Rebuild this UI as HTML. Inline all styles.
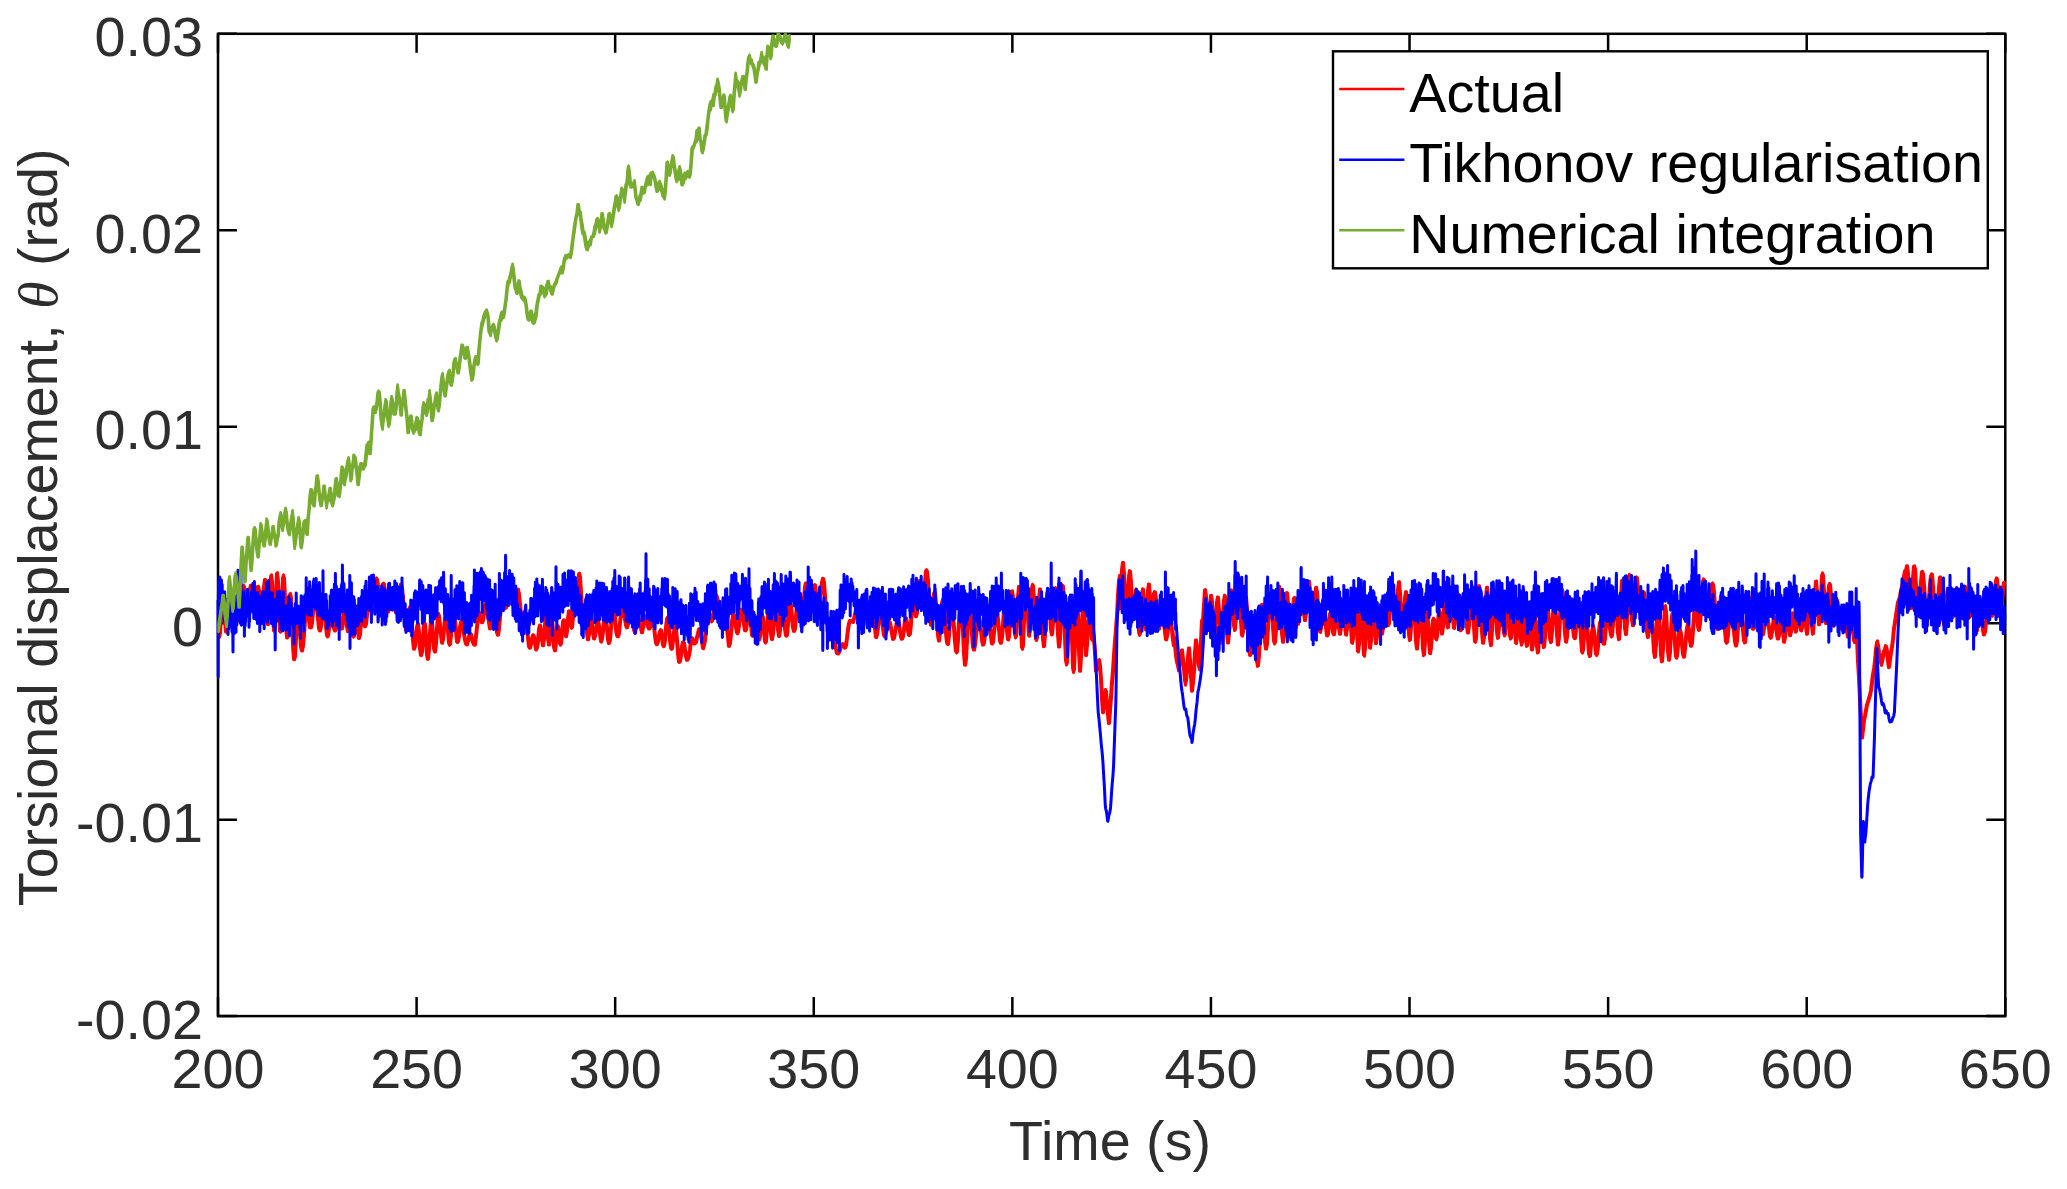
<!DOCTYPE html>
<html><head><meta charset="utf-8"><style>html,body{margin:0;padding:0;background:#fff;overflow:hidden}svg{display:block}text{font-family:"Liberation Sans",sans-serif;font-size:55.7px}</style></head>
<body><svg width="2067" height="1189" viewBox="0 0 2067 1189">
<rect width="2067" height="1189" fill="#fff"/>
<rect x="218.0" y="33.8" width="1787.30" height="982.30" fill="none" stroke="#000" stroke-width="2.5"/>
<path d="M218.00 1016.1V997.1M218.00 33.8V52.8M416.59 1016.1V997.1M416.59 33.8V52.8M615.18 1016.1V997.1M615.18 33.8V52.8M813.77 1016.1V997.1M813.77 33.8V52.8M1012.36 1016.1V997.1M1012.36 33.8V52.8M1210.94 1016.1V997.1M1210.94 33.8V52.8M1409.53 1016.1V997.1M1409.53 33.8V52.8M1608.12 1016.1V997.1M1608.12 33.8V52.8M1806.71 1016.1V997.1M1806.71 33.8V52.8M2005.30 1016.1V997.1M2005.30 33.8V52.8M218.0 1016.10H237.0M2005.3 1016.10H1986.3M218.0 819.64H237.0M2005.3 819.64H1986.3M218.0 623.18H237.0M2005.3 623.18H1986.3M218.0 426.72H237.0M2005.3 426.72H1986.3M218.0 230.26H237.0M2005.3 230.26H1986.3M218.0 33.80H237.0M2005.3 33.80H1986.3" stroke="#000" stroke-width="2.5" fill="none"/>
<g stroke-width="3.0" stroke-linejoin="round">
<path fill="#f00" stroke="#f00" d="M218.5 618.6 219.5 633.4 220.5 616.4 221.5 598.8 222.5 595.1 223.5 596.1 224.5 605.9 225.5 620.9 226.5 626.9 227.5 614.8 228.5 600.9 229.5 597.9 230.5 598.9 231.5 609.8 232.5 622.4 233.5 624.6 234.5 614.5 235.5 603.7 236.5 600.1 237.5 600.3 238.5 607.3 239.5 617.2 240.5 613.7 241.5 600.4 242.5 588.3 243.5 585.1 244.5 586.7 245.5 594.9 246.5 605.7 247.5 611.8 248.5 600.5 249.5 588.9 250.5 585.2 251.5 585.2 252.5 591.0 253.5 602.2 254.5 612.4 255.5 601.6 256.5 592.0 257.5 586.4 258.5 586.3 259.5 590.5 260.5 602.5 261.5 612.8 262.5 602.4 263.5 586.8 264.5 579.4 265.5 579.4 266.5 590.6 267.5 611.4 268.5 617.1 269.5 595.3 270.5 576.3 271.5 574.8 272.5 581.9 273.5 608.5 274.5 623.4 275.5 594.4 276.5 573.5 277.5 572.6 278.5 581.2 279.5 608.6 280.5 625.7 281.5 601.8 282.5 578.0 283.5 574.9 284.5 578.4 285.5 597.8 286.5 624.1 287.5 631.2 288.5 610.2 289.5 594.7 290.5 593.4 291.5 597.9 292.5 617.7 293.5 645.5 294.5 656.3 295.5 638.2 296.5 619.7 297.5 610.2 298.5 609.6 299.5 613.7 300.5 630.8 301.5 646.6 302.5 645.8 303.5 634.5 304.5 620.6 305.5 612.3 306.5 608.9 307.5 608.8 308.5 612.6 309.5 620.0 310.5 627.5 311.5 623.1 312.5 612.4 313.5 604.3 314.5 598.2 315.5 597.9 316.5 599.9 317.5 607.6 318.5 618.5 319.5 628.7 320.5 626.5 321.5 615.1 322.5 607.7 323.5 606.1 324.5 606.3 325.5 612.3 326.5 626.5 327.5 635.5 328.5 628.9 329.5 620.0 330.5 615.9 331.5 614.9 332.5 615.6 333.5 621.4 334.5 628.3 335.5 628.6 336.5 622.5 337.5 615.2 338.5 612.8 339.5 612.8 340.5 619.0 341.5 626.9 342.5 622.6 343.5 614.0 344.5 611.4 345.5 611.4 346.5 616.4 347.5 626.6 348.5 623.3 349.5 612.9 350.5 612.0 351.5 614.3 352.5 624.8 353.5 635.7 354.5 624.7 355.5 616.5 356.5 616.0 357.5 620.4 358.5 631.5 359.5 634.3 360.5 622.9 361.5 616.7 362.5 615.9 363.5 617.0 364.5 624.1 365.5 623.9 366.5 615.4 367.5 608.8 368.5 604.1 369.5 603.9 370.5 605.9 371.5 610.4 372.5 606.2 373.5 594.4 374.5 584.3 375.5 578.9 376.5 577.8 377.5 579.5 378.5 585.0 379.5 589.2 380.5 590.4 381.5 586.9 382.5 584.0 383.5 583.0 384.5 584.2 385.5 593.3 386.5 600.6 387.5 607.6 388.5 609.9 389.5 604.1 390.5 597.8 391.5 597.0 392.5 597.6 393.5 598.1 394.5 602.6 395.5 607.0 396.5 612.2 397.5 607.4 398.5 598.2 399.5 590.2 400.5 584.3 401.5 584.3 402.5 587.4 403.5 598.7 404.5 610.9 405.5 623.1 406.5 629.3 407.5 620.1 408.5 610.6 409.5 607.1 410.5 607.1 411.5 611.7 412.5 625.4 413.5 640.9 414.5 646.1 415.5 636.9 416.5 627.0 417.5 623.4 418.5 623.7 419.5 632.3 420.5 648.2 421.5 652.2 422.5 638.7 423.5 625.0 424.5 622.3 425.5 624.2 426.5 638.3 427.5 654.9 428.5 649.3 429.5 633.1 430.5 620.6 431.5 619.3 432.5 621.5 433.5 635.6 434.5 648.6 435.5 643.6 436.5 629.1 437.5 615.4 438.5 613.4 439.5 615.6 440.5 625.7 441.5 634.7 442.5 639.7 443.5 629.5 444.5 618.7 445.5 611.1 446.5 611.1 447.5 617.3 448.5 630.9 449.5 643.0 450.5 635.0 451.5 621.7 452.5 611.3 453.5 608.7 454.5 609.5 455.5 618.9 456.5 630.9 457.5 641.7 458.5 636.4 459.5 627.0 460.5 622.2 461.5 619.9 462.5 620.4 463.5 626.6 464.5 634.1 465.5 640.0 466.5 644.0 467.5 641.1 468.5 636.7 469.5 633.3 470.5 633.3 471.5 634.3 472.5 639.4 473.5 642.6 474.5 644.5 475.5 636.1 476.5 626.9 477.5 617.6 478.5 612.6 479.5 612.2 480.5 615.3 481.5 619.5 482.5 620.6 483.5 614.3 484.5 606.1 485.5 603.6 486.5 603.4 487.5 606.1 488.5 614.5 489.5 622.6 490.5 627.8 491.5 620.2 492.5 612.3 493.5 609.2 494.5 609.3 495.5 613.4 496.5 623.7 497.5 632.4 498.5 628.9 499.5 617.3 500.5 601.1 501.5 593.1 502.5 592.0 503.5 593.9 504.5 601.1 505.5 607.3 506.5 603.2 507.5 595.0 508.5 585.4 509.5 581.3 510.5 579.8 511.5 579.6 512.5 582.9 513.5 589.6 514.5 596.3 515.5 593.5 516.5 590.1 517.5 589.3 518.5 589.2 519.5 594.3 520.5 604.3 521.5 614.6 522.5 620.8 523.5 615.1 524.5 611.3 525.5 611.3 526.5 616.3 527.5 626.6 528.5 637.8 529.5 646.5 530.5 644.2 531.5 638.7 532.5 635.0 533.5 634.7 534.5 636.4 535.5 642.7 536.5 647.7 537.5 641.4 538.5 629.0 539.5 625.0 540.5 625.0 541.5 631.4 542.5 640.0 543.5 639.1 544.5 624.1 545.5 616.2 546.5 616.0 547.5 623.1 548.5 638.5 549.5 638.7 550.5 623.4 551.5 617.3 552.5 617.5 553.5 630.5 554.5 647.2 555.5 642.4 556.5 629.2 557.5 625.4 558.5 626.5 559.5 635.1 560.5 643.5 561.5 633.1 562.5 621.4 563.5 619.7 564.5 620.1 565.5 627.6 566.5 631.2 567.5 618.6 568.5 611.0 569.5 610.7 570.5 614.9 571.5 624.9 572.5 617.0 573.5 600.5 574.5 596.0 575.5 596.9 576.5 604.3 577.5 592.1 578.5 573.9 579.5 573.2 580.5 576.8 581.5 592.4 582.5 609.2 583.5 608.3 584.5 606.3 585.5 607.4 586.5 616.4 587.5 632.6 588.5 634.5 589.5 625.4 590.5 619.7 591.5 619.5 592.5 624.4 593.5 632.1 594.5 636.2 595.5 630.3 596.5 622.3 597.5 619.3 598.5 619.7 599.5 625.7 600.5 633.9 601.5 638.8 602.5 631.6 603.5 620.1 604.5 614.5 605.5 614.2 606.5 617.2 607.5 628.2 608.5 639.7 609.5 639.8 610.5 628.1 611.5 616.1 612.5 609.7 613.5 608.7 614.5 610.1 615.5 617.6 616.5 630.0 617.5 635.3 618.5 633.3 619.5 622.6 620.5 614.2 621.5 609.6 622.5 608.6 623.5 608.6 624.5 613.6 625.5 618.9 626.5 625.2 627.5 624.4 628.5 618.9 629.5 613.5 630.5 610.3 631.5 610.3 632.5 612.7 633.5 622.3 634.5 629.8 635.5 627.9 636.5 620.5 637.5 616.6 638.5 616.8 639.5 620.2 640.5 624.9 641.5 628.0 642.5 627.7 643.5 622.8 644.5 617.8 645.5 615.9 646.5 616.4 647.5 620.3 648.5 626.7 649.5 627.7 650.5 623.0 651.5 618.3 652.5 618.3 653.5 619.1 654.5 625.7 655.5 635.8 656.5 642.9 657.5 641.6 658.5 635.5 659.5 631.5 660.5 629.6 661.5 630.3 662.5 637.0 663.5 644.8 664.5 640.4 665.5 627.4 666.5 618.7 667.5 617.0 668.5 618.3 669.5 627.3 670.5 640.2 671.5 648.1 672.5 640.5 673.5 632.3 674.5 625.2 675.5 625.2 676.5 627.9 677.5 640.3 678.5 653.3 679.5 661.3 680.5 655.5 681.5 646.4 682.5 641.9 683.5 641.8 684.5 642.6 685.5 650.1 686.5 656.3 687.5 658.9 688.5 654.9 689.5 649.4 690.5 640.2 691.5 637.9 692.5 637.8 693.5 640.3 694.5 643.4 695.5 642.4 696.5 637.3 697.5 633.4 698.5 629.1 699.5 628.5 700.5 630.7 701.5 635.3 702.5 641.5 703.5 645.1 704.5 640.4 705.5 630.2 706.5 619.8 707.5 613.7 708.5 613.1 709.5 613.2 710.5 615.7 711.5 620.9 712.5 617.2 713.5 609.8 714.5 599.4 715.5 595.1 716.5 595.0 717.5 597.0 718.5 602.6 719.5 610.7 720.5 616.2 721.5 618.9 722.5 614.5 723.5 612.6 724.5 612.6 725.5 614.5 726.5 620.9 727.5 628.6 728.5 637.0 729.5 643.1 730.5 634.4 731.5 622.0 732.5 615.4 733.5 614.5 734.5 614.7 735.5 619.1 736.5 627.5 737.5 632.2 738.5 625.2 739.5 617.3 740.5 610.0 741.5 609.2 742.5 610.0 743.5 614.8 744.5 624.2 745.5 629.8 746.5 623.6 747.5 614.0 748.5 609.7 749.5 609.7 750.5 613.7 751.5 623.6 752.5 635.0 753.5 627.1 754.5 618.7 755.5 617.0 756.5 617.1 757.5 623.1 758.5 633.8 759.5 636.4 760.5 625.9 761.5 615.5 762.5 614.9 763.5 617.6 764.5 629.6 765.5 641.2 766.5 628.5 767.5 614.6 768.5 610.5 769.5 610.9 770.5 618.4 771.5 633.7 772.5 633.8 773.5 620.5 774.5 607.7 775.5 606.0 776.5 606.7 777.5 615.9 778.5 629.5 779.5 630.8 780.5 618.8 781.5 607.1 782.5 603.6 783.5 603.7 784.5 613.0 785.5 629.0 786.5 635.0 787.5 624.4 788.5 611.5 789.5 605.5 790.5 604.2 791.5 605.7 792.5 616.9 793.5 627.4 794.5 628.9 795.5 616.1 796.5 604.6 797.5 598.8 798.5 598.0 799.5 599.8 800.5 607.5 801.5 616.1 802.5 610.5 803.5 598.0 804.5 586.6 805.5 583.0 806.5 583.0 807.5 587.1 808.5 595.4 809.5 605.6 810.5 607.1 811.5 598.7 812.5 590.5 813.5 585.8 814.5 584.6 815.5 585.0 816.5 593.0 817.5 602.9 818.5 609.3 819.5 602.4 820.5 591.2 821.5 582.3 822.5 578.3 823.5 578.4 824.5 582.8 825.5 596.1 826.5 610.7 827.5 619.5 828.5 620.1 829.5 619.8 830.5 620.6 831.5 621.6 832.5 626.0 833.5 629.6 834.5 634.3 835.5 643.5 836.5 649.0 837.5 653.4 838.5 652.2 839.5 650.3 840.5 645.6 841.5 645.1 842.5 643.6 843.5 644.1 844.5 646.7 845.5 645.6 846.5 638.2 847.5 629.6 848.5 623.5 849.5 620.5 850.5 620.5 851.5 620.3 852.5 620.9 853.5 618.7 854.5 614.1 855.5 610.4 856.5 608.7 857.5 609.0 858.5 613.3 859.5 619.8 860.5 620.6 861.5 616.6 862.5 609.9 863.5 607.5 864.5 607.4 865.5 608.6 866.5 615.8 867.5 622.6 868.5 625.0 869.5 619.6 870.5 610.1 871.5 605.6 872.5 605.5 873.5 608.9 874.5 617.6 875.5 628.4 876.5 634.7 877.5 627.7 878.5 616.9 879.5 611.5 880.5 611.3 881.5 613.8 882.5 620.7 883.5 628.4 884.5 635.4 885.5 632.9 886.5 629.2 887.5 623.2 888.5 621.6 889.5 621.5 890.5 622.7 891.5 628.0 892.5 633.6 893.5 638.1 894.5 632.9 895.5 626.9 896.5 621.2 897.5 619.5 898.5 619.6 899.5 623.6 900.5 631.4 901.5 637.1 902.5 636.5 903.5 629.4 904.5 619.8 905.5 617.9 906.5 617.9 907.5 622.4 908.5 630.9 909.5 633.7 910.5 624.0 911.5 607.3 912.5 598.4 913.5 598.0 914.5 600.8 915.5 611.6 916.5 612.8 917.5 600.8 918.5 584.9 919.5 580.4 920.5 580.3 921.5 584.2 922.5 592.4 923.5 596.5 924.5 582.4 925.5 571.0 926.5 569.7 927.5 571.3 928.5 580.5 929.5 598.4 930.5 618.0 931.5 620.0 932.5 607.0 933.5 593.6 934.5 591.7 935.5 592.8 936.5 602.8 937.5 621.1 938.5 635.1 939.5 632.8 940.5 616.6 941.5 603.2 942.5 599.0 943.5 599.0 944.5 605.8 945.5 619.2 946.5 633.7 947.5 642.7 948.5 635.1 949.5 622.3 950.5 611.2 951.5 607.4 952.5 608.1 953.5 613.6 954.5 627.8 955.5 641.7 956.5 651.0 957.5 640.3 958.5 621.3 959.5 605.6 960.5 600.8 961.5 601.1 962.5 610.8 963.5 631.8 964.5 653.6 965.5 658.9 966.5 640.8 967.5 618.9 968.5 605.0 969.5 603.4 970.5 605.0 971.5 618.2 972.5 634.5 973.5 647.1 974.5 645.3 975.5 636.1 976.5 626.4 977.5 618.6 978.5 616.5 979.5 616.9 980.5 622.1 981.5 629.9 982.5 640.3 983.5 642.9 984.5 634.0 985.5 623.6 986.5 615.0 987.5 612.8 988.5 613.1 989.5 617.1 990.5 626.8 991.5 636.9 992.5 642.3 993.5 633.2 994.5 622.6 995.5 612.6 996.5 610.3 997.5 611.2 998.5 619.1 999.5 629.2 1000.5 641.2 1001.5 637.6 1002.5 625.2 1003.5 609.4 1004.5 604.2 1005.5 604.5 1006.5 614.8 1007.5 631.0 1008.5 636.6 1009.5 621.8 1010.5 601.9 1011.5 591.2 1012.5 590.8 1013.5 597.0 1014.5 617.5 1015.5 634.0 1016.5 621.6 1017.5 597.4 1018.5 586.4 1019.5 586.4 1020.5 598.0 1021.5 626.7 1022.5 645.6 1023.5 620.2 1024.5 590.0 1025.5 578.6 1026.5 578.7 1027.5 592.3 1028.5 617.5 1029.5 628.1 1030.5 606.4 1031.5 588.0 1032.5 584.3 1033.5 585.8 1034.5 599.6 1035.5 623.5 1036.5 637.8 1037.5 621.5 1038.5 599.8 1039.5 589.1 1040.5 589.1 1041.5 596.2 1042.5 615.2 1043.5 638.3 1044.5 634.3 1045.5 615.5 1046.5 596.3 1047.5 589.2 1048.5 589.2 1049.5 596.5 1050.5 613.9 1051.5 630.0 1052.5 623.0 1053.5 604.0 1054.5 589.1 1055.5 587.5 1056.5 591.2 1057.5 609.5 1058.5 634.3 1059.5 639.6 1060.5 613.7 1061.5 592.0 1062.5 585.2 1063.5 586.1 1064.5 605.5 1065.5 637.6 1066.5 660.5 1067.5 640.0 1068.5 612.9 1069.5 597.3 1070.5 597.3 1071.5 609.2 1072.5 638.4 1073.5 667.7 1074.5 643.3 1075.5 610.6 1076.5 597.2 1077.5 597.2 1078.5 615.1 1079.5 650.6 1080.5 657.1 1081.5 624.0 1082.5 602.2 1083.5 601.4 1084.5 611.5 1085.5 639.1 1086.5 644.6 1087.5 626.2 1088.5 613.8 1089.5 612.2 1090.5 614.4 1091.5 627.4 1092.5 637.9 1093.5 629.3 1094.5 639.7 1095.5 651.9 1096.5 668.9 1097.5 664.2 1098.5 660.6 1099.5 659.5 1100.5 665.7 1101.5 678.8 1102.5 698.5 1103.5 700.0 1104.5 694.1 1105.5 689.4 1106.5 691.7 1107.5 703.9 1108.5 715.0 1109.5 710.6 1110.5 697.3 1111.5 682.8 1112.5 670.3 1113.5 655.0 1114.5 641.0 1115.5 629.6 1116.5 615.5 1117.5 595.3 1118.5 580.9 1119.5 575.4 1120.5 587.2 1121.5 570.0 1122.5 562.4 1123.5 562.5 1124.5 574.0 1125.5 593.4 1126.5 610.5 1127.5 595.2 1128.5 576.1 1129.5 570.6 1130.5 571.4 1131.5 582.2 1132.5 603.0 1133.5 616.5 1134.5 603.7 1135.5 590.1 1136.5 589.6 1137.5 593.7 1138.5 610.2 1139.5 632.2 1140.5 615.8 1141.5 594.7 1142.5 588.7 1143.5 589.3 1144.5 604.7 1145.5 625.6 1146.5 610.6 1147.5 590.4 1148.5 584.0 1149.5 584.3 1150.5 597.4 1151.5 612.6 1152.5 605.6 1153.5 593.5 1154.5 591.6 1155.5 592.1 1156.5 599.2 1157.5 613.5 1158.5 625.5 1159.5 621.2 1160.5 610.5 1161.5 606.2 1162.5 606.2 1163.5 609.9 1164.5 620.6 1165.5 632.1 1166.5 636.4 1167.5 629.6 1168.5 621.7 1169.5 618.0 1170.5 618.2 1171.5 621.6 1172.5 629.5 1173.5 635.6 1174.5 637.4 1175.5 645.2 1176.5 655.4 1177.5 661.8 1178.5 665.6 1179.5 662.8 1180.5 658.7 1181.5 649.9 1182.5 649.9 1183.5 659.3 1184.5 669.0 1185.5 680.1 1186.5 669.5 1187.5 656.8 1188.5 648.1 1189.5 648.1 1190.5 660.5 1191.5 676.1 1192.5 682.6 1193.5 671.3 1194.5 652.5 1195.5 640.1 1196.5 640.1 1197.5 647.5 1198.5 659.5 1199.5 662.0 1200.5 641.3 1201.5 620.4 1202.5 620.4 1203.5 605.1 1204.5 590.1 1205.5 589.5 1206.5 596.1 1207.5 615.8 1208.5 622.8 1209.5 606.8 1210.5 595.4 1211.5 595.3 1212.5 601.0 1213.5 619.3 1214.5 631.9 1215.5 617.4 1216.5 602.0 1217.5 596.9 1218.5 597.1 1219.5 611.1 1220.5 632.0 1221.5 635.0 1222.5 615.3 1223.5 600.2 1224.5 595.1 1225.5 596.1 1226.5 613.9 1227.5 632.7 1228.5 633.3 1229.5 610.1 1230.5 593.0 1231.5 589.9 1232.5 592.2 1233.5 606.7 1234.5 625.4 1235.5 616.7 1236.5 595.3 1237.5 575.9 1238.5 574.5 1239.5 580.6 1240.5 600.7 1241.5 622.0 1242.5 631.9 1243.5 615.7 1244.5 601.3 1245.5 597.2 1246.5 597.3 1247.5 608.1 1248.5 625.9 1249.5 645.8 1250.5 653.1 1251.5 641.1 1252.5 629.0 1253.5 625.7 1254.5 624.9 1255.5 627.8 1256.5 644.6 1257.5 661.1 1258.5 655.3 1259.5 636.2 1260.5 616.5 1261.5 604.4 1262.5 604.2 1263.5 608.5 1264.5 624.0 1265.5 641.2 1266.5 644.2 1267.5 627.4 1268.5 607.0 1269.5 594.9 1270.5 594.7 1271.5 596.5 1272.5 608.3 1273.5 626.6 1274.5 641.1 1275.5 630.4 1276.5 612.0 1277.5 595.0 1278.5 586.3 1279.5 586.3 1280.5 594.7 1281.5 616.4 1282.5 633.4 1283.5 635.7 1284.5 619.3 1285.5 599.3 1286.5 592.6 1287.5 592.8 1288.5 602.9 1289.5 619.7 1290.5 633.9 1291.5 621.9 1292.5 607.0 1293.5 598.4 1294.5 597.3 1295.5 599.0 1296.5 611.2 1297.5 622.4 1298.5 617.5 1299.5 603.5 1300.5 590.7 1301.5 588.7 1302.5 590.8 1303.5 599.8 1304.5 613.8 1305.5 613.4 1306.5 598.5 1307.5 585.5 1308.5 581.2 1309.5 581.2 1310.5 590.7 1311.5 609.1 1312.5 622.5 1313.5 614.0 1314.5 597.3 1315.5 587.6 1316.5 587.3 1317.5 592.4 1318.5 606.4 1319.5 621.1 1320.5 628.2 1321.5 617.7 1322.5 607.4 1323.5 605.2 1324.5 605.2 1325.5 612.2 1326.5 627.2 1327.5 634.3 1328.5 625.1 1329.5 614.0 1330.5 612.0 1331.5 613.6 1332.5 621.0 1333.5 632.5 1334.5 627.4 1335.5 614.6 1336.5 608.4 1337.5 608.4 1338.5 615.7 1339.5 628.3 1340.5 627.4 1341.5 613.0 1342.5 604.2 1343.5 604.2 1344.5 608.1 1345.5 623.3 1346.5 629.0 1347.5 613.1 1348.5 601.5 1349.5 600.6 1350.5 605.6 1351.5 626.7 1352.5 638.5 1353.5 616.8 1354.5 599.1 1355.5 598.0 1356.5 605.7 1357.5 630.0 1358.5 644.1 1359.5 621.9 1360.5 602.3 1361.5 601.7 1362.5 610.2 1363.5 635.8 1364.5 648.2 1365.5 621.2 1366.5 603.9 1367.5 602.9 1368.5 610.1 1369.5 633.6 1370.5 640.2 1371.5 621.7 1372.5 610.0 1373.5 609.7 1374.5 615.5 1375.5 632.0 1376.5 635.9 1377.5 617.4 1378.5 605.1 1379.5 604.8 1380.5 610.9 1381.5 624.4 1382.5 627.7 1383.5 612.8 1384.5 599.8 1385.5 597.9 1386.5 598.9 1387.5 610.3 1388.5 623.5 1389.5 611.7 1390.5 594.5 1391.5 585.3 1392.5 585.1 1393.5 589.8 1394.5 605.7 1395.5 617.5 1396.5 605.0 1397.5 589.5 1398.5 581.8 1399.5 581.8 1400.5 592.6 1401.5 612.0 1402.5 625.9 1403.5 614.8 1404.5 597.8 1405.5 591.8 1406.5 591.8 1407.5 597.3 1408.5 616.2 1409.5 634.4 1410.5 626.6 1411.5 607.1 1412.5 594.1 1413.5 593.3 1414.5 599.0 1415.5 620.7 1416.5 641.0 1417.5 636.2 1418.5 614.2 1419.5 601.2 1420.5 600.8 1421.5 607.3 1422.5 628.1 1423.5 648.4 1424.5 641.8 1425.5 622.2 1426.5 613.0 1427.5 613.0 1428.5 622.0 1429.5 641.0 1430.5 648.0 1431.5 631.8 1432.5 620.2 1433.5 618.1 1434.5 619.4 1435.5 632.2 1436.5 636.6 1437.5 621.9 1438.5 611.0 1439.5 610.1 1440.5 613.7 1441.5 626.1 1442.5 626.6 1443.5 608.2 1444.5 601.3 1445.5 601.2 1446.5 608.6 1447.5 622.8 1448.5 616.2 1449.5 600.2 1450.5 594.0 1451.5 594.0 1452.5 602.4 1453.5 618.0 1454.5 622.2 1455.5 606.2 1456.5 593.6 1457.5 592.2 1458.5 595.3 1459.5 610.5 1460.5 627.6 1461.5 620.4 1462.5 603.9 1463.5 593.6 1464.5 593.2 1465.5 597.3 1466.5 611.4 1467.5 626.9 1468.5 625.2 1469.5 607.8 1470.5 594.4 1471.5 591.3 1472.5 591.9 1473.5 605.1 1474.5 626.8 1475.5 638.6 1476.5 620.0 1477.5 597.8 1478.5 585.8 1479.5 585.8 1480.5 594.5 1481.5 612.4 1482.5 631.9 1483.5 637.4 1484.5 618.2 1485.5 597.3 1486.5 587.2 1487.5 587.2 1488.5 597.0 1489.5 619.4 1490.5 638.7 1491.5 630.1 1492.5 608.6 1493.5 595.5 1494.5 595.1 1495.5 599.1 1496.5 613.7 1497.5 631.9 1498.5 626.9 1499.5 610.4 1500.5 600.6 1501.5 600.3 1502.5 603.9 1503.5 619.6 1504.5 633.0 1505.5 619.1 1506.5 604.6 1507.5 601.3 1508.5 602.3 1509.5 617.7 1510.5 635.4 1511.5 619.6 1512.5 603.3 1513.5 601.9 1514.5 606.8 1515.5 627.9 1516.5 636.0 1517.5 615.0 1518.5 606.6 1519.5 606.6 1520.5 620.9 1521.5 640.5 1522.5 626.1 1523.5 613.0 1524.5 612.5 1525.5 620.7 1526.5 640.5 1527.5 633.1 1528.5 620.1 1529.5 617.8 1530.5 621.9 1531.5 639.3 1532.5 643.5 1533.5 624.9 1534.5 616.1 1535.5 616.5 1536.5 627.8 1537.5 646.4 1538.5 636.7 1539.5 616.9 1540.5 611.0 1541.5 611.3 1542.5 622.6 1543.5 640.5 1544.5 637.4 1545.5 620.8 1546.5 608.4 1547.5 607.2 1548.5 609.6 1549.5 623.8 1550.5 638.5 1551.5 631.7 1552.5 613.4 1553.5 602.8 1554.5 600.6 1555.5 602.7 1556.5 616.5 1557.5 634.4 1558.5 637.1 1559.5 617.9 1560.5 598.2 1561.5 589.9 1562.5 589.4 1563.5 594.9 1564.5 613.8 1565.5 633.1 1566.5 636.7 1567.5 623.6 1568.5 608.3 1569.5 602.9 1570.5 602.5 1571.5 605.1 1572.5 615.6 1573.5 627.9 1574.5 637.1 1575.5 630.1 1576.5 617.2 1577.5 607.5 1578.5 605.4 1579.5 607.5 1580.5 620.7 1581.5 638.2 1582.5 650.0 1583.5 636.2 1584.5 617.8 1585.5 610.7 1586.5 610.9 1587.5 621.6 1588.5 639.4 1589.5 653.8 1590.5 645.5 1591.5 632.2 1592.5 625.6 1593.5 625.6 1594.5 630.8 1595.5 642.3 1596.5 653.8 1597.5 646.6 1598.5 631.3 1599.5 622.5 1600.5 621.1 1601.5 623.5 1602.5 633.3 1603.5 642.4 1604.5 638.5 1605.5 625.0 1606.5 616.6 1607.5 613.6 1608.5 613.9 1609.5 619.2 1610.5 628.3 1611.5 635.1 1612.5 623.9 1613.5 608.7 1614.5 598.8 1615.5 597.3 1616.5 599.5 1617.5 616.1 1618.5 632.8 1619.5 626.4 1620.5 599.3 1621.5 580.6 1622.5 579.8 1623.5 583.9 1624.5 603.2 1625.5 627.7 1626.5 622.1 1627.5 596.8 1628.5 578.3 1629.5 574.4 1630.5 577.9 1631.5 597.7 1632.5 619.7 1633.5 616.3 1634.5 596.1 1635.5 579.2 1636.5 576.8 1637.5 578.0 1638.5 590.0 1639.5 605.7 1640.5 611.9 1641.5 602.7 1642.5 593.3 1643.5 591.8 1644.5 592.7 1645.5 602.7 1646.5 619.9 1647.5 632.3 1648.5 628.7 1649.5 614.6 1650.5 609.9 1651.5 609.9 1652.5 618.1 1653.5 634.7 1654.5 652.1 1655.5 643.9 1656.5 619.5 1657.5 606.5 1658.5 605.9 1659.5 611.6 1660.5 632.5 1661.5 654.6 1662.5 648.4 1663.5 623.7 1664.5 606.5 1665.5 605.5 1666.5 611.0 1667.5 630.7 1668.5 651.1 1669.5 651.9 1670.5 631.8 1671.5 616.0 1672.5 612.5 1673.5 613.7 1674.5 625.5 1675.5 643.9 1676.5 656.1 1677.5 645.1 1678.5 633.5 1679.5 629.4 1680.5 629.5 1681.5 634.0 1682.5 644.6 1683.5 654.1 1684.5 648.9 1685.5 637.5 1686.5 628.2 1687.5 623.5 1688.5 623.5 1689.5 629.8 1690.5 640.7 1691.5 643.0 1692.5 630.1 1693.5 614.5 1694.5 603.2 1695.5 602.4 1696.5 604.4 1697.5 614.6 1698.5 626.7 1699.5 624.0 1700.5 609.3 1701.5 592.8 1702.5 581.4 1703.5 578.8 1704.5 580.4 1705.5 584.1 1706.5 594.4 1707.5 604.6 1708.5 606.3 1709.5 599.8 1710.5 590.8 1711.5 584.1 1712.5 582.9 1713.5 584.5 1714.5 592.0 1715.5 606.0 1716.5 619.1 1717.5 628.0 1718.5 620.6 1719.5 607.8 1720.5 596.4 1721.5 594.4 1722.5 595.4 1723.5 601.9 1724.5 615.9 1725.5 630.5 1726.5 641.7 1727.5 634.6 1728.5 621.1 1729.5 609.1 1730.5 605.4 1731.5 605.4 1732.5 609.9 1733.5 620.2 1734.5 631.9 1735.5 641.4 1736.5 641.2 1737.5 626.9 1738.5 613.0 1739.5 603.7 1740.5 602.9 1741.5 605.4 1742.5 616.8 1743.5 630.7 1744.5 640.4 1745.5 632.5 1746.5 617.7 1747.5 603.9 1748.5 597.6 1749.5 596.9 1750.5 600.9 1751.5 611.6 1752.5 622.8 1753.5 628.2 1754.5 622.6 1755.5 615.0 1756.5 611.1 1757.5 607.9 1758.5 607.9 1759.5 613.1 1760.5 619.7 1761.5 627.4 1762.5 633.2 1763.5 628.8 1764.5 618.5 1765.5 613.0 1766.5 612.9 1767.5 614.6 1768.5 620.7 1769.5 628.2 1770.5 636.5 1771.5 632.1 1772.5 624.4 1773.5 617.0 1774.5 616.6 1775.5 618.3 1776.5 625.9 1777.5 635.2 1778.5 635.5 1779.5 625.0 1780.5 614.7 1781.5 614.2 1782.5 617.0 1783.5 631.5 1784.5 637.1 1785.5 622.9 1786.5 614.7 1787.5 614.3 1788.5 617.6 1789.5 627.2 1790.5 631.7 1791.5 619.3 1792.5 612.8 1793.5 612.8 1794.5 618.2 1795.5 628.7 1796.5 624.3 1797.5 612.7 1798.5 610.0 1799.5 611.2 1800.5 621.5 1801.5 627.6 1802.5 613.7 1803.5 602.8 1804.5 602.8 1805.5 609.0 1806.5 626.0 1807.5 621.9 1808.5 602.2 1809.5 591.7 1810.5 591.7 1811.5 603.5 1812.5 626.4 1813.5 618.1 1814.5 594.6 1815.5 581.2 1816.5 581.1 1817.5 591.6 1818.5 613.6 1819.5 617.5 1820.5 596.0 1821.5 575.8 1822.5 572.9 1823.5 575.4 1824.5 591.1 1825.5 611.7 1826.5 613.5 1827.5 599.1 1828.5 585.5 1829.5 583.3 1830.5 584.4 1831.5 596.0 1832.5 614.4 1833.5 623.4 1834.5 613.8 1835.5 602.7 1836.5 599.7 1837.5 600.3 1838.5 607.1 1839.5 616.7 1840.5 626.0 1841.5 624.3 1842.5 615.9 1843.5 611.2 1844.5 611.0 1845.5 614.1 1846.5 621.0 1847.5 631.1 1848.5 634.1 1849.5 623.7 1850.5 619.2 1851.5 619.2 1852.5 621.6 1853.5 631.0 1854.5 640.2 1855.5 638.4 1856.5 629.2 1857.5 621.6 1858.5 661.2 1859.5 677.7 1860.5 699.0 1861.5 718.7 1862.5 729.4 1863.5 720.3 1864.5 716.0 1865.5 710.4 1866.5 704.8 1867.5 702.1 1868.5 698.3 1869.5 695.3 1870.5 690.5 1871.5 682.5 1872.5 674.2 1873.5 669.4 1874.5 660.8 1875.5 649.5 1876.5 642.5 1877.5 640.8 1878.5 645.2 1879.5 652.3 1880.5 656.8 1881.5 662.0 1882.5 656.9 1883.5 651.4 1884.5 649.2 1885.5 645.5 1886.5 646.4 1887.5 650.9 1888.5 661.1 1889.5 659.6 1890.5 652.5 1891.5 646.9 1892.5 639.6 1893.5 628.4 1894.5 622.1 1895.5 615.4 1896.5 608.6 1897.5 602.3 1898.5 599.8 1899.5 596.4 1900.5 590.3 1901.5 586.3 1902.5 582.2 1903.5 576.5 1904.5 570.9 1905.5 570.9 1906.5 565.7 1907.5 565.7 1908.5 573.7 1909.5 589.0 1910.5 605.3 1911.5 597.0 1912.5 577.8 1913.5 566.4 1914.5 565.8 1915.5 569.0 1916.5 585.2 1917.5 603.9 1918.5 612.4 1919.5 597.5 1920.5 582.2 1921.5 571.8 1922.5 571.3 1923.5 573.9 1924.5 584.9 1925.5 602.1 1926.5 614.1 1927.5 614.0 1928.5 599.2 1929.5 584.4 1930.5 576.0 1931.5 573.8 1932.5 574.5 1933.5 586.7 1934.5 602.3 1935.5 615.0 1936.5 618.3 1937.5 602.5 1938.5 587.5 1939.5 577.4 1940.5 576.9 1941.5 580.7 1942.5 595.4 1943.5 613.6 1944.5 624.0 1945.5 611.0 1946.5 594.9 1947.5 588.3 1948.5 588.3 1949.5 593.2 1950.5 602.9 1951.5 612.6 1952.5 616.7 1953.5 610.0 1954.5 603.9 1955.5 599.1 1956.5 598.7 1957.5 600.8 1958.5 605.1 1959.5 611.9 1960.5 614.7 1961.5 610.1 1962.5 600.1 1963.5 590.1 1964.5 586.6 1965.5 586.6 1966.5 592.5 1967.5 602.5 1968.5 614.7 1969.5 611.6 1970.5 601.2 1971.5 592.8 1972.5 592.7 1973.5 595.6 1974.5 604.3 1975.5 618.8 1976.5 629.0 1977.5 622.4 1978.5 612.7 1979.5 606.6 1980.5 606.3 1981.5 609.2 1982.5 619.6 1983.5 630.3 1984.5 631.9 1985.5 622.9 1986.5 612.8 1987.5 604.4 1988.5 601.9 1989.5 602.0 1990.5 603.9 1991.5 612.0 1992.5 613.7 1993.5 602.0 1994.5 589.9 1995.5 580.8 1996.5 577.8 1997.5 578.8 1998.5 591.0 1999.5 606.5 2000.5 616.6 2001.5 602.2 2002.5 589.0 2003.5 582.6 2004.5 582.2 2004.5 584.3 2003.5 589.0 2002.5 602.2 2001.5 616.6 2000.5 618.6 1999.5 616.6 1998.5 606.5 1997.5 591.0 1996.5 580.8 1995.5 589.9 1994.5 602.0 1993.5 613.7 1992.5 616.2 1991.5 616.1 1990.5 612.0 1989.5 603.9 1988.5 604.4 1987.5 612.8 1986.5 622.9 1985.5 631.9 1984.5 634.9 1983.5 634.9 1982.5 630.3 1981.5 619.6 1980.5 609.2 1979.5 612.7 1978.5 622.4 1977.5 630.7 1976.5 631.1 1975.5 629.0 1974.5 618.8 1973.5 604.3 1972.5 595.6 1971.5 601.2 1970.5 611.6 1969.5 617.6 1968.5 618.0 1967.5 614.7 1966.5 602.5 1965.5 592.5 1964.5 590.1 1963.5 600.1 1962.5 610.1 1961.5 614.7 1960.5 616.7 1959.5 616.3 1958.5 611.9 1957.5 605.1 1956.5 600.8 1955.5 603.9 1954.5 610.0 1953.5 616.7 1952.5 617.9 1951.5 617.5 1950.5 612.6 1949.5 602.9 1948.5 593.2 1947.5 594.9 1946.5 611.0 1945.5 624.0 1944.5 626.2 1943.5 625.2 1942.5 613.6 1941.5 595.4 1940.5 580.7 1939.5 587.5 1938.5 602.5 1937.5 618.3 1936.5 623.1 1935.5 622.9 1934.5 615.0 1933.5 602.3 1932.5 586.7 1931.5 576.0 1930.5 584.4 1929.5 599.2 1928.5 614.0 1927.5 621.0 1926.5 621.0 1925.5 614.1 1924.5 602.1 1923.5 584.9 1922.5 573.9 1921.5 582.2 1920.5 597.5 1919.5 612.4 1918.5 616.2 1917.5 615.9 1916.5 603.9 1915.5 585.2 1914.5 569.0 1913.5 577.8 1912.5 597.0 1911.5 608.4 1910.5 608.4 1909.5 605.3 1908.5 589.0 1907.5 573.7 1906.5 572.6 1905.5 582.9 1904.5 576.5 1903.5 582.2 1902.5 586.3 1901.5 590.3 1900.5 596.4 1899.5 599.8 1898.5 602.3 1897.5 608.6 1896.5 615.4 1895.5 622.1 1894.5 628.4 1893.5 639.6 1892.5 646.9 1891.5 652.5 1890.5 659.6 1889.5 667.2 1888.5 667.7 1887.5 661.1 1886.5 650.9 1885.5 649.2 1884.5 651.4 1883.5 656.9 1882.5 662.0 1881.5 665.5 1880.5 662.5 1879.5 656.8 1878.5 652.3 1877.5 645.2 1876.5 649.5 1875.5 660.8 1874.5 669.4 1873.5 674.2 1872.5 682.5 1871.5 690.5 1870.5 695.3 1869.5 698.3 1868.5 702.1 1867.5 704.8 1866.5 710.4 1865.5 716.0 1864.5 720.3 1863.5 729.4 1862.5 738.1 1861.5 738.1 1860.5 718.7 1859.5 699.0 1858.5 677.7 1857.5 661.2 1856.5 638.4 1855.5 642.6 1854.5 642.6 1853.5 640.2 1852.5 631.0 1851.5 621.6 1850.5 623.7 1849.5 634.1 1848.5 636.9 1847.5 636.9 1846.5 631.1 1845.5 621.0 1844.5 614.1 1843.5 615.9 1842.5 624.3 1841.5 628.6 1840.5 628.6 1839.5 626.0 1838.5 616.7 1837.5 607.1 1836.5 602.7 1835.5 613.8 1834.5 623.4 1833.5 626.2 1832.5 625.6 1831.5 614.4 1830.5 596.0 1829.5 585.5 1828.5 599.1 1827.5 613.5 1826.5 623.5 1825.5 623.5 1824.5 611.7 1823.5 591.1 1822.5 575.8 1821.5 596.0 1820.5 617.5 1819.5 624.8 1818.5 624.8 1817.5 613.6 1816.5 591.6 1815.5 594.6 1814.5 618.1 1813.5 633.7 1812.5 634.3 1811.5 626.4 1810.5 603.5 1809.5 602.2 1808.5 621.9 1807.5 634.2 1806.5 634.2 1805.5 626.0 1804.5 609.0 1803.5 613.7 1802.5 627.6 1801.5 631.0 1800.5 630.4 1799.5 621.5 1798.5 612.7 1797.5 624.3 1796.5 631.6 1795.5 632.2 1794.5 628.7 1793.5 618.2 1792.5 619.3 1791.5 631.7 1790.5 635.8 1789.5 635.6 1788.5 627.2 1787.5 617.6 1786.5 622.9 1785.5 637.1 1784.5 642.3 1783.5 642.1 1782.5 631.5 1781.5 617.0 1780.5 625.0 1779.5 635.5 1778.5 639.0 1777.5 639.0 1776.5 635.2 1775.5 625.9 1774.5 618.3 1773.5 624.4 1772.5 632.1 1771.5 637.6 1770.5 638.4 1769.5 636.5 1768.5 628.2 1767.5 620.7 1766.5 614.6 1765.5 618.5 1764.5 628.8 1763.5 634.6 1762.5 635.0 1761.5 633.2 1760.5 627.4 1759.5 619.7 1758.5 613.1 1757.5 611.1 1756.5 615.0 1755.5 622.6 1754.5 628.2 1753.5 629.4 1752.5 629.2 1751.5 622.8 1750.5 611.6 1749.5 600.9 1748.5 603.9 1747.5 617.7 1746.5 632.5 1745.5 642.5 1744.5 643.0 1743.5 640.4 1742.5 630.7 1741.5 616.8 1740.5 605.4 1739.5 613.0 1738.5 626.9 1737.5 641.2 1736.5 646.0 1735.5 646.0 1734.5 641.4 1733.5 631.9 1732.5 620.2 1731.5 609.9 1730.5 609.1 1729.5 621.1 1728.5 634.6 1727.5 642.2 1726.5 643.3 1725.5 641.7 1724.5 630.5 1723.5 615.9 1722.5 601.9 1721.5 596.4 1720.5 607.8 1719.5 620.6 1718.5 629.3 1717.5 629.6 1716.5 628.0 1715.5 619.1 1714.5 606.0 1713.5 592.0 1712.5 584.5 1711.5 590.8 1710.5 599.8 1709.5 606.3 1708.5 608.3 1707.5 608.3 1706.5 604.6 1705.5 594.4 1704.5 584.1 1703.5 581.4 1702.5 592.8 1701.5 609.3 1700.5 624.0 1699.5 630.1 1698.5 630.5 1697.5 626.7 1696.5 614.6 1695.5 604.4 1694.5 614.5 1693.5 630.1 1692.5 643.0 1691.5 646.3 1690.5 646.2 1689.5 640.7 1688.5 629.8 1687.5 628.2 1686.5 637.5 1685.5 648.9 1684.5 657.0 1683.5 657.3 1682.5 654.1 1681.5 644.6 1680.5 634.0 1679.5 633.5 1678.5 645.1 1677.5 656.1 1676.5 658.3 1675.5 656.7 1674.5 643.9 1673.5 625.5 1672.5 616.0 1671.5 631.8 1670.5 651.9 1669.5 660.2 1668.5 660.2 1667.5 651.1 1666.5 630.7 1665.5 611.0 1664.5 623.7 1663.5 648.4 1662.5 661.6 1661.5 661.9 1660.5 654.6 1659.5 632.5 1658.5 611.6 1657.5 619.5 1656.5 643.9 1655.5 656.9 1654.5 657.5 1653.5 652.1 1652.5 634.7 1651.5 618.1 1650.5 614.6 1649.5 628.7 1648.5 637.2 1647.5 637.5 1646.5 632.3 1645.5 619.9 1644.5 602.7 1643.5 593.3 1642.5 602.7 1641.5 611.9 1640.5 614.1 1639.5 613.5 1638.5 605.7 1637.5 590.0 1636.5 579.2 1635.5 596.1 1634.5 616.3 1633.5 625.8 1632.5 625.8 1631.5 619.7 1630.5 597.7 1629.5 578.3 1628.5 596.8 1627.5 622.1 1626.5 634.3 1625.5 634.5 1624.5 627.7 1623.5 603.2 1622.5 583.9 1621.5 599.3 1620.5 626.4 1619.5 639.4 1618.5 639.7 1617.5 632.8 1616.5 616.1 1615.5 599.5 1614.5 608.7 1613.5 623.9 1612.5 635.7 1611.5 637.0 1610.5 635.1 1609.5 628.3 1608.5 619.2 1607.5 616.6 1606.5 625.0 1605.5 638.5 1604.5 644.2 1603.5 644.2 1602.5 642.4 1601.5 633.3 1600.5 623.5 1599.5 631.3 1598.5 646.6 1597.5 654.2 1596.5 655.6 1595.5 653.8 1594.5 642.3 1593.5 630.8 1592.5 632.2 1591.5 645.5 1590.5 656.2 1589.5 656.6 1588.5 653.8 1587.5 639.4 1586.5 621.6 1585.5 617.8 1584.5 636.2 1583.5 650.0 1582.5 653.1 1581.5 651.6 1580.5 638.2 1579.5 620.7 1578.5 607.5 1577.5 617.2 1576.5 630.1 1575.5 638.3 1574.5 638.8 1573.5 637.1 1572.5 627.9 1571.5 615.6 1570.5 605.1 1569.5 608.3 1568.5 623.6 1567.5 636.7 1566.5 642.3 1565.5 641.8 1564.5 633.1 1563.5 613.8 1562.5 594.9 1561.5 598.2 1560.5 617.9 1559.5 637.1 1558.5 645.1 1557.5 645.1 1556.5 634.4 1555.5 616.5 1554.5 602.8 1553.5 613.4 1552.5 631.7 1551.5 642.2 1550.5 642.5 1549.5 638.5 1548.5 623.8 1547.5 609.6 1546.5 620.8 1545.5 637.4 1544.5 647.2 1543.5 647.6 1542.5 640.5 1541.5 622.6 1540.5 616.9 1539.5 636.7 1538.5 652.5 1537.5 653.0 1536.5 646.4 1535.5 627.8 1534.5 624.9 1533.5 643.5 1532.5 649.9 1531.5 649.9 1530.5 639.3 1529.5 621.9 1528.5 633.1 1527.5 645.6 1526.5 646.5 1525.5 640.5 1524.5 620.7 1523.5 626.1 1522.5 642.6 1521.5 645.3 1520.5 640.5 1519.5 620.9 1518.5 615.0 1517.5 636.0 1516.5 643.6 1515.5 642.8 1514.5 627.9 1513.5 606.8 1512.5 619.6 1511.5 638.0 1510.5 639.1 1509.5 635.4 1508.5 617.7 1507.5 604.6 1506.5 619.1 1505.5 634.3 1504.5 635.9 1503.5 633.0 1502.5 619.6 1501.5 603.9 1500.5 610.4 1499.5 626.9 1498.5 637.8 1497.5 638.4 1496.5 631.9 1495.5 613.7 1494.5 599.1 1493.5 608.6 1492.5 630.1 1491.5 645.3 1490.5 645.6 1489.5 638.7 1488.5 619.4 1487.5 597.0 1486.5 597.3 1485.5 618.2 1484.5 637.4 1483.5 643.2 1482.5 643.2 1481.5 631.9 1480.5 612.4 1479.5 594.5 1478.5 597.8 1477.5 620.0 1476.5 638.6 1475.5 642.4 1474.5 641.6 1473.5 626.8 1472.5 605.1 1471.5 594.4 1470.5 607.8 1469.5 625.2 1468.5 633.0 1467.5 633.0 1466.5 626.9 1465.5 611.4 1464.5 597.3 1463.5 603.9 1462.5 620.4 1461.5 630.1 1460.5 630.9 1459.5 627.6 1458.5 610.5 1457.5 595.3 1456.5 606.2 1455.5 622.2 1454.5 628.4 1453.5 628.0 1452.5 618.0 1451.5 602.4 1450.5 600.2 1449.5 616.2 1448.5 627.3 1447.5 627.9 1446.5 622.8 1445.5 608.6 1444.5 608.2 1443.5 626.6 1442.5 634.0 1441.5 634.0 1440.5 626.1 1439.5 613.7 1438.5 621.9 1437.5 636.6 1436.5 640.0 1435.5 638.7 1434.5 632.2 1433.5 620.2 1432.5 631.8 1431.5 648.0 1430.5 653.7 1429.5 653.4 1428.5 641.0 1427.5 622.0 1426.5 622.2 1425.5 641.8 1424.5 654.9 1423.5 655.7 1422.5 648.4 1421.5 628.1 1420.5 607.3 1419.5 614.2 1418.5 636.2 1417.5 649.1 1416.5 649.1 1415.5 641.0 1414.5 620.7 1413.5 599.0 1412.5 607.1 1411.5 626.6 1410.5 640.0 1409.5 640.5 1408.5 634.4 1407.5 616.2 1406.5 597.3 1405.5 597.8 1404.5 614.8 1403.5 626.3 1402.5 627.9 1401.5 625.9 1400.5 612.0 1399.5 592.6 1398.5 589.5 1397.5 605.0 1396.5 619.0 1395.5 620.1 1394.5 617.5 1393.5 605.7 1392.5 589.8 1391.5 594.5 1390.5 611.7 1389.5 623.5 1388.5 625.5 1387.5 623.5 1386.5 610.3 1385.5 599.8 1384.5 612.8 1383.5 627.7 1382.5 634.0 1381.5 633.9 1380.5 624.4 1379.5 610.9 1378.5 617.4 1377.5 635.9 1376.5 643.6 1375.5 643.6 1374.5 632.0 1373.5 615.5 1372.5 621.7 1371.5 640.2 1370.5 648.2 1369.5 647.9 1368.5 633.6 1367.5 610.1 1366.5 621.2 1365.5 648.2 1364.5 656.2 1363.5 654.8 1362.5 635.8 1361.5 610.2 1360.5 621.9 1359.5 644.1 1358.5 652.1 1357.5 651.2 1356.5 630.0 1355.5 605.7 1354.5 616.8 1353.5 638.5 1352.5 643.4 1351.5 642.6 1350.5 626.7 1349.5 605.6 1348.5 613.1 1347.5 629.0 1346.5 635.3 1345.5 634.7 1344.5 623.3 1343.5 608.1 1342.5 613.0 1341.5 627.4 1340.5 634.3 1339.5 634.3 1338.5 628.3 1337.5 615.7 1336.5 614.6 1335.5 627.4 1334.5 634.6 1333.5 634.8 1332.5 632.5 1331.5 621.0 1330.5 614.0 1329.5 625.1 1328.5 634.3 1327.5 636.1 1326.5 635.8 1325.5 627.2 1324.5 612.2 1323.5 607.4 1322.5 617.7 1321.5 628.2 1320.5 632.5 1319.5 631.9 1318.5 621.1 1317.5 606.4 1316.5 592.4 1315.5 597.3 1314.5 614.0 1313.5 625.2 1312.5 625.9 1311.5 622.5 1310.5 609.1 1309.5 590.7 1308.5 585.5 1307.5 598.5 1306.5 613.4 1305.5 620.6 1304.5 620.6 1303.5 613.8 1302.5 599.8 1301.5 590.8 1300.5 603.5 1299.5 617.5 1298.5 624.2 1297.5 624.5 1296.5 622.4 1295.5 611.2 1294.5 599.0 1293.5 607.0 1292.5 621.9 1291.5 635.3 1290.5 636.9 1289.5 633.9 1288.5 619.7 1287.5 602.9 1286.5 599.3 1285.5 619.3 1284.5 635.7 1283.5 642.3 1282.5 642.2 1281.5 633.4 1280.5 616.4 1279.5 594.7 1278.5 595.0 1277.5 612.0 1276.5 630.4 1275.5 642.1 1274.5 643.9 1273.5 641.1 1272.5 626.6 1271.5 608.3 1270.5 596.5 1269.5 607.0 1268.5 627.4 1267.5 644.2 1266.5 649.1 1265.5 649.1 1264.5 641.2 1263.5 624.0 1262.5 608.5 1261.5 616.5 1260.5 636.2 1259.5 655.3 1258.5 665.6 1257.5 666.5 1256.5 661.1 1255.5 644.6 1254.5 627.8 1253.5 629.0 1252.5 641.1 1251.5 653.1 1250.5 655.4 1249.5 655.3 1248.5 645.8 1247.5 625.9 1246.5 608.1 1245.5 601.3 1244.5 615.7 1243.5 631.9 1242.5 636.1 1241.5 635.1 1240.5 622.0 1239.5 600.7 1238.5 580.6 1237.5 595.3 1236.5 616.7 1235.5 629.5 1234.5 630.5 1233.5 625.4 1232.5 606.7 1231.5 593.0 1230.5 610.1 1229.5 633.3 1228.5 643.0 1227.5 643.0 1226.5 632.7 1225.5 613.9 1224.5 600.2 1223.5 615.3 1222.5 635.0 1221.5 643.0 1220.5 643.0 1219.5 632.0 1218.5 611.1 1217.5 602.0 1216.5 617.4 1215.5 631.9 1214.5 634.3 1213.5 633.2 1212.5 619.3 1211.5 601.0 1210.5 606.8 1209.5 622.8 1208.5 629.8 1207.5 629.8 1206.5 615.8 1205.5 596.1 1204.5 605.1 1203.5 630.4 1202.5 638.5 1201.5 641.3 1200.5 662.0 1199.5 670.0 1198.5 665.9 1197.5 659.5 1196.5 647.5 1195.5 652.5 1194.5 671.3 1193.5 682.6 1192.5 691.2 1191.5 691.2 1190.5 676.1 1189.5 660.5 1188.5 656.8 1187.5 669.5 1186.5 680.7 1185.5 685.2 1184.5 680.1 1183.5 669.0 1182.5 659.3 1181.5 658.7 1180.5 662.8 1179.5 668.3 1178.5 670.8 1177.5 665.6 1176.5 661.9 1175.5 655.4 1174.5 645.2 1173.5 645.6 1172.5 639.8 1171.5 629.5 1170.5 621.6 1169.5 621.7 1168.5 629.6 1167.5 636.4 1166.5 640.0 1165.5 639.5 1164.5 632.1 1163.5 620.6 1162.5 609.9 1161.5 610.5 1160.5 621.2 1159.5 629.1 1158.5 629.5 1157.5 625.5 1156.5 613.5 1155.5 599.2 1154.5 593.5 1153.5 605.6 1152.5 615.3 1151.5 616.1 1150.5 612.6 1149.5 597.4 1148.5 590.4 1147.5 610.6 1146.5 628.0 1145.5 630.0 1144.5 625.6 1143.5 604.7 1142.5 594.7 1141.5 615.8 1140.5 633.3 1139.5 635.4 1138.5 632.2 1137.5 610.2 1136.5 593.7 1135.5 603.7 1134.5 616.8 1133.5 618.9 1132.5 616.5 1131.5 603.0 1130.5 582.2 1129.5 576.1 1128.5 595.2 1127.5 611.1 1126.5 613.1 1125.5 610.5 1124.5 593.4 1123.5 574.0 1122.5 570.0 1121.5 587.2 1120.5 604.4 1119.5 609.0 1118.5 595.3 1117.5 615.5 1116.5 629.6 1115.5 641.0 1114.5 655.0 1113.5 670.3 1112.5 682.8 1111.5 697.3 1110.5 710.6 1109.5 723.3 1108.5 723.6 1107.5 715.0 1106.5 703.9 1105.5 694.1 1104.5 700.0 1103.5 712.7 1102.5 712.7 1101.5 698.5 1100.5 678.8 1099.5 665.7 1098.5 664.2 1097.5 668.9 1096.5 670.9 1095.5 670.9 1094.5 651.9 1093.5 639.7 1092.5 640.7 1091.5 639.3 1090.5 627.4 1089.5 614.4 1088.5 626.2 1087.5 644.6 1086.5 655.5 1085.5 655.5 1084.5 639.1 1083.5 611.5 1082.5 624.0 1081.5 657.1 1080.5 671.3 1079.5 671.2 1078.5 650.6 1077.5 615.1 1076.5 610.6 1075.5 643.3 1074.5 669.4 1073.5 672.5 1072.5 667.7 1071.5 638.4 1070.5 609.2 1069.5 612.9 1068.5 640.0 1067.5 662.7 1066.5 665.0 1065.5 660.5 1064.5 637.6 1063.5 605.5 1062.5 592.0 1061.5 613.7 1060.5 639.6 1059.5 647.0 1058.5 646.9 1057.5 634.3 1056.5 609.5 1055.5 591.2 1054.5 604.0 1053.5 623.0 1052.5 634.6 1051.5 635.0 1050.5 630.0 1049.5 613.9 1048.5 596.5 1047.5 596.3 1046.5 615.5 1045.5 634.3 1044.5 646.4 1043.5 646.7 1042.5 638.3 1041.5 615.2 1040.5 596.2 1039.5 599.8 1038.5 621.5 1037.5 637.8 1036.5 640.5 1035.5 639.2 1034.5 623.5 1033.5 599.6 1032.5 588.0 1031.5 606.4 1030.5 628.1 1029.5 636.2 1028.5 635.5 1027.5 617.5 1026.5 592.3 1025.5 590.0 1024.5 620.2 1023.5 645.6 1022.5 649.4 1021.5 647.0 1020.5 626.7 1019.5 598.0 1018.5 597.4 1017.5 621.6 1016.5 636.3 1015.5 638.0 1014.5 634.0 1013.5 617.5 1012.5 597.0 1011.5 601.9 1010.5 621.8 1009.5 636.6 1008.5 640.0 1007.5 639.5 1006.5 631.0 1005.5 614.8 1004.5 609.4 1003.5 625.2 1002.5 637.6 1001.5 643.2 1000.5 643.3 999.5 641.2 998.5 629.2 997.5 619.1 996.5 612.6 995.5 622.6 994.5 633.2 993.5 642.3 992.5 644.1 991.5 643.9 990.5 636.9 989.5 626.8 988.5 617.1 987.5 615.0 986.5 623.6 985.5 634.0 984.5 642.9 983.5 645.1 982.5 645.1 981.5 640.3 980.5 629.9 979.5 622.1 978.5 618.6 977.5 626.4 976.5 636.1 975.5 645.3 974.5 650.1 973.5 650.1 972.5 647.1 971.5 634.5 970.5 618.2 969.5 605.0 968.5 618.9 967.5 640.8 966.5 658.9 965.5 665.2 964.5 665.0 963.5 653.6 962.5 631.8 961.5 610.8 960.5 605.6 959.5 621.3 958.5 640.3 957.5 651.9 956.5 652.9 955.5 651.0 954.5 641.7 953.5 627.8 952.5 613.6 951.5 611.2 950.5 622.3 949.5 635.1 948.5 644.3 947.5 644.6 946.5 642.7 945.5 633.7 944.5 619.2 943.5 605.8 942.5 603.2 941.5 616.6 940.5 632.8 939.5 641.0 938.5 641.0 937.5 635.1 936.5 621.1 935.5 602.8 934.5 593.6 933.5 607.0 932.5 620.0 931.5 625.3 930.5 625.3 929.5 618.0 928.5 598.4 927.5 580.5 926.5 571.3 925.5 582.4 924.5 596.5 923.5 599.8 922.5 599.5 921.5 592.4 920.5 584.2 919.5 584.9 918.5 600.8 917.5 612.8 916.5 616.7 915.5 616.7 914.5 611.6 913.5 600.8 912.5 607.3 911.5 624.0 910.5 633.7 909.5 635.5 908.5 635.3 907.5 630.9 906.5 622.4 905.5 619.8 904.5 629.4 903.5 636.5 902.5 639.1 901.5 639.3 900.5 637.1 899.5 631.4 898.5 623.6 897.5 621.2 896.5 626.9 895.5 632.9 894.5 638.1 893.5 639.5 892.5 639.2 891.5 633.6 890.5 628.0 889.5 622.7 888.5 623.2 887.5 629.2 886.5 632.9 885.5 636.1 884.5 636.8 883.5 635.4 882.5 628.4 881.5 620.7 880.5 613.8 879.5 616.9 878.5 627.7 877.5 634.7 876.5 637.7 875.5 637.3 874.5 628.4 873.5 617.6 872.5 608.9 871.5 610.1 870.5 619.6 869.5 625.0 868.5 627.0 867.5 627.0 866.5 622.6 865.5 615.8 864.5 608.6 863.5 609.9 862.5 616.6 861.5 620.6 860.5 623.1 859.5 622.6 858.5 619.8 857.5 613.3 856.5 610.4 855.5 614.1 854.5 618.7 853.5 622.4 852.5 622.4 851.5 620.9 850.5 621.0 849.5 623.5 848.5 629.6 847.5 638.2 846.5 645.6 845.5 648.0 844.5 648.3 843.5 646.7 842.5 645.1 841.5 645.6 840.5 650.3 839.5 652.2 838.5 653.9 837.5 653.9 836.5 653.4 835.5 649.0 834.5 643.5 833.5 634.3 832.5 629.6 831.5 626.0 830.5 621.6 829.5 620.6 828.5 621.4 827.5 621.4 826.5 619.5 825.5 610.7 824.5 596.1 823.5 582.8 822.5 582.3 821.5 591.2 820.5 602.4 819.5 610.1 818.5 610.7 817.5 609.3 816.5 602.9 815.5 593.0 814.5 585.8 813.5 590.5 812.5 598.7 811.5 607.1 810.5 609.2 809.5 609.0 808.5 605.6 807.5 595.4 806.5 587.1 805.5 586.6 804.5 598.0 803.5 610.5 802.5 618.0 801.5 618.2 800.5 616.1 799.5 607.5 798.5 599.8 797.5 604.6 796.5 616.1 795.5 628.9 794.5 631.3 793.5 631.4 792.5 627.4 791.5 616.9 790.5 605.7 789.5 611.5 788.5 624.4 787.5 635.0 786.5 636.2 785.5 635.6 784.5 629.0 783.5 613.0 782.5 607.1 781.5 618.8 780.5 630.8 779.5 636.4 778.5 636.4 777.5 629.5 776.5 615.9 775.5 607.7 774.5 620.5 773.5 633.8 772.5 639.4 771.5 639.4 770.5 633.7 769.5 618.4 768.5 614.6 767.5 628.5 766.5 641.7 765.5 643.1 764.5 641.2 763.5 629.6 762.5 617.6 761.5 625.9 760.5 636.4 759.5 640.1 758.5 640.0 757.5 633.8 756.5 623.1 755.5 618.7 754.5 627.1 753.5 635.2 752.5 636.3 751.5 635.0 750.5 623.6 749.5 613.7 748.5 614.0 747.5 623.6 746.5 629.8 745.5 631.0 744.5 630.5 743.5 624.2 742.5 614.8 741.5 610.0 740.5 617.3 739.5 625.2 738.5 632.2 737.5 633.9 736.5 632.5 735.5 627.5 734.5 619.1 733.5 615.4 732.5 622.0 731.5 634.4 730.5 643.1 729.5 646.4 728.5 646.3 727.5 637.0 726.5 628.6 725.5 620.9 724.5 614.5 723.5 614.5 722.5 618.9 721.5 620.4 720.5 619.7 719.5 616.2 718.5 610.7 717.5 602.6 716.5 597.0 715.5 599.4 714.5 609.8 713.5 617.2 712.5 621.0 711.5 621.9 710.5 620.9 709.5 615.7 708.5 613.7 707.5 619.8 706.5 630.2 705.5 640.4 704.5 645.1 703.5 648.8 702.5 648.2 701.5 641.5 700.5 635.3 699.5 630.7 698.5 633.4 697.5 637.3 696.5 642.4 695.5 643.6 694.5 644.0 693.5 644.0 692.5 640.3 691.5 640.2 690.5 649.4 689.5 654.9 688.5 658.9 687.5 660.3 686.5 660.3 685.5 656.3 684.5 650.1 683.5 642.6 682.5 646.4 681.5 655.5 680.5 661.3 679.5 662.4 678.5 662.2 677.5 653.3 676.5 640.3 675.5 627.9 674.5 632.3 673.5 640.5 672.5 648.9 671.5 649.4 670.5 648.1 669.5 640.2 668.5 627.3 667.5 618.7 666.5 627.4 665.5 640.4 664.5 646.1 663.5 646.7 662.5 644.8 661.5 637.0 660.5 631.5 659.5 635.5 658.5 641.6 657.5 644.5 656.5 644.8 655.5 642.9 654.5 635.8 653.5 625.7 652.5 619.1 651.5 623.0 650.5 627.7 649.5 629.0 648.5 629.0 647.5 626.7 646.5 620.3 645.5 617.8 644.5 622.8 643.5 627.7 642.5 632.8 641.5 632.8 640.5 628.0 639.5 624.9 638.5 620.2 637.5 620.5 636.5 627.9 635.5 632.9 634.5 632.9 633.5 629.8 632.5 622.3 631.5 612.7 630.5 613.5 629.5 618.9 628.5 624.4 627.5 627.6 626.5 627.9 625.5 625.2 624.5 618.9 623.5 613.6 622.5 609.6 621.5 614.2 620.5 622.6 619.5 633.3 618.5 636.8 617.5 636.8 616.5 635.3 615.5 630.0 614.5 617.6 613.5 610.1 612.5 616.1 611.5 628.1 610.5 639.8 609.5 643.4 608.5 643.6 607.5 639.7 606.5 628.2 605.5 617.2 604.5 620.1 603.5 631.6 602.5 638.8 601.5 642.2 600.5 641.3 599.5 633.9 598.5 625.7 597.5 622.3 596.5 630.3 595.5 636.2 594.5 639.1 593.5 638.9 592.5 632.1 591.5 624.4 590.5 625.4 589.5 634.5 588.5 639.8 587.5 639.8 586.5 632.6 585.5 616.4 584.5 608.3 583.5 613.9 582.5 614.2 581.5 609.2 580.5 592.4 579.5 576.8 578.5 592.1 577.5 605.4 576.5 606.3 575.5 604.3 574.5 600.5 573.5 617.0 572.5 627.4 571.5 628.3 570.5 624.9 569.5 614.9 568.5 618.6 567.5 631.2 566.5 636.7 565.5 636.7 564.5 627.6 563.5 621.4 562.5 633.1 561.5 643.6 560.5 645.2 559.5 643.5 558.5 635.1 557.5 629.2 556.5 642.4 555.5 650.7 554.5 650.9 553.5 647.2 552.5 630.5 551.5 623.4 550.5 638.7 549.5 645.1 548.5 645.1 547.5 638.5 546.5 623.1 545.5 624.1 544.5 639.1 543.5 645.8 542.5 645.8 541.5 640.0 540.5 631.4 539.5 629.0 538.5 641.4 537.5 647.7 536.5 650.0 535.5 649.7 534.5 642.7 533.5 636.4 532.5 638.7 531.5 644.2 530.5 648.0 529.5 648.2 528.5 646.5 527.5 637.8 526.5 626.6 525.5 616.3 524.5 615.1 523.5 621.0 522.5 622.1 521.5 620.8 520.5 614.6 519.5 604.3 518.5 594.3 517.5 590.1 516.5 593.5 515.5 598.5 514.5 598.5 513.5 596.3 512.5 589.6 511.5 582.9 510.5 581.3 509.5 585.4 508.5 595.0 507.5 603.2 506.5 607.8 505.5 608.6 504.5 607.3 503.5 601.1 502.5 593.9 501.5 601.1 500.5 617.3 499.5 628.9 498.5 635.1 497.5 635.3 496.5 632.4 495.5 623.7 494.5 613.4 493.5 612.3 492.5 620.2 491.5 627.8 490.5 628.9 489.5 628.8 488.5 622.6 487.5 614.5 486.5 606.1 485.5 606.1 484.5 614.3 483.5 620.6 482.5 622.8 481.5 622.8 480.5 619.5 479.5 615.3 478.5 617.6 477.5 626.9 476.5 636.1 475.5 644.8 474.5 645.3 473.5 644.5 472.5 642.6 471.5 639.4 470.5 634.3 469.5 636.7 468.5 641.1 467.5 644.8 466.5 644.9 465.5 644.0 464.5 640.0 463.5 634.1 462.5 626.6 461.5 622.2 460.5 627.0 459.5 636.4 458.5 641.7 457.5 642.6 456.5 641.7 455.5 630.9 454.5 618.9 453.5 611.3 452.5 621.7 451.5 635.0 450.5 644.3 449.5 645.3 448.5 643.0 447.5 630.9 446.5 617.3 445.5 618.7 444.5 629.5 443.5 639.7 442.5 643.3 441.5 642.8 440.5 634.7 439.5 625.7 438.5 615.6 437.5 629.1 436.5 643.6 435.5 652.0 434.5 652.0 433.5 648.6 432.5 635.6 431.5 621.5 430.5 633.1 429.5 649.3 428.5 658.8 427.5 659.5 426.5 654.9 425.5 638.3 424.5 625.0 423.5 638.7 422.5 652.2 421.5 655.7 420.5 655.3 419.5 648.2 418.5 632.3 417.5 627.0 416.5 636.9 415.5 646.1 414.5 649.2 413.5 649.1 412.5 640.9 411.5 625.4 410.5 611.7 409.5 610.6 408.5 620.1 407.5 629.3 406.5 631.0 405.5 630.3 404.5 623.1 403.5 610.9 402.5 598.7 401.5 587.4 400.5 590.2 399.5 598.2 398.5 607.4 397.5 612.5 396.5 612.6 395.5 612.2 394.5 607.0 393.5 602.6 392.5 598.1 391.5 597.8 390.5 604.1 389.5 609.9 388.5 612.1 387.5 611.8 386.5 607.6 385.5 600.6 384.5 593.3 383.5 584.2 382.5 586.9 381.5 590.4 380.5 592.5 379.5 592.7 378.5 589.2 377.5 585.0 376.5 579.5 375.5 584.3 374.5 594.4 373.5 606.2 372.5 611.8 371.5 612.4 370.5 610.4 369.5 605.9 368.5 608.8 367.5 615.4 366.5 623.9 365.5 626.7 364.5 626.7 363.5 624.1 362.5 617.0 361.5 622.9 360.5 634.3 359.5 638.5 358.5 638.5 357.5 631.5 356.5 620.4 355.5 624.7 354.5 635.8 353.5 637.2 352.5 635.7 351.5 624.8 350.5 614.3 349.5 623.3 348.5 631.6 347.5 631.8 346.5 626.6 345.5 616.4 344.5 614.0 343.5 622.6 342.5 628.7 341.5 629.1 340.5 626.9 339.5 619.0 338.5 615.2 337.5 622.5 336.5 628.6 335.5 630.9 334.5 630.9 333.5 628.3 332.5 621.4 331.5 615.9 330.5 620.0 329.5 628.9 328.5 635.8 327.5 637.0 326.5 635.5 325.5 626.5 324.5 612.3 323.5 607.7 322.5 615.1 321.5 626.5 320.5 630.9 319.5 630.9 318.5 628.7 317.5 618.5 316.5 607.6 315.5 599.9 314.5 604.3 313.5 612.4 312.5 623.1 311.5 627.7 310.5 628.1 309.5 627.5 308.5 620.0 307.5 612.6 306.5 612.3 305.5 620.6 304.5 634.5 303.5 645.8 302.5 650.9 301.5 650.9 300.5 646.6 299.5 630.8 298.5 613.7 297.5 619.7 296.5 638.2 295.5 656.3 294.5 659.8 293.5 659.4 292.5 645.5 291.5 617.7 290.5 597.9 289.5 610.2 288.5 631.2 287.5 638.1 286.5 637.8 285.5 624.1 284.5 597.8 283.5 578.4 282.5 601.8 281.5 625.7 280.5 632.2 279.5 631.2 278.5 608.6 277.5 581.2 276.5 594.4 275.5 623.4 274.5 631.7 273.5 630.7 272.5 608.5 271.5 581.9 270.5 595.3 269.5 617.1 268.5 624.6 267.5 624.6 266.5 611.4 265.5 590.6 264.5 586.8 263.5 602.4 262.5 613.7 261.5 614.7 260.5 612.8 259.5 602.5 258.5 590.5 257.5 592.0 256.5 601.6 255.5 612.4 254.5 613.9 253.5 612.4 252.5 602.2 251.5 591.0 250.5 588.9 249.5 600.5 248.5 611.8 247.5 613.2 246.5 612.4 245.5 605.7 244.5 594.9 243.5 588.3 242.5 600.4 241.5 613.7 240.5 621.3 239.5 621.3 238.5 617.2 237.5 607.3 236.5 603.7 235.5 614.5 234.5 624.6 233.5 627.7 232.5 627.7 231.5 622.4 230.5 609.8 229.5 600.9 228.5 614.8 227.5 626.9 226.5 632.3 225.5 631.8 224.5 620.9 223.5 605.9 222.5 598.8 221.5 616.4 220.5 633.4 219.5 637.3 218.5 635.3Z"/>
<path fill="none" stroke="#00f" d="M218.0 600.0 218.2 677.0 218.4 596.7 218.6 581.6 218.8 587.3 219.0 586.1 219.2 595.4 219.4 591.8 219.6 599.4 219.8 576.9 220.0 614.0 220.2 595.3 220.4 608.5 220.6 597.0 220.8 593.7 221.0 603.4 221.2 606.3 221.4 579.9 221.6 601.2 221.8 610.6 222.0 594.4 222.2 584.4 222.4 608.4 222.6 600.0 222.8 593.5 223.0 598.9 223.2 599.7 223.4 593.3 223.6 593.6 223.8 607.2 224.0 621.1 224.2 605.6 224.4 602.8 224.6 591.8 224.8 613.8 225.0 606.8 225.2 614.1 225.4 617.3 225.6 607.4 225.8 603.0 226.0 612.4 226.2 612.6 226.4 622.3 226.6 600.2 226.8 603.4 227.0 607.1 227.2 599.0 227.4 614.1 227.6 619.2 227.8 604.7 228.0 634.5 228.2 623.7 228.4 621.6 228.6 620.8 228.8 629.1 229.0 605.5 229.2 625.2 229.4 622.9 229.6 603.5 229.8 623.4 230.0 616.1 230.2 626.0 230.4 616.8 230.6 619.4 230.8 623.4 231.0 612.4 231.2 623.4 231.4 618.6 231.6 623.1 231.8 614.8 232.0 632.1 232.2 623.0 232.4 616.7 232.6 628.8 232.8 630.7 233.0 652.0 233.2 603.5 233.4 624.6 233.6 604.5 233.8 616.9 234.0 613.2 234.2 633.8 234.4 607.4 234.6 621.9 234.8 625.2 235.0 596.5 235.2 612.8 235.4 600.0 235.6 615.7 235.8 626.3 236.0 632.2 236.2 596.0 236.4 607.1 236.6 605.0 236.8 625.2 237.0 612.7 237.2 600.7 237.4 610.9 237.6 606.4 237.8 603.6 238.0 570.3 238.2 607.5 238.4 607.7 238.6 602.8 238.8 600.7 239.0 588.3 239.2 598.1 239.4 616.9 239.6 600.0 239.8 591.0 240.0 621.5 240.2 607.2 240.4 623.4 240.6 604.5 240.8 599.7 241.0 572.8 241.2 616.5 241.4 625.2 241.6 600.8 241.8 595.5 242.0 612.9 242.2 601.8 242.4 607.2 242.6 606.7 242.8 613.2 243.0 620.7 243.2 611.2 243.4 624.8 243.6 608.9 243.8 616.1 244.0 591.7 244.2 600.5 244.4 636.2 244.6 607.1 244.8 616.7 245.0 615.1 245.2 625.6 245.4 616.6 245.6 621.7 245.8 609.4 246.0 600.0 246.2 601.0 246.4 605.3 246.6 596.7 246.8 604.2 247.0 608.7 247.2 611.7 247.4 604.3 247.6 589.2 247.8 608.3 248.0 610.5 248.2 616.5 248.4 612.8 248.6 602.7 248.8 598.8 249.0 627.3 249.2 613.0 249.4 622.0 249.6 619.6 249.8 598.0 250.0 613.6 250.2 611.7 250.4 610.5 250.6 609.2 250.8 605.5 251.0 605.2 251.2 592.6 251.4 601.9 251.6 593.0 251.8 603.4 252.0 597.3 252.2 611.0 252.4 585.0 252.6 603.4 252.8 602.9 253.0 583.2 253.2 596.4 253.4 599.4 253.6 595.3 253.8 618.4 254.0 617.4 254.2 609.2 254.4 581.6 254.6 606.1 254.8 594.2 255.0 594.6 255.2 599.5 255.4 597.7 255.6 604.3 255.8 593.4 256.0 594.1 256.2 619.4 256.4 613.3 256.6 603.0 256.8 595.6 257.0 603.5 257.2 593.3 257.4 623.5 257.6 592.5 257.8 608.9 258.0 599.6 258.2 594.3 258.4 608.7 258.6 613.9 258.8 612.3 259.0 611.2 259.2 621.7 259.4 609.5 259.6 613.5 259.8 631.8 260.0 616.5 260.2 600.0 260.4 617.6 260.6 607.0 260.8 596.7 261.0 614.1 261.2 612.0 261.4 617.0 261.6 607.6 261.8 619.3 262.0 623.4 262.2 609.9 262.4 612.6 262.6 591.5 262.8 612.5 263.0 598.7 263.2 601.3 263.4 600.8 263.6 592.0 263.8 603.5 264.0 619.9 264.2 628.8 264.4 608.3 264.6 619.9 264.8 604.0 265.0 594.8 265.2 608.0 265.4 610.7 265.6 601.5 265.8 607.8 266.0 609.8 266.2 594.7 266.4 582.8 266.6 601.0 266.8 600.6 267.0 600.5 267.2 614.0 267.4 622.3 267.6 598.0 267.8 606.8 268.0 609.9 268.2 607.3 268.4 609.8 268.6 580.4 268.8 611.9 269.0 616.5 269.2 611.9 269.4 599.8 269.6 608.9 269.8 618.2 270.0 608.4 270.2 602.2 270.4 617.7 270.6 592.5 270.8 611.4 271.0 606.6 271.2 597.1 271.4 623.4 271.6 609.8 271.8 600.1 272.0 611.6 272.2 601.9 272.4 592.9 272.6 598.5 272.8 609.6 273.0 614.6 273.2 625.9 273.4 608.3 273.6 614.1 273.8 606.3 274.0 617.4 274.2 610.1 274.4 610.5 274.6 614.6 274.8 602.7 275.0 599.8 275.2 649.9 275.4 614.7 275.6 608.4 275.8 616.0 276.0 604.8 276.2 613.9 276.4 604.5 276.6 613.9 276.8 599.6 277.0 621.2 277.2 608.2 277.4 592.0 277.6 608.7 277.8 605.9 278.0 613.9 278.2 596.9 278.4 614.3 278.6 608.8 278.8 601.7 279.0 613.1 279.2 608.3 279.4 611.6 279.6 591.2 279.8 599.7 280.0 612.8 280.2 609.5 280.4 623.5 280.6 603.6 280.8 611.3 281.0 629.5 281.2 603.6 281.4 597.6 281.6 609.4 281.8 609.7 282.0 616.8 282.2 611.5 282.4 605.0 282.6 623.9 282.8 631.0 283.0 622.7 283.2 592.0 283.4 610.7 283.6 606.1 283.8 618.1 284.0 611.9 284.2 625.7 284.4 629.4 284.6 619.7 284.8 615.7 285.0 614.4 285.2 620.1 285.4 629.0 285.6 621.5 285.8 611.6 286.0 630.2 286.2 618.1 286.4 605.7 286.6 609.3 286.8 609.2 287.0 609.1 287.2 619.3 287.4 628.7 287.6 620.4 287.8 614.6 288.0 624.1 288.2 621.3 288.4 619.7 288.6 596.5 288.8 630.6 289.0 623.5 289.2 627.3 289.4 636.0 289.6 625.2 289.8 602.8 290.0 599.0 290.2 619.7 290.4 616.6 290.6 624.3 290.8 615.3 291.0 617.7 291.2 602.8 291.4 620.6 291.6 610.9 291.8 618.0 292.0 620.1 292.2 614.4 292.4 618.8 292.6 614.9 292.8 623.7 293.0 621.7 293.2 610.0 293.4 608.8 293.6 628.3 293.8 612.6 294.0 644.0 294.2 618.7 294.4 610.2 294.6 608.5 294.8 614.9 295.0 617.5 295.2 622.3 295.4 603.6 295.6 608.8 295.8 611.7 296.0 623.7 296.2 593.1 296.4 616.4 296.6 608.5 296.8 618.0 297.0 608.9 297.2 616.2 297.4 623.3 297.6 616.6 297.8 616.8 298.0 617.0 298.2 605.9 298.4 620.9 298.6 614.4 298.8 609.6 299.0 616.5 299.2 615.6 299.4 623.3 299.6 617.5 299.8 608.6 300.0 628.6 300.2 626.2 300.4 638.3 300.6 624.8 300.8 617.7 301.0 613.3 301.2 595.7 301.4 623.7 301.6 618.6 301.8 608.1 302.0 616.4 302.2 600.8 302.4 617.2 302.6 606.5 302.8 600.2 303.0 615.3 303.2 612.7 303.4 596.9 303.6 617.6 303.8 631.2 304.0 596.7 304.2 622.8 304.4 603.1 304.6 605.0 304.8 606.5 305.0 594.9 305.2 614.3 305.4 609.1 305.6 598.6 305.8 601.6 306.0 613.1 306.2 577.7 306.4 608.7 306.6 587.5 306.8 597.4 307.0 601.3 307.2 606.4 307.4 606.9 307.6 591.6 307.8 590.6 308.0 601.0 308.2 592.7 308.4 592.9 308.6 603.6 308.8 615.1 309.0 598.8 309.2 592.1 309.4 600.0 309.6 581.8 309.8 595.5 310.0 585.2 310.2 612.7 310.4 602.5 310.6 597.7 310.8 595.3 311.0 602.3 311.2 603.8 311.4 615.6 311.6 590.3 311.8 602.3 312.0 605.1 312.2 597.7 312.4 606.9 312.6 606.6 312.8 599.1 313.0 596.0 313.2 606.6 313.4 581.4 313.6 597.4 313.8 605.9 314.0 579.0 314.2 604.6 314.4 593.4 314.6 582.2 314.8 595.6 315.0 590.9 315.2 599.8 315.4 589.4 315.6 608.8 315.8 588.5 316.0 601.8 316.2 578.6 316.4 595.7 316.6 606.8 316.8 601.2 317.0 594.8 317.2 589.1 317.4 607.3 317.6 608.6 317.8 597.0 318.0 615.3 318.2 593.3 318.4 589.8 318.6 594.6 318.8 602.7 319.0 602.9 319.2 586.9 319.4 582.5 319.6 593.6 319.8 602.7 320.0 615.9 320.2 598.9 320.4 601.3 320.6 606.9 320.8 602.3 321.0 613.2 321.2 594.1 321.4 616.1 321.6 596.1 321.8 603.9 322.0 593.9 322.2 614.5 322.4 617.3 322.6 618.6 322.8 614.5 323.0 570.8 323.2 603.1 323.4 605.0 323.6 603.8 323.8 618.5 324.0 612.2 324.2 610.5 324.4 617.0 324.6 604.6 324.8 605.4 325.0 604.5 325.2 616.1 325.4 615.5 325.6 618.7 325.8 620.3 326.0 594.6 326.2 606.1 326.4 615.5 326.6 600.4 326.8 607.5 327.0 628.5 327.2 624.3 327.4 628.5 327.6 615.6 327.8 614.1 328.0 622.6 328.2 613.2 328.4 620.8 328.6 625.3 328.8 611.4 329.0 611.0 329.2 615.0 329.4 621.1 329.6 617.3 329.8 614.8 330.0 619.5 330.2 595.8 330.4 603.2 330.6 612.1 330.8 597.6 331.0 597.2 331.2 600.2 331.4 590.4 331.6 606.0 331.8 590.0 332.0 609.0 332.2 626.2 332.4 603.7 332.6 614.8 332.8 608.0 333.0 591.9 333.2 602.1 333.4 597.3 333.6 613.3 333.8 596.8 334.0 619.6 334.2 607.8 334.4 584.2 334.6 610.0 334.8 621.0 335.0 597.5 335.2 615.7 335.4 573.5 335.6 606.9 335.8 595.1 336.0 609.3 336.2 590.2 336.4 586.2 336.6 609.3 336.8 626.1 337.0 601.6 337.2 612.1 337.4 607.2 337.6 602.9 337.8 612.4 338.0 623.3 338.2 592.4 338.4 610.8 338.6 607.9 338.8 593.1 339.0 616.7 339.2 639.5 339.4 589.2 339.6 615.1 339.8 602.8 340.0 599.0 340.2 614.3 340.4 602.0 340.6 601.3 340.8 611.3 341.0 593.4 341.2 608.0 341.4 588.6 341.6 584.6 341.8 607.5 342.0 590.4 342.2 598.0 342.4 564.9 342.6 594.4 342.8 581.0 343.0 611.8 343.2 582.8 343.4 595.4 343.6 594.0 343.8 604.4 344.0 583.8 344.2 597.1 344.4 595.2 344.6 601.8 344.8 603.5 345.0 594.2 345.2 602.1 345.4 595.2 345.6 606.5 345.8 601.8 346.0 615.1 346.2 604.2 346.4 608.4 346.6 615.1 346.8 603.6 347.0 610.3 347.2 621.1 347.4 589.9 347.6 590.6 347.8 601.1 348.0 610.2 348.2 627.6 348.4 617.2 348.6 627.6 348.8 611.7 349.0 597.2 349.2 593.8 349.4 620.1 349.6 597.4 349.8 575.4 350.0 648.5 350.2 603.8 350.4 622.8 350.6 626.9 350.8 607.8 351.0 598.2 351.2 623.0 351.4 582.7 351.6 626.9 351.8 595.3 352.0 627.0 352.2 634.5 352.4 611.4 352.6 606.9 352.8 618.2 353.0 603.2 353.2 612.1 353.4 612.2 353.6 620.8 353.8 596.8 354.0 617.9 354.2 612.8 354.4 599.6 354.6 626.4 354.8 634.1 355.0 612.3 355.2 607.8 355.4 613.3 355.6 605.8 355.8 609.5 356.0 623.8 356.2 616.2 356.4 612.2 356.6 614.3 356.8 609.3 357.0 618.5 357.2 615.9 357.4 605.9 357.6 609.6 357.8 625.7 358.0 612.8 358.2 606.6 358.4 624.0 358.6 608.1 358.8 598.5 359.0 614.7 359.2 602.2 359.4 603.6 359.6 611.2 359.8 606.4 360.0 599.6 360.2 602.7 360.4 601.1 360.6 616.8 360.8 600.6 361.0 602.5 361.2 619.4 361.4 596.8 361.6 621.4 361.8 618.1 362.0 604.8 362.2 590.6 362.4 610.7 362.6 610.4 362.8 613.9 363.0 605.7 363.2 612.0 363.4 613.3 363.6 593.7 363.8 613.0 364.0 604.5 364.2 596.7 364.4 599.5 364.6 615.8 364.8 614.3 365.0 585.9 365.2 617.3 365.4 599.4 365.6 599.7 365.8 597.5 366.0 581.3 366.2 610.1 366.4 593.0 366.6 594.6 366.8 592.7 367.0 593.1 367.2 607.7 367.4 600.9 367.6 593.2 367.8 590.7 368.0 590.6 368.2 608.0 368.4 597.7 368.6 597.0 368.8 592.2 369.0 592.8 369.2 595.9 369.4 577.0 369.6 609.8 369.8 583.4 370.0 588.6 370.2 606.7 370.4 593.3 370.6 591.6 370.8 583.9 371.0 578.7 371.2 593.0 371.4 622.4 371.6 575.5 371.8 602.9 372.0 582.3 372.2 582.3 372.4 594.7 372.6 588.8 372.8 597.9 373.0 584.8 373.2 577.8 373.4 574.9 373.6 581.1 373.8 584.1 374.0 579.1 374.2 597.0 374.4 588.6 374.6 580.9 374.8 614.2 375.0 589.2 375.2 585.9 375.4 605.0 375.6 597.3 375.8 587.1 376.0 588.5 376.2 590.9 376.4 609.7 376.6 597.4 376.8 595.4 377.0 600.7 377.2 611.6 377.4 586.6 377.6 599.6 377.8 590.6 378.0 622.0 378.2 621.1 378.4 615.8 378.6 603.8 378.8 611.9 379.0 590.1 379.2 609.3 379.4 594.8 379.6 594.0 379.8 601.2 380.0 604.7 380.2 612.7 380.4 613.9 380.6 609.9 380.8 598.4 381.0 616.2 381.2 605.5 381.4 616.5 381.6 600.2 381.8 585.8 382.0 599.4 382.2 625.1 382.4 608.8 382.6 602.6 382.8 611.4 383.0 609.5 383.2 608.7 383.4 600.7 383.6 606.1 383.8 606.9 384.0 601.0 384.2 614.5 384.4 588.5 384.6 619.5 384.8 610.0 385.0 609.9 385.2 608.1 385.4 624.5 385.6 606.1 385.8 610.8 386.0 622.0 386.2 603.7 386.4 604.7 386.6 613.7 386.8 616.7 387.0 604.1 387.2 606.8 387.4 601.2 387.6 590.4 387.8 608.6 388.0 597.8 388.2 588.0 388.4 597.5 388.6 583.9 388.8 583.5 389.0 598.2 389.2 592.0 389.4 604.6 389.6 583.3 389.8 600.0 390.0 600.7 390.2 608.5 390.4 609.4 390.6 599.0 390.8 596.9 391.0 595.4 391.2 606.0 391.4 600.9 391.6 598.9 391.8 594.5 392.0 600.1 392.2 593.2 392.4 610.3 392.6 587.6 392.8 599.2 393.0 597.9 393.2 602.2 393.4 600.0 393.6 601.1 393.8 607.6 394.0 587.1 394.2 598.2 394.4 590.7 394.6 601.1 394.8 581.0 395.0 592.2 395.2 599.3 395.4 610.1 395.6 607.7 395.8 604.2 396.0 613.5 396.2 593.3 396.4 583.4 396.6 598.3 396.8 599.2 397.0 618.5 397.2 621.2 397.4 586.1 397.6 621.8 397.8 612.5 398.0 614.5 398.2 606.8 398.4 622.6 398.6 604.1 398.8 600.1 399.0 604.8 399.2 587.4 399.4 607.3 399.6 603.6 399.8 606.9 400.0 608.8 400.2 597.2 400.4 620.8 400.6 589.8 400.8 617.7 401.0 587.6 401.2 612.6 401.4 599.8 401.6 609.4 401.8 603.7 402.0 578.1 402.2 602.8 402.4 612.3 402.6 616.6 402.8 599.3 403.0 595.1 403.2 606.2 403.4 612.2 403.6 609.8 403.8 607.0 404.0 622.3 404.2 626.0 404.4 626.4 404.6 607.8 404.8 619.6 405.0 616.8 405.2 603.8 405.4 625.4 405.6 620.3 405.8 615.2 406.0 632.4 406.2 624.0 406.4 627.8 406.6 630.4 406.8 624.9 407.0 610.6 407.2 615.0 407.4 630.1 407.6 609.8 407.8 619.0 408.0 622.5 408.2 630.3 408.4 627.0 408.6 630.5 408.8 616.3 409.0 630.7 409.2 621.3 409.4 616.0 409.6 630.9 409.8 622.0 410.0 611.8 410.2 624.9 410.4 614.3 410.6 621.1 410.8 600.0 411.0 616.4 411.2 604.7 411.4 607.9 411.6 604.1 411.8 636.1 412.0 615.0 412.2 619.0 412.4 628.5 412.6 614.7 412.8 622.2 413.0 600.5 413.2 616.9 413.4 609.4 413.6 618.6 413.8 615.7 414.0 603.9 414.2 600.9 414.4 593.1 414.6 619.3 414.8 615.2 415.0 615.5 415.2 591.3 415.4 590.8 415.6 606.3 415.8 606.0 416.0 600.0 416.2 612.1 416.4 606.2 416.6 595.8 416.8 598.9 417.0 608.0 417.2 605.8 417.4 615.4 417.6 623.4 417.8 600.6 418.0 603.5 418.2 592.0 418.4 598.3 418.6 604.9 418.8 605.0 419.0 599.0 419.2 604.8 419.4 600.1 419.6 580.9 419.8 579.9 420.0 603.7 420.2 605.4 420.4 599.5 420.6 588.2 420.8 582.0 421.0 609.6 421.2 581.6 421.4 599.2 421.6 607.9 421.8 603.5 422.0 609.3 422.2 602.2 422.4 623.4 422.6 595.3 422.8 585.6 423.0 606.3 423.2 619.6 423.4 604.3 423.6 614.9 423.8 601.5 424.0 593.2 424.2 621.0 424.4 620.4 424.6 615.9 424.8 599.3 425.0 597.8 425.2 590.9 425.4 603.3 425.6 610.5 425.8 613.0 426.0 590.1 426.2 606.6 426.4 605.3 426.6 605.8 426.8 605.2 427.0 604.2 427.2 612.7 427.4 608.0 427.6 608.2 427.8 602.0 428.0 611.5 428.2 606.2 428.4 593.4 428.6 611.8 428.8 585.2 429.0 612.9 429.2 604.8 429.4 605.4 429.6 609.1 429.8 606.2 430.0 600.9 430.2 594.5 430.4 621.4 430.6 585.8 430.8 602.9 431.0 613.0 431.2 608.6 431.4 609.1 431.6 612.1 431.8 621.6 432.0 607.7 432.2 623.3 432.4 595.4 432.6 604.3 432.8 599.1 433.0 618.6 433.2 605.0 433.4 617.4 433.6 595.7 433.8 594.8 434.0 608.6 434.2 606.5 434.4 619.1 434.6 613.7 434.8 600.9 435.0 596.5 435.2 601.5 435.4 597.1 435.6 587.7 435.8 598.2 436.0 596.2 436.2 595.8 436.4 592.6 436.6 615.0 436.8 603.1 437.0 616.2 437.2 589.2 437.4 587.8 437.6 593.2 437.8 598.0 438.0 590.6 438.2 592.0 438.4 599.1 438.6 596.1 438.8 586.3 439.0 588.0 439.2 586.9 439.4 592.1 439.6 581.0 439.8 587.5 440.0 594.8 440.2 588.7 440.4 580.0 440.6 584.8 440.8 589.6 441.0 591.8 441.2 601.6 441.4 587.6 441.6 577.8 441.8 600.0 442.0 592.1 442.2 592.8 442.4 593.1 442.6 581.0 442.8 586.4 443.0 594.3 443.2 602.5 443.4 592.3 443.6 572.3 443.8 590.3 444.0 596.2 444.2 604.8 444.4 599.5 444.6 614.8 444.8 614.7 445.0 608.7 445.2 619.8 445.4 588.7 445.6 610.7 445.8 611.2 446.0 596.7 446.2 607.5 446.4 611.0 446.6 600.4 446.8 603.9 447.0 604.4 447.2 610.2 447.4 603.2 447.6 619.4 447.8 594.6 448.0 609.3 448.2 598.3 448.4 608.5 448.6 617.8 448.8 613.6 449.0 611.7 449.2 614.4 449.4 628.2 449.6 605.2 449.8 620.2 450.0 615.6 450.2 608.8 450.4 614.2 450.6 606.5 450.8 614.6 451.0 631.5 451.2 575.6 451.4 611.4 451.6 609.0 451.8 598.2 452.0 609.3 452.2 603.9 452.4 624.4 452.6 604.6 452.8 631.0 453.0 607.1 453.2 630.8 453.4 616.4 453.6 621.2 453.8 621.9 454.0 620.3 454.2 622.9 454.4 630.1 454.6 605.5 454.8 598.7 455.0 589.7 455.2 606.8 455.4 619.3 455.6 613.1 455.8 609.8 456.0 605.2 456.2 599.0 456.4 604.6 456.6 611.0 456.8 585.7 457.0 610.6 457.2 590.6 457.4 603.0 457.6 618.0 457.8 600.1 458.0 596.6 458.2 593.4 458.4 600.9 458.6 591.1 458.8 619.0 459.0 595.8 459.2 596.2 459.4 597.5 459.6 585.9 459.8 581.5 460.0 599.5 460.2 604.3 460.4 582.6 460.6 603.0 460.8 590.9 461.0 603.9 461.2 610.4 461.4 608.6 461.6 611.3 461.8 593.0 462.0 620.0 462.2 604.8 462.4 610.5 462.6 614.0 462.8 582.7 463.0 602.0 463.2 614.8 463.4 603.9 463.6 599.0 463.8 600.0 464.0 620.8 464.2 610.7 464.4 592.8 464.6 617.7 464.8 633.0 465.0 633.2 465.2 609.8 465.4 614.4 465.6 619.6 465.8 626.5 466.0 614.7 466.2 605.8 466.4 621.0 466.6 623.6 466.8 602.6 467.0 612.5 467.2 617.2 467.4 615.1 467.6 621.9 467.8 632.5 468.0 619.9 468.2 614.0 468.4 604.2 468.6 620.3 468.8 628.8 469.0 629.5 469.2 616.5 469.4 616.9 469.6 633.7 469.8 630.4 470.0 621.4 470.2 624.7 470.4 602.9 470.6 622.1 470.8 608.2 471.0 612.8 471.2 612.2 471.4 625.7 471.6 595.3 471.8 600.9 472.0 614.3 472.2 608.9 472.4 606.4 472.6 613.8 472.8 617.4 473.0 613.2 473.2 602.1 473.4 606.8 473.6 603.6 473.8 599.7 474.0 585.9 474.2 603.5 474.4 570.0 474.6 621.9 474.8 601.7 475.0 600.3 475.2 594.7 475.4 617.4 475.6 589.8 475.8 597.9 476.0 592.4 476.2 597.6 476.4 597.8 476.6 608.6 476.8 583.4 477.0 573.3 477.2 615.8 477.4 591.2 477.6 592.8 477.8 586.7 478.0 573.6 478.2 591.9 478.4 611.4 478.6 582.6 478.8 576.2 479.0 592.1 479.2 589.5 479.4 599.4 479.6 575.6 479.8 581.7 480.0 590.8 480.2 571.9 480.4 592.8 480.6 587.6 480.8 593.9 481.0 599.4 481.2 582.8 481.4 568.5 481.6 579.9 481.8 570.6 482.0 586.1 482.2 612.7 482.4 580.9 482.6 593.3 482.8 590.2 483.0 592.3 483.2 584.0 483.4 572.4 483.6 596.3 483.8 595.5 484.0 591.3 484.2 589.0 484.4 590.7 484.6 592.6 484.8 587.8 485.0 575.4 485.2 601.3 485.4 576.7 485.6 594.0 485.8 594.8 486.0 601.4 486.2 585.5 486.4 608.5 486.6 584.4 486.8 606.6 487.0 608.5 487.2 590.8 487.4 579.0 487.6 601.0 487.8 608.5 488.0 618.8 488.2 592.6 488.4 598.2 488.6 601.4 488.8 587.2 489.0 594.5 489.2 591.8 489.4 609.8 489.6 579.9 489.8 620.3 490.0 601.0 490.2 590.0 490.4 617.3 490.6 591.2 490.8 609.2 491.0 616.1 491.2 591.7 491.4 589.8 491.6 615.1 491.8 605.8 492.0 597.8 492.2 590.3 492.4 604.0 492.6 617.4 492.8 604.0 493.0 614.3 493.2 624.6 493.4 624.5 493.6 629.4 493.8 622.4 494.0 597.1 494.2 620.6 494.4 614.6 494.6 611.2 494.8 603.4 495.0 600.5 495.2 584.2 495.4 614.3 495.6 601.8 495.8 608.1 496.0 609.8 496.2 622.1 496.4 610.3 496.6 626.5 496.8 629.6 497.0 610.6 497.2 619.6 497.4 600.4 497.6 614.3 497.8 612.4 498.0 611.6 498.2 601.8 498.4 599.0 498.6 603.1 498.8 620.0 499.0 612.4 499.2 610.1 499.4 573.6 499.6 608.9 499.8 594.5 500.0 603.5 500.2 593.2 500.4 585.6 500.6 614.9 500.8 601.6 501.0 581.9 501.2 580.2 501.4 589.7 501.6 582.0 501.8 589.1 502.0 598.1 502.2 604.9 502.4 586.9 502.6 603.7 502.8 608.1 503.0 586.8 503.2 581.0 503.4 610.7 503.6 596.9 503.8 607.8 504.0 606.5 504.2 597.1 504.4 602.1 504.6 572.7 504.8 592.5 505.0 587.8 505.2 605.1 505.4 594.3 505.6 555.3 505.8 598.0 506.0 582.8 506.2 593.4 506.4 582.7 506.6 589.3 506.8 591.6 507.0 588.6 507.2 579.3 507.4 603.4 507.6 589.0 507.8 585.5 508.0 591.3 508.2 576.6 508.4 605.7 508.6 589.8 508.8 589.8 509.0 590.9 509.2 578.0 509.4 577.2 509.6 570.6 509.8 592.0 510.0 599.5 510.2 595.5 510.4 583.5 510.6 597.4 510.8 599.0 511.0 598.8 511.2 595.0 511.4 582.1 511.6 604.4 511.8 586.9 512.0 600.0 512.2 574.2 512.4 602.3 512.6 578.0 512.8 604.9 513.0 615.5 513.2 611.6 513.4 584.8 513.6 587.0 513.8 577.9 514.0 605.9 514.2 601.4 514.4 601.1 514.6 602.7 514.8 607.8 515.0 606.8 515.2 619.0 515.4 603.2 515.6 606.6 515.8 586.3 516.0 590.0 516.2 621.6 516.4 591.7 516.6 609.7 516.8 614.7 517.0 605.7 517.2 602.6 517.4 606.9 517.6 611.9 517.8 607.6 518.0 614.9 518.2 615.1 518.4 614.4 518.6 618.8 518.8 613.1 519.0 615.2 519.2 630.8 519.4 613.8 519.6 622.5 519.8 615.6 520.0 609.8 520.2 613.1 520.4 611.6 520.6 617.3 520.8 611.1 521.0 614.4 521.2 633.1 521.4 617.8 521.6 635.1 521.8 622.9 522.0 626.3 522.2 615.9 522.4 622.5 522.6 641.3 522.8 628.0 523.0 628.9 523.2 623.8 523.4 628.4 523.6 613.7 523.8 615.5 524.0 625.5 524.2 633.4 524.4 617.5 524.6 621.3 524.8 619.6 525.0 621.5 525.2 609.8 525.4 606.7 525.6 623.2 525.8 605.0 526.0 615.7 526.2 620.4 526.4 616.6 526.6 627.4 526.8 622.7 527.0 625.2 527.2 613.4 527.4 621.9 527.6 633.9 527.8 628.4 528.0 618.3 528.2 628.7 528.4 625.2 528.6 624.8 528.8 632.8 529.0 617.5 529.2 625.0 529.4 625.2 529.6 617.5 529.8 610.4 530.0 623.0 530.2 619.5 530.4 617.1 530.6 616.3 530.8 598.6 531.0 607.1 531.2 617.1 531.4 598.6 531.6 613.5 531.8 601.1 532.0 610.7 532.2 620.0 532.4 609.1 532.6 608.2 532.8 616.1 533.0 607.8 533.2 604.1 533.4 604.2 533.6 624.0 533.8 613.9 534.0 611.8 534.2 597.3 534.4 609.3 534.6 588.5 534.8 608.4 535.0 594.1 535.2 616.8 535.4 582.2 535.6 611.0 535.8 604.5 536.0 584.1 536.2 595.1 536.4 612.8 536.6 612.1 536.8 579.0 537.0 589.1 537.2 583.0 537.4 588.0 537.6 590.0 537.8 616.0 538.0 596.8 538.2 593.6 538.4 591.9 538.6 605.5 538.8 602.8 539.0 586.5 539.2 605.4 539.4 585.7 539.6 594.5 539.8 602.2 540.0 609.0 540.2 594.5 540.4 601.9 540.6 609.8 540.8 606.5 541.0 610.6 541.2 612.8 541.4 621.7 541.6 609.3 541.8 615.2 542.0 604.3 542.2 618.3 542.4 579.3 542.6 595.9 542.8 620.2 543.0 609.4 543.2 599.3 543.4 608.9 543.6 614.8 543.8 602.2 544.0 614.9 544.2 604.9 544.4 604.3 544.6 603.9 544.8 615.0 545.0 594.1 545.2 598.9 545.4 612.1 545.6 592.8 545.8 587.5 546.0 612.2 546.2 603.3 546.4 602.7 546.6 604.9 546.8 590.0 547.0 624.4 547.2 596.6 547.4 599.7 547.6 593.0 547.8 600.1 548.0 618.6 548.2 605.2 548.4 611.2 548.6 602.4 548.8 626.1 549.0 607.2 549.2 598.1 549.4 614.9 549.6 604.1 549.8 614.6 550.0 608.3 550.2 609.7 550.4 608.7 550.6 599.3 550.8 595.3 551.0 617.5 551.2 606.1 551.4 609.1 551.6 587.7 551.8 587.6 552.0 594.5 552.2 635.5 552.4 597.1 552.6 600.7 552.8 592.3 553.0 599.9 553.2 602.0 553.4 603.7 553.6 604.1 553.8 598.0 554.0 600.2 554.2 604.3 554.4 608.0 554.6 601.8 554.8 620.0 555.0 593.0 555.2 605.2 555.4 594.7 555.6 611.5 555.8 593.4 556.0 566.8 556.2 607.7 556.4 609.7 556.6 583.1 556.8 629.0 557.0 601.8 557.2 585.0 557.4 599.3 557.6 619.0 557.8 592.3 558.0 584.3 558.2 604.1 558.4 611.6 558.6 607.5 558.8 597.3 559.0 600.8 559.2 602.8 559.4 612.4 559.6 618.0 559.8 596.4 560.0 609.6 560.2 593.2 560.4 601.2 560.6 587.3 560.8 587.6 561.0 597.2 561.2 588.6 561.4 601.6 561.6 589.7 561.8 593.4 562.0 591.4 562.2 590.4 562.4 593.3 562.6 600.4 562.8 612.2 563.0 574.6 563.2 593.9 563.4 589.7 563.6 582.1 563.8 594.0 564.0 585.3 564.2 591.6 564.4 606.7 564.6 573.0 564.8 594.5 565.0 596.1 565.2 581.9 565.4 597.5 565.6 595.1 565.8 590.3 566.0 605.6 566.2 580.3 566.4 598.7 566.6 589.9 566.8 580.7 567.0 590.1 567.2 588.6 567.4 597.7 567.6 580.2 567.8 589.6 568.0 586.5 568.2 605.4 568.4 571.3 568.6 601.5 568.8 570.7 569.0 592.3 569.2 588.0 569.4 593.2 569.6 579.4 569.8 575.1 570.0 577.1 570.2 599.5 570.4 589.8 570.6 576.4 570.8 596.3 571.0 581.0 571.2 577.1 571.4 570.8 571.6 601.8 571.8 609.2 572.0 578.6 572.2 591.2 572.4 596.2 572.6 610.3 572.8 575.6 573.0 591.5 573.2 596.8 573.4 572.0 573.6 595.8 573.8 593.4 574.0 598.3 574.2 587.0 574.4 595.6 574.6 580.1 574.8 596.7 575.0 616.3 575.2 589.4 575.4 577.5 575.6 613.9 575.8 581.0 576.0 606.5 576.2 585.7 576.4 593.4 576.6 611.4 576.8 607.3 577.0 587.2 577.2 600.3 577.4 601.8 577.6 599.3 577.8 588.3 578.0 615.0 578.2 610.6 578.4 602.2 578.6 593.7 578.8 599.6 579.0 606.6 579.2 622.4 579.4 605.9 579.6 621.2 579.8 611.3 580.0 604.5 580.2 595.2 580.4 603.8 580.6 596.8 580.8 612.9 581.0 619.4 581.2 625.5 581.4 616.9 581.6 609.1 581.8 634.9 582.0 622.3 582.2 617.7 582.4 617.9 582.6 604.5 582.8 626.3 583.0 624.6 583.2 637.4 583.4 628.2 583.6 626.0 583.8 628.5 584.0 614.2 584.2 613.3 584.4 604.8 584.6 607.7 584.8 614.4 585.0 610.3 585.2 621.2 585.4 613.3 585.6 599.5 585.8 612.7 586.0 629.0 586.2 597.3 586.4 604.4 586.6 610.6 586.8 594.8 587.0 606.5 587.2 610.5 587.4 598.1 587.6 611.4 587.8 614.8 588.0 601.0 588.2 608.5 588.4 625.4 588.6 605.3 588.8 610.4 589.0 610.4 589.2 603.3 589.4 611.3 589.6 606.8 589.8 594.7 590.0 606.4 590.2 612.3 590.4 609.0 590.6 597.2 590.8 605.6 591.0 611.9 591.2 602.1 591.4 619.6 591.6 608.4 591.8 599.7 592.0 611.8 592.2 596.9 592.4 605.9 592.6 600.0 592.8 593.8 593.0 600.9 593.2 600.3 593.4 604.6 593.6 605.7 593.8 590.6 594.0 594.9 594.2 607.1 594.4 607.3 594.6 604.0 594.8 622.8 595.0 615.9 595.2 601.9 595.4 608.2 595.6 610.5 595.8 607.1 596.0 588.0 596.2 602.5 596.4 602.0 596.6 620.8 596.8 580.9 597.0 612.8 597.2 598.5 597.4 612.3 597.6 597.1 597.8 601.8 598.0 612.5 598.2 600.9 598.4 607.2 598.6 599.5 598.8 596.6 599.0 598.4 599.2 594.3 599.4 599.6 599.6 619.8 599.8 583.0 600.0 588.9 600.2 601.3 600.4 614.0 600.6 608.7 600.8 615.1 601.0 614.8 601.2 593.9 601.4 604.0 601.6 583.3 601.8 597.3 602.0 611.2 602.2 587.8 602.4 583.2 602.6 593.2 602.8 605.1 603.0 612.5 603.2 620.3 603.4 613.1 603.6 591.3 603.8 583.8 604.0 604.8 604.2 611.1 604.4 590.1 604.6 598.3 604.8 612.4 605.0 604.1 605.2 601.3 605.4 607.1 605.6 611.0 605.8 604.3 606.0 607.8 606.2 622.4 606.4 587.4 606.6 594.0 606.8 610.1 607.0 621.8 607.2 605.7 607.4 613.2 607.6 599.7 607.8 608.6 608.0 595.0 608.2 608.1 608.4 604.6 608.6 606.4 608.8 614.3 609.0 594.0 609.2 596.0 609.4 611.0 609.6 591.6 609.8 611.6 610.0 622.3 610.2 609.4 610.4 607.8 610.6 604.2 610.8 608.5 611.0 599.1 611.2 611.0 611.4 600.7 611.6 599.1 611.8 604.0 612.0 602.0 612.2 588.4 612.4 620.3 612.6 603.0 612.8 581.5 613.0 609.1 613.2 599.9 613.4 612.6 613.6 604.8 613.8 591.6 614.0 578.0 614.2 597.8 614.4 600.9 614.6 611.6 614.8 570.5 615.0 595.5 615.2 601.0 615.4 595.0 615.6 595.2 615.8 600.2 616.0 587.2 616.2 611.7 616.4 586.4 616.6 596.6 616.8 594.0 617.0 589.4 617.2 603.2 617.4 614.3 617.6 615.1 617.8 602.8 618.0 592.7 618.2 602.1 618.4 597.6 618.6 596.6 618.8 602.3 619.0 603.1 619.2 576.1 619.4 584.6 619.6 614.3 619.8 590.1 620.0 582.9 620.2 577.2 620.4 594.9 620.6 604.0 620.8 594.4 621.0 607.0 621.2 599.4 621.4 596.9 621.6 601.6 621.8 590.4 622.0 599.0 622.2 588.6 622.4 588.9 622.6 603.2 622.8 589.4 623.0 596.6 623.2 588.6 623.4 594.9 623.6 590.7 623.8 608.3 624.0 597.5 624.2 598.5 624.4 611.7 624.6 577.9 624.8 590.3 625.0 578.8 625.2 599.5 625.4 604.7 625.6 606.7 625.8 603.7 626.0 592.2 626.2 620.9 626.4 605.1 626.6 599.5 626.8 593.2 627.0 608.1 627.2 598.6 627.4 600.6 627.6 605.1 627.8 605.8 628.0 598.2 628.2 621.9 628.4 590.5 628.6 577.1 628.8 605.5 629.0 604.3 629.2 603.7 629.4 600.7 629.6 603.8 629.8 599.0 630.0 587.9 630.2 610.8 630.4 591.7 630.6 603.1 630.8 615.7 631.0 605.6 631.2 623.1 631.4 588.9 631.6 597.5 631.8 608.7 632.0 624.1 632.2 605.3 632.4 595.8 632.6 627.3 632.8 602.3 633.0 608.3 633.2 617.5 633.4 604.7 633.6 608.6 633.8 615.5 634.0 610.3 634.2 615.4 634.4 606.4 634.6 611.9 634.8 605.0 635.0 593.7 635.2 633.4 635.4 618.9 635.6 626.2 635.8 604.3 636.0 613.2 636.2 611.0 636.4 598.9 636.6 617.4 636.8 602.7 637.0 607.9 637.2 599.8 637.4 627.6 637.6 614.9 637.8 610.6 638.0 593.8 638.2 602.1 638.4 626.0 638.6 604.0 638.8 608.3 639.0 605.7 639.2 595.8 639.4 613.4 639.6 589.0 639.8 605.5 640.0 602.3 640.2 582.9 640.4 605.8 640.6 606.5 640.8 602.4 641.0 596.0 641.2 605.9 641.4 609.9 641.6 603.8 641.8 621.0 642.0 616.7 642.2 605.8 642.4 616.4 642.6 593.7 642.8 594.3 643.0 606.1 643.2 607.6 643.4 619.7 643.6 610.2 643.8 602.1 644.0 601.8 644.2 597.3 644.4 594.3 644.6 596.0 644.8 609.9 645.0 591.0 645.2 595.5 645.4 599.3 645.6 579.2 645.8 595.9 646.0 553.8 646.2 601.3 646.4 595.5 646.6 600.6 646.8 601.1 647.0 586.7 647.2 618.4 647.4 600.0 647.6 601.0 647.8 579.3 648.0 603.5 648.2 602.8 648.4 596.3 648.6 603.1 648.8 610.1 649.0 610.8 649.2 588.8 649.4 616.4 649.6 595.2 649.8 600.0 650.0 620.3 650.2 603.8 650.4 600.5 650.6 605.3 650.8 597.0 651.0 604.9 651.2 603.5 651.4 620.0 651.6 600.0 651.8 607.0 652.0 609.8 652.2 607.4 652.4 609.4 652.6 607.0 652.8 611.0 653.0 600.8 653.2 603.7 653.4 622.1 653.6 586.2 653.8 612.1 654.0 626.7 654.2 587.5 654.4 619.2 654.6 589.1 654.8 613.9 655.0 628.8 655.2 622.4 655.4 600.6 655.6 590.4 655.8 596.1 656.0 618.0 656.2 607.3 656.4 610.2 656.6 612.4 656.8 612.8 657.0 613.5 657.2 610.5 657.4 593.0 657.6 617.8 657.8 588.5 658.0 623.0 658.2 603.7 658.4 607.2 658.6 603.4 658.8 605.2 659.0 608.6 659.2 606.8 659.4 596.7 659.6 619.8 659.8 604.6 660.0 618.5 660.2 606.4 660.4 601.1 660.6 610.5 660.8 612.6 661.0 599.1 661.2 620.5 661.4 623.3 661.6 594.6 661.8 588.4 662.0 603.4 662.2 586.0 662.4 578.7 662.6 581.6 662.8 601.7 663.0 601.1 663.2 600.3 663.4 598.9 663.6 581.9 663.8 598.5 664.0 602.3 664.2 587.3 664.4 605.1 664.6 587.3 664.8 592.5 665.0 594.8 665.2 578.5 665.4 605.9 665.6 583.5 665.8 591.3 666.0 589.5 666.2 598.8 666.4 599.6 666.6 596.2 666.8 607.1 667.0 599.5 667.2 592.5 667.4 579.3 667.6 597.2 667.8 596.6 668.0 593.6 668.2 595.1 668.4 607.9 668.6 614.7 668.8 622.5 669.0 617.3 669.2 595.8 669.4 608.2 669.6 596.1 669.8 614.3 670.0 609.1 670.2 602.0 670.4 605.4 670.6 604.5 670.8 601.3 671.0 626.6 671.2 626.9 671.4 614.2 671.6 615.0 671.8 610.7 672.0 602.7 672.2 628.1 672.4 606.3 672.6 613.6 672.8 587.6 673.0 615.7 673.2 608.8 673.4 613.3 673.6 594.3 673.8 608.2 674.0 622.4 674.2 595.9 674.4 603.4 674.6 623.4 674.8 611.9 675.0 620.8 675.2 588.7 675.4 592.7 675.6 598.1 675.8 596.6 676.0 612.0 676.2 622.4 676.4 596.1 676.6 595.3 676.8 604.2 677.0 607.7 677.2 591.4 677.4 628.5 677.6 613.1 677.8 606.8 678.0 623.3 678.2 626.6 678.4 624.3 678.6 605.6 678.8 613.1 679.0 620.0 679.2 602.3 679.4 606.7 679.6 626.9 679.8 604.7 680.0 609.5 680.2 603.2 680.4 608.7 680.6 619.7 680.8 607.2 681.0 599.8 681.2 610.7 681.4 633.7 681.6 617.0 681.8 611.1 682.0 617.9 682.2 622.2 682.4 618.3 682.6 605.1 682.8 621.8 683.0 615.0 683.2 626.3 683.4 610.3 683.6 628.6 683.8 614.4 684.0 606.3 684.2 640.0 684.4 617.2 684.6 624.2 684.8 620.2 685.0 634.4 685.2 632.0 685.4 632.8 685.6 634.1 685.8 608.1 686.0 605.6 686.2 629.2 686.4 617.5 686.6 630.9 686.8 629.0 687.0 616.6 687.2 617.2 687.4 618.0 687.6 618.1 687.8 636.8 688.0 635.1 688.2 639.7 688.4 616.8 688.6 620.7 688.8 642.3 689.0 635.7 689.2 625.6 689.4 603.2 689.6 616.1 689.8 622.5 690.0 616.9 690.2 637.5 690.4 620.2 690.6 620.5 690.8 593.8 691.0 609.6 691.2 610.5 691.4 605.7 691.6 609.7 691.8 617.3 692.0 612.8 692.2 621.7 692.4 600.5 692.6 610.1 692.8 608.5 693.0 625.6 693.2 602.7 693.4 606.4 693.6 594.7 693.8 608.0 694.0 603.3 694.2 594.0 694.4 595.2 694.6 597.5 694.8 605.2 695.0 588.3 695.2 602.9 695.4 593.8 695.6 615.9 695.8 607.3 696.0 594.2 696.2 592.3 696.4 620.4 696.6 605.9 696.8 607.8 697.0 601.3 697.2 604.1 697.4 612.2 697.6 613.6 697.8 601.6 698.0 617.9 698.2 613.4 698.4 605.7 698.6 620.6 698.8 612.6 699.0 621.0 699.2 607.6 699.4 620.2 699.6 607.6 699.8 621.0 700.0 609.3 700.2 621.4 700.4 604.6 700.6 619.9 700.8 626.0 701.0 625.5 701.2 633.2 701.4 615.3 701.6 635.6 701.8 642.4 702.0 614.8 702.2 611.4 702.4 617.5 702.6 623.1 702.8 625.9 703.0 603.7 703.2 630.6 703.4 620.1 703.6 607.9 703.8 629.8 704.0 616.6 704.2 628.0 704.4 621.3 704.6 612.9 704.8 624.5 705.0 625.3 705.2 607.6 705.4 593.7 705.6 604.9 705.8 616.1 706.0 607.6 706.2 629.4 706.4 633.9 706.6 611.1 706.8 610.9 707.0 600.8 707.2 605.4 707.4 597.1 707.6 585.7 707.8 585.1 708.0 609.2 708.2 599.0 708.4 623.9 708.6 591.9 708.8 595.4 709.0 606.2 709.2 601.5 709.4 593.7 709.6 618.6 709.8 597.2 710.0 594.6 710.2 603.5 710.4 583.2 710.6 602.3 710.8 585.9 711.0 583.3 711.2 584.6 711.4 593.4 711.6 593.3 711.8 595.0 712.0 595.3 712.2 606.8 712.4 609.6 712.6 603.6 712.8 602.2 713.0 589.8 713.2 587.3 713.4 601.6 713.6 597.3 713.8 607.3 714.0 581.9 714.2 618.5 714.4 585.5 714.6 600.1 714.8 610.1 715.0 588.3 715.2 595.4 715.4 584.3 715.6 593.7 715.8 589.9 716.0 617.4 716.2 607.9 716.4 614.7 716.6 618.3 716.8 617.9 717.0 607.2 717.2 605.8 717.4 604.0 717.6 603.9 717.8 622.2 718.0 612.8 718.2 607.7 718.4 609.1 718.6 618.1 718.8 607.1 719.0 617.3 719.2 613.8 719.4 626.1 719.6 625.0 719.8 601.2 720.0 615.5 720.2 624.5 720.4 614.5 720.6 628.3 720.8 622.1 721.0 627.4 721.2 619.4 721.4 623.0 721.6 623.5 721.8 609.4 722.0 609.7 722.2 612.0 722.4 637.5 722.6 619.4 722.8 623.1 723.0 597.8 723.2 609.9 723.4 607.1 723.6 621.6 723.8 608.5 724.0 625.0 724.2 614.8 724.4 613.3 724.6 609.7 724.8 610.3 725.0 610.9 725.2 619.5 725.4 629.6 725.6 589.6 725.8 612.0 726.0 614.7 726.2 595.9 726.4 601.8 726.6 600.5 726.8 588.7 727.0 615.5 727.2 607.7 727.4 607.6 727.6 608.9 727.8 610.5 728.0 627.9 728.2 610.1 728.4 616.2 728.6 601.9 728.8 611.3 729.0 605.4 729.2 606.3 729.4 600.5 729.6 597.1 729.8 610.7 730.0 613.0 730.2 611.1 730.4 600.8 730.6 607.6 730.8 583.7 731.0 613.6 731.2 601.8 731.4 603.5 731.6 609.0 731.8 575.3 732.0 605.5 732.2 594.6 732.4 601.7 732.6 589.0 732.8 597.7 733.0 603.5 733.2 587.1 733.4 580.9 733.6 590.8 733.8 595.7 734.0 612.4 734.2 587.3 734.4 573.0 734.6 587.5 734.8 582.1 735.0 584.5 735.2 592.6 735.4 584.4 735.6 585.2 735.8 574.0 736.0 579.7 736.2 587.5 736.4 602.2 736.6 602.2 736.8 583.7 737.0 590.4 737.2 595.0 737.4 619.1 737.6 583.6 737.8 594.0 738.0 614.2 738.2 593.9 738.4 596.6 738.6 594.9 738.8 585.8 739.0 608.5 739.2 597.0 739.4 595.6 739.6 601.0 739.8 600.2 740.0 591.2 740.2 598.2 740.4 588.1 740.6 594.1 740.8 586.2 741.0 586.3 741.2 598.7 741.4 592.2 741.6 589.8 741.8 589.5 742.0 592.9 742.2 592.2 742.4 574.2 742.6 586.5 742.8 589.2 743.0 597.1 743.2 608.5 743.4 582.0 743.6 610.2 743.8 594.6 744.0 601.4 744.2 590.3 744.4 589.0 744.6 613.1 744.8 594.1 745.0 579.1 745.2 610.1 745.4 609.6 745.6 578.3 745.8 598.2 746.0 600.4 746.2 612.5 746.4 620.8 746.6 601.9 746.8 606.3 747.0 611.4 747.2 612.7 747.4 602.3 747.6 614.0 747.8 596.4 748.0 585.6 748.2 590.0 748.4 609.2 748.6 612.3 748.8 592.7 749.0 568.8 749.2 607.7 749.4 587.6 749.6 616.5 749.8 619.2 750.0 588.5 750.2 622.4 750.4 608.5 750.6 625.5 750.8 613.5 751.0 609.7 751.2 613.6 751.4 622.5 751.6 614.4 751.8 600.8 752.0 604.0 752.2 618.1 752.4 616.8 752.6 635.1 752.8 617.9 753.0 617.0 753.2 613.1 753.4 624.3 753.6 617.9 753.8 612.2 754.0 636.2 754.2 634.0 754.4 618.4 754.6 614.7 754.8 631.1 755.0 616.4 755.2 643.3 755.4 624.2 755.6 640.0 755.8 617.1 756.0 626.6 756.2 634.6 756.4 631.2 756.6 624.2 756.8 644.3 757.0 638.6 757.2 626.2 757.4 630.2 757.6 623.5 757.8 644.2 758.0 618.9 758.2 624.7 758.4 602.2 758.6 632.0 758.8 599.1 759.0 624.5 759.2 626.0 759.4 613.0 759.6 620.7 759.8 621.5 760.0 603.3 760.2 616.4 760.4 629.4 760.6 607.3 760.8 613.3 761.0 596.7 761.2 611.1 761.4 600.7 761.6 612.6 761.8 604.0 762.0 586.8 762.2 615.2 762.4 598.7 762.6 590.3 762.8 600.4 763.0 592.3 763.2 605.2 763.4 598.0 763.6 594.2 763.8 604.3 764.0 586.1 764.2 601.6 764.4 582.1 764.6 607.9 764.8 596.8 765.0 593.2 765.2 583.7 765.4 601.1 765.6 594.9 765.8 595.1 766.0 606.4 766.2 592.8 766.4 595.7 766.6 601.5 766.8 613.2 767.0 597.2 767.2 600.6 767.4 599.1 767.6 604.1 767.8 612.2 768.0 591.1 768.2 598.3 768.4 579.3 768.6 603.3 768.8 618.2 769.0 599.5 769.2 603.3 769.4 618.4 769.6 591.3 769.8 594.1 770.0 596.4 770.2 600.9 770.4 604.1 770.6 595.7 770.8 618.8 771.0 591.9 771.2 598.6 771.4 619.0 771.6 609.8 771.8 600.5 772.0 605.8 772.2 605.5 772.4 601.6 772.6 609.6 772.8 593.8 773.0 602.3 773.2 584.7 773.4 592.5 773.6 592.9 773.8 614.0 774.0 595.5 774.2 606.6 774.4 573.5 774.6 599.5 774.8 599.1 775.0 594.7 775.2 611.5 775.4 580.7 775.6 609.0 775.8 620.5 776.0 595.8 776.2 602.1 776.4 581.8 776.6 602.5 776.8 586.0 777.0 608.0 777.2 599.4 777.4 582.9 777.6 586.6 777.8 590.7 778.0 601.8 778.2 611.3 778.4 601.5 778.6 597.8 778.8 592.5 779.0 607.7 779.2 589.0 779.4 611.9 779.6 612.1 779.8 586.9 780.0 614.4 780.2 591.5 780.4 604.7 780.6 613.7 780.8 591.3 781.0 586.2 781.2 574.4 781.4 598.6 781.6 604.2 781.8 596.8 782.0 599.7 782.2 598.6 782.4 625.6 782.6 594.2 782.8 584.9 783.0 602.5 783.2 595.0 783.4 621.0 783.6 584.1 783.8 611.3 784.0 593.5 784.2 601.5 784.4 603.0 784.6 608.5 784.8 607.1 785.0 587.9 785.2 616.6 785.4 612.9 785.6 590.1 785.8 575.9 786.0 615.2 786.2 615.0 786.4 595.8 786.6 600.6 786.8 605.4 787.0 597.2 787.2 591.6 787.4 594.1 787.6 599.6 787.8 594.1 788.0 591.9 788.2 599.6 788.4 579.1 788.6 584.3 788.8 604.8 789.0 595.6 789.2 595.4 789.4 594.7 789.6 601.7 789.8 592.3 790.0 572.3 790.2 595.5 790.4 572.3 790.6 579.1 790.8 603.6 791.0 600.0 791.2 588.2 791.4 592.1 791.6 593.4 791.8 599.9 792.0 586.9 792.2 585.2 792.4 584.1 792.6 593.6 792.8 596.4 793.0 588.3 793.2 601.0 793.4 586.5 793.6 582.9 793.8 589.3 794.0 586.7 794.2 605.8 794.4 592.0 794.6 587.0 794.8 594.7 795.0 587.4 795.2 598.6 795.4 601.4 795.6 604.4 795.8 585.0 796.0 593.8 796.2 608.1 796.4 594.0 796.6 607.2 796.8 609.9 797.0 580.1 797.2 607.5 797.4 603.8 797.6 603.7 797.8 610.4 798.0 604.1 798.2 599.7 798.4 605.2 798.6 597.5 798.8 606.1 799.0 582.0 799.2 621.7 799.4 598.4 799.6 607.6 799.8 607.8 800.0 607.8 800.2 608.0 800.4 609.2 800.6 593.5 800.8 604.6 801.0 626.7 801.2 600.2 801.4 602.7 801.6 631.2 801.8 631.9 802.0 628.1 802.2 613.9 802.4 617.7 802.6 620.2 802.8 617.6 803.0 613.1 803.2 603.2 803.4 606.7 803.6 602.1 803.8 625.1 804.0 607.7 804.2 610.0 804.4 613.3 804.6 610.5 804.8 616.1 805.0 603.5 805.2 592.0 805.4 623.5 805.6 612.2 805.8 603.7 806.0 600.3 806.2 601.3 806.4 605.8 806.6 615.0 806.8 593.1 807.0 606.6 807.2 592.6 807.4 611.6 807.6 586.5 807.8 603.9 808.0 609.9 808.2 567.1 808.4 621.1 808.6 604.9 808.8 596.5 809.0 600.0 809.2 608.9 809.4 603.6 809.6 577.1 809.8 598.4 810.0 605.9 810.2 610.0 810.4 608.3 810.6 605.1 810.8 619.8 811.0 590.6 811.2 584.5 811.4 580.2 811.6 611.7 811.8 584.3 812.0 599.7 812.2 608.5 812.4 589.4 812.6 596.5 812.8 599.5 813.0 608.7 813.2 592.0 813.4 605.1 813.6 612.6 813.8 604.8 814.0 606.8 814.2 621.7 814.4 606.8 814.6 604.7 814.8 592.7 815.0 609.4 815.2 603.0 815.4 613.5 815.6 606.8 815.8 616.3 816.0 596.4 816.2 606.5 816.4 608.5 816.6 610.7 816.8 617.5 817.0 623.2 817.2 611.4 817.4 625.4 817.6 612.0 817.8 596.0 818.0 593.5 818.2 615.8 818.4 601.9 818.6 607.6 818.8 604.0 819.0 617.9 819.2 617.8 819.4 590.8 819.6 587.1 819.8 604.5 820.0 598.5 820.2 617.9 820.4 608.1 820.6 612.5 820.8 629.8 821.0 618.9 821.2 621.3 821.4 605.7 821.6 602.0 821.8 628.1 822.0 611.0 822.2 614.0 822.4 611.1 822.6 615.6 822.8 650.5 823.0 613.2 823.2 612.5 823.4 617.9 823.6 618.7 823.8 605.5 824.0 597.8 824.2 610.1 824.4 616.3 824.6 613.0 824.8 607.8 825.0 610.7 825.2 616.1 825.4 618.7 825.6 607.0 825.8 612.6 826.0 623.4 826.2 620.1 826.4 611.6 826.6 618.2 826.8 621.7 827.0 631.3 827.2 602.9 827.4 648.6 827.6 618.3 827.8 625.7 828.0 631.4 828.2 636.5 828.4 618.1 828.6 623.9 828.8 632.7 829.0 619.6 829.2 618.7 829.4 620.7 829.6 633.7 829.8 640.1 830.0 624.6 830.2 623.6 830.4 625.3 830.6 627.0 830.8 619.9 831.0 611.3 831.2 631.0 831.4 630.4 831.6 629.9 831.8 619.7 832.0 626.2 832.2 624.8 832.4 643.2 832.6 648.2 832.8 631.4 833.0 643.9 833.2 624.4 833.4 623.6 833.6 611.6 833.8 628.3 834.0 618.7 834.2 626.4 834.4 631.9 834.6 623.2 834.8 614.0 835.0 624.8 835.2 624.3 835.4 625.0 835.6 629.0 835.8 622.5 836.0 622.5 836.2 639.9 836.4 639.6 836.6 611.5 836.8 610.2 837.0 618.8 837.2 626.2 837.4 631.2 837.6 642.9 837.8 638.2 838.0 623.2 838.2 617.5 838.4 620.9 838.6 614.3 838.8 611.7 839.0 624.3 839.2 617.5 839.4 650.7 839.6 608.8 839.8 615.1 840.0 617.7 840.2 590.3 840.4 600.6 840.6 613.3 840.8 607.0 841.0 585.1 841.2 592.4 841.4 594.6 841.6 597.1 841.8 615.9 842.0 595.7 842.2 617.9 842.4 595.4 842.6 585.6 842.8 615.9 843.0 605.2 843.2 604.4 843.4 605.8 843.6 602.7 843.8 612.8 844.0 574.5 844.2 583.2 844.4 594.7 844.6 592.7 844.8 596.1 845.0 585.1 845.2 601.3 845.4 609.0 845.6 598.9 845.8 598.9 846.0 591.2 846.2 598.3 846.4 591.4 846.6 585.0 846.8 591.9 847.0 592.9 847.2 576.4 847.4 594.6 847.6 592.6 847.8 594.3 848.0 587.7 848.2 598.5 848.4 600.8 848.6 589.8 848.8 598.6 849.0 600.1 849.2 601.4 849.4 587.1 849.6 584.4 849.8 596.8 850.0 586.8 850.2 616.1 850.4 586.8 850.6 584.4 850.8 601.8 851.0 593.5 851.2 579.0 851.4 595.4 851.6 586.4 851.8 593.3 852.0 582.6 852.2 590.6 852.4 595.9 852.6 596.8 852.8 586.1 853.0 589.0 853.2 591.4 853.4 600.1 853.6 598.0 853.8 591.3 854.0 605.8 854.2 595.5 854.4 605.8 854.6 596.8 854.8 605.1 855.0 602.2 855.2 604.5 855.4 611.4 855.6 613.6 855.8 607.5 856.0 607.8 856.2 594.7 856.4 606.9 856.6 593.4 856.8 589.6 857.0 607.2 857.2 608.1 857.4 623.3 857.6 616.0 857.8 620.8 858.0 609.9 858.2 615.3 858.4 648.1 858.6 617.8 858.8 615.6 859.0 613.9 859.2 605.4 859.4 605.5 859.6 600.2 859.8 619.0 860.0 611.6 860.2 607.3 860.4 616.8 860.6 607.9 860.8 622.7 861.0 628.9 861.2 618.9 861.4 608.7 861.6 597.5 861.8 633.7 862.0 616.7 862.2 595.1 862.4 626.1 862.6 599.7 862.8 610.3 863.0 611.1 863.2 607.8 863.4 598.3 863.6 632.4 863.8 609.2 864.0 616.5 864.2 612.4 864.4 594.0 864.6 604.0 864.8 614.9 865.0 618.6 865.2 608.5 865.4 613.4 865.6 608.0 865.8 615.2 866.0 590.6 866.2 616.9 866.4 601.6 866.6 602.6 866.8 589.3 867.0 593.6 867.2 616.3 867.4 627.9 867.6 603.3 867.8 603.2 868.0 610.8 868.2 609.0 868.4 601.8 868.6 603.8 868.8 603.6 869.0 616.5 869.2 612.1 869.4 622.4 869.6 631.3 869.8 611.9 870.0 606.7 870.2 604.1 870.4 596.8 870.6 624.9 870.8 606.8 871.0 625.1 871.2 598.3 871.4 620.6 871.6 609.3 871.8 604.3 872.0 592.3 872.2 594.9 872.4 626.4 872.6 616.4 872.8 608.2 873.0 609.1 873.2 601.3 873.4 587.9 873.6 588.0 873.8 603.5 874.0 606.9 874.2 601.1 874.4 617.2 874.6 615.7 874.8 610.3 875.0 589.0 875.2 607.2 875.4 608.6 875.6 599.1 875.8 589.0 876.0 628.6 876.2 613.5 876.4 604.6 876.6 618.6 876.8 624.2 877.0 612.5 877.2 611.5 877.4 621.1 877.6 617.5 877.8 609.3 878.0 606.8 878.2 614.1 878.4 588.9 878.6 609.7 878.8 605.7 879.0 608.6 879.2 606.6 879.4 613.8 879.6 609.8 879.8 609.3 880.0 607.2 880.2 612.8 880.4 605.1 880.6 615.1 880.8 591.0 881.0 610.0 881.2 611.5 881.4 595.4 881.6 603.3 881.8 619.1 882.0 606.2 882.2 595.8 882.4 587.2 882.6 594.1 882.8 607.0 883.0 610.6 883.2 625.6 883.4 605.8 883.6 606.6 883.8 598.8 884.0 605.4 884.2 605.9 884.4 617.8 884.6 617.6 884.8 596.6 885.0 601.9 885.2 624.3 885.4 594.0 885.6 615.9 885.8 628.2 886.0 639.1 886.2 611.7 886.4 620.0 886.6 612.3 886.8 609.5 887.0 607.9 887.2 618.1 887.4 614.4 887.6 629.6 887.8 606.6 888.0 607.9 888.2 605.4 888.4 612.3 888.6 601.3 888.8 619.6 889.0 612.5 889.2 593.4 889.4 589.5 889.6 593.0 889.8 619.3 890.0 608.6 890.2 610.2 890.4 605.7 890.6 613.4 890.8 596.6 891.0 589.3 891.2 594.9 891.4 609.8 891.6 597.3 891.8 613.3 892.0 609.1 892.2 599.6 892.4 616.5 892.6 606.8 892.8 589.6 893.0 610.3 893.2 603.4 893.4 604.4 893.6 602.8 893.8 602.6 894.0 614.0 894.2 611.1 894.4 619.9 894.6 596.7 894.8 619.3 895.0 611.6 895.2 600.1 895.4 606.3 895.6 601.1 895.8 594.2 896.0 616.9 896.2 609.2 896.4 617.2 896.6 623.2 896.8 606.5 897.0 607.4 897.2 602.8 897.4 620.7 897.6 610.2 897.8 609.3 898.0 625.0 898.2 590.7 898.4 625.2 898.6 587.7 898.8 605.3 899.0 625.7 899.2 596.1 899.4 617.2 899.6 608.2 899.8 617.1 900.0 597.1 900.2 607.1 900.4 588.8 900.6 600.9 900.8 614.3 901.0 604.2 901.2 591.7 901.4 596.5 901.6 591.1 901.8 612.5 902.0 598.4 902.2 592.4 902.4 612.6 902.6 606.7 902.8 607.9 903.0 597.6 903.2 615.9 903.4 602.1 903.6 586.8 903.8 595.5 904.0 591.9 904.2 600.0 904.4 607.5 904.6 593.0 904.8 597.3 905.0 620.7 905.2 601.5 905.4 594.1 905.6 600.4 905.8 590.0 906.0 605.8 906.2 605.8 906.4 592.1 906.6 607.6 906.8 597.0 907.0 600.8 907.2 589.6 907.4 590.8 907.6 588.8 907.8 602.4 908.0 596.2 908.2 597.2 908.4 591.9 908.6 585.9 908.8 593.0 909.0 603.0 909.2 601.6 909.4 590.8 909.6 602.0 909.8 611.4 910.0 601.3 910.2 617.3 910.4 602.7 910.6 612.6 910.8 591.1 911.0 609.2 911.2 587.5 911.4 600.9 911.6 593.7 911.8 579.3 912.0 583.1 912.2 608.3 912.4 603.3 912.6 611.0 912.8 597.1 913.0 575.2 913.2 596.5 913.4 588.6 913.6 588.4 913.8 590.5 914.0 584.8 914.2 587.5 914.4 601.7 914.6 596.2 914.8 589.4 915.0 588.7 915.2 604.5 915.4 596.8 915.6 595.2 915.8 583.7 916.0 590.3 916.2 585.4 916.4 578.3 916.6 604.3 916.8 607.0 917.0 590.5 917.2 583.6 917.4 598.8 917.6 610.0 917.8 598.8 918.0 601.4 918.2 586.0 918.4 594.9 918.6 594.9 918.8 602.5 919.0 593.0 919.2 582.6 919.4 591.8 919.6 587.6 919.8 607.7 920.0 599.2 920.2 594.5 920.4 593.9 920.6 597.3 920.8 586.6 921.0 582.4 921.2 576.2 921.4 610.8 921.6 598.1 921.8 600.6 922.0 594.4 922.2 609.2 922.4 589.1 922.6 607.8 922.8 588.6 923.0 592.0 923.2 584.6 923.4 599.1 923.6 595.5 923.8 604.2 924.0 595.2 924.2 582.8 924.4 609.1 924.6 615.3 924.8 610.6 925.0 602.1 925.2 608.0 925.4 584.9 925.6 601.1 925.8 623.4 926.0 609.8 926.2 592.7 926.4 616.0 926.6 604.4 926.8 613.2 927.0 593.6 927.2 602.5 927.4 610.5 927.6 610.8 927.8 612.5 928.0 609.1 928.2 607.9 928.4 613.2 928.6 621.4 928.8 591.4 929.0 608.1 929.2 588.7 929.4 613.3 929.6 619.1 929.8 600.9 930.0 618.7 930.2 596.8 930.4 603.1 930.6 606.0 930.8 610.1 931.0 607.0 931.2 608.1 931.4 607.5 931.6 609.1 931.8 598.9 932.0 606.9 932.2 606.7 932.4 616.0 932.6 620.2 932.8 628.8 933.0 609.3 933.2 602.5 933.4 610.5 933.6 615.6 933.8 609.4 934.0 601.3 934.2 606.9 934.4 607.4 934.6 596.0 934.8 585.1 935.0 615.6 935.2 588.5 935.4 609.9 935.6 606.2 935.8 619.2 936.0 615.9 936.2 604.0 936.4 621.1 936.6 605.3 936.8 630.1 937.0 622.2 937.2 610.1 937.4 617.1 937.6 614.3 937.8 605.2 938.0 612.5 938.2 618.2 938.4 618.2 938.6 620.5 938.8 630.4 939.0 622.1 939.2 612.8 939.4 614.4 939.6 616.3 939.8 612.6 940.0 611.4 940.2 633.6 940.4 618.7 940.6 633.6 940.8 605.1 941.0 613.3 941.2 609.5 941.4 609.4 941.6 611.1 941.8 612.2 942.0 609.5 942.2 632.8 942.4 621.3 942.6 606.6 942.8 605.3 943.0 618.2 943.2 617.7 943.4 589.4 943.6 621.4 943.8 595.6 944.0 606.7 944.2 624.6 944.4 590.4 944.6 607.5 944.8 615.8 945.0 624.7 945.2 603.5 945.4 602.0 945.6 592.5 945.8 587.7 946.0 607.7 946.2 601.2 946.4 606.1 946.6 604.9 946.8 608.5 947.0 587.9 947.2 602.3 947.4 599.7 947.6 600.3 947.8 597.0 948.0 583.9 948.2 610.4 948.4 614.4 948.6 623.2 948.8 608.4 949.0 616.4 949.2 629.6 949.4 600.1 949.6 607.4 949.8 591.5 950.0 605.9 950.2 603.1 950.4 591.6 950.6 618.8 950.8 612.2 951.0 610.9 951.2 614.6 951.4 615.0 951.6 602.5 951.8 588.8 952.0 597.0 952.2 613.7 952.4 605.6 952.6 593.2 952.8 614.1 953.0 604.3 953.2 620.3 953.4 613.8 953.6 597.8 953.8 601.9 954.0 594.4 954.2 596.0 954.4 596.7 954.6 606.0 954.8 618.5 955.0 595.3 955.2 585.7 955.4 602.0 955.6 600.3 955.8 609.2 956.0 599.6 956.2 602.3 956.4 600.8 956.6 597.3 956.8 608.0 957.0 584.7 957.2 596.7 957.4 602.4 957.6 604.0 957.8 601.1 958.0 583.7 958.2 595.0 958.4 609.2 958.6 608.6 958.8 592.6 959.0 606.8 959.2 604.5 959.4 620.7 959.6 596.5 959.8 613.7 960.0 600.1 960.2 622.2 960.4 610.3 960.6 593.6 960.8 621.3 961.0 606.2 961.2 610.3 961.4 586.6 961.6 600.8 961.8 610.1 962.0 611.1 962.2 588.5 962.4 596.9 962.6 594.9 962.8 590.7 963.0 607.9 963.2 614.8 963.4 623.3 963.6 586.2 963.8 621.0 964.0 615.1 964.2 636.7 964.4 618.9 964.6 590.5 964.8 626.7 965.0 609.6 965.2 614.2 965.4 605.8 965.6 605.1 965.8 606.1 966.0 624.1 966.2 609.7 966.4 605.6 966.6 593.9 966.8 610.5 967.0 607.8 967.2 609.7 967.4 620.0 967.6 617.2 967.8 606.6 968.0 608.5 968.2 606.7 968.4 613.0 968.6 611.7 968.8 606.3 969.0 595.3 969.2 612.2 969.4 614.9 969.6 593.2 969.8 607.4 970.0 600.4 970.2 583.4 970.4 602.1 970.6 612.9 970.8 595.0 971.0 595.7 971.2 612.6 971.4 593.5 971.6 595.7 971.8 598.8 972.0 590.9 972.2 607.0 972.4 597.7 972.6 599.4 972.8 603.2 973.0 598.7 973.2 595.9 973.4 591.7 973.6 610.2 973.8 601.4 974.0 646.7 974.2 608.2 974.4 599.0 974.6 604.4 974.8 607.4 975.0 608.2 975.2 590.1 975.4 607.7 975.6 604.3 975.8 613.0 976.0 621.3 976.2 599.9 976.4 601.8 976.6 610.7 976.8 613.7 977.0 612.4 977.2 618.2 977.4 606.2 977.6 604.4 977.8 612.9 978.0 611.8 978.2 622.4 978.4 625.9 978.6 587.2 978.8 589.8 979.0 600.5 979.2 594.2 979.4 629.9 979.6 604.6 979.8 603.5 980.0 594.4 980.2 600.6 980.4 606.0 980.6 596.2 980.8 606.1 981.0 608.7 981.2 606.7 981.4 611.1 981.6 607.5 981.8 595.4 982.0 600.1 982.2 609.1 982.4 614.7 982.6 611.0 982.8 603.4 983.0 610.6 983.2 594.4 983.4 626.3 983.6 606.0 983.8 609.8 984.0 607.4 984.2 608.8 984.4 598.0 984.6 607.7 984.8 635.8 985.0 597.6 985.2 601.3 985.4 610.6 985.6 631.5 985.8 619.9 986.0 631.9 986.2 635.3 986.4 611.9 986.6 616.6 986.8 598.2 987.0 634.5 987.2 627.2 987.4 625.6 987.6 623.5 987.8 621.2 988.0 619.3 988.2 607.8 988.4 629.1 988.6 619.9 988.8 605.1 989.0 615.7 989.2 629.8 989.4 616.2 989.6 611.7 989.8 618.8 990.0 614.5 990.2 601.0 990.4 600.3 990.6 591.6 990.8 607.4 991.0 607.0 991.2 616.2 991.4 626.3 991.6 602.0 991.8 607.2 992.0 602.2 992.2 586.1 992.4 595.7 992.6 596.4 992.8 606.5 993.0 596.6 993.2 591.6 993.4 610.1 993.6 602.0 993.8 591.7 994.0 596.4 994.2 598.5 994.4 605.9 994.6 623.7 994.8 586.3 995.0 621.4 995.2 599.5 995.4 601.1 995.6 604.8 995.8 592.1 996.0 606.2 996.2 578.0 996.4 590.7 996.6 590.6 996.8 616.1 997.0 615.8 997.2 606.5 997.4 600.5 997.6 585.5 997.8 614.6 998.0 605.6 998.2 602.1 998.4 593.1 998.6 589.6 998.8 592.8 999.0 607.3 999.2 586.7 999.4 595.0 999.6 610.6 999.8 602.9 1000.0 608.6 1000.2 598.3 1000.4 600.1 1000.6 605.1 1000.8 602.6 1001.0 599.2 1001.2 608.8 1001.4 573.1 1001.6 609.0 1001.8 596.8 1002.0 591.6 1002.2 606.1 1002.4 595.5 1002.6 590.3 1002.8 597.2 1003.0 602.8 1003.2 608.3 1003.4 608.0 1003.6 613.2 1003.8 604.3 1004.0 611.6 1004.2 605.3 1004.4 601.8 1004.6 609.5 1004.8 609.7 1005.0 626.3 1005.2 611.9 1005.4 601.1 1005.6 610.5 1005.8 604.8 1006.0 621.9 1006.2 590.6 1006.4 600.5 1006.6 601.0 1006.8 606.9 1007.0 604.3 1007.2 591.7 1007.4 593.2 1007.6 606.8 1007.8 614.3 1008.0 624.7 1008.2 601.7 1008.4 608.8 1008.6 598.6 1008.8 590.8 1009.0 614.1 1009.2 612.8 1009.4 604.4 1009.6 602.4 1009.8 613.6 1010.0 601.6 1010.2 605.2 1010.4 610.5 1010.6 608.6 1010.8 605.4 1011.0 596.3 1011.2 623.3 1011.4 606.6 1011.6 595.8 1011.8 626.1 1012.0 620.8 1012.2 614.9 1012.4 610.4 1012.6 614.5 1012.8 601.9 1013.0 611.2 1013.2 614.8 1013.4 609.5 1013.6 617.1 1013.8 605.2 1014.0 612.3 1014.2 599.6 1014.4 633.2 1014.6 601.8 1014.8 601.1 1015.0 608.2 1015.2 611.7 1015.4 604.2 1015.6 619.4 1015.8 607.1 1016.0 620.9 1016.2 617.1 1016.4 605.4 1016.6 621.5 1016.8 598.5 1017.0 616.0 1017.2 613.7 1017.4 618.3 1017.6 598.3 1017.8 605.9 1018.0 601.9 1018.2 613.2 1018.4 613.0 1018.6 611.9 1018.8 609.1 1019.0 603.7 1019.2 596.0 1019.4 604.8 1019.6 611.5 1019.8 616.6 1020.0 600.8 1020.2 634.3 1020.4 594.9 1020.6 618.3 1020.8 573.3 1021.0 605.2 1021.2 608.9 1021.4 594.3 1021.6 595.1 1021.8 618.6 1022.0 593.6 1022.2 602.4 1022.4 597.9 1022.6 598.3 1022.8 598.7 1023.0 600.0 1023.2 577.6 1023.4 593.8 1023.6 596.0 1023.8 586.4 1024.0 594.4 1024.2 581.3 1024.4 598.6 1024.6 588.2 1024.8 591.5 1025.0 600.9 1025.2 606.9 1025.4 610.1 1025.6 589.9 1025.8 605.0 1026.0 578.4 1026.2 605.8 1026.4 605.4 1026.6 586.6 1026.8 606.4 1027.0 601.6 1027.2 605.4 1027.4 580.5 1027.6 597.6 1027.8 600.4 1028.0 599.0 1028.2 601.6 1028.4 602.8 1028.6 588.4 1028.8 603.4 1029.0 600.6 1029.2 607.9 1029.4 605.1 1029.6 610.4 1029.8 614.0 1030.0 631.7 1030.2 603.0 1030.4 629.3 1030.6 610.2 1030.8 603.8 1031.0 603.2 1031.2 621.5 1031.4 599.6 1031.6 622.8 1031.8 619.2 1032.0 612.4 1032.2 613.0 1032.4 621.7 1032.6 619.4 1032.8 623.5 1033.0 618.6 1033.2 613.7 1033.4 622.5 1033.6 609.4 1033.8 629.4 1034.0 620.3 1034.2 611.1 1034.4 613.0 1034.6 615.3 1034.8 606.9 1035.0 629.9 1035.2 630.5 1035.4 607.1 1035.6 617.0 1035.8 637.8 1036.0 620.4 1036.2 610.6 1036.4 602.9 1036.6 597.3 1036.8 624.0 1037.0 618.5 1037.2 601.9 1037.4 620.9 1037.6 613.4 1037.8 610.7 1038.0 609.1 1038.2 610.6 1038.4 634.2 1038.6 604.2 1038.8 608.7 1039.0 632.2 1039.2 632.4 1039.4 601.7 1039.6 633.3 1039.8 625.1 1040.0 599.6 1040.2 633.4 1040.4 602.3 1040.6 619.2 1040.8 603.0 1041.0 601.7 1041.2 623.5 1041.4 618.1 1041.6 591.7 1041.8 616.9 1042.0 614.4 1042.2 612.5 1042.4 605.5 1042.6 619.4 1042.8 616.0 1043.0 613.2 1043.2 612.0 1043.4 614.0 1043.6 599.1 1043.8 611.6 1044.0 607.0 1044.2 629.9 1044.4 608.4 1044.6 610.0 1044.8 634.6 1045.0 622.3 1045.2 619.5 1045.4 613.5 1045.6 632.6 1045.8 598.9 1046.0 616.3 1046.2 631.0 1046.4 599.4 1046.6 619.4 1046.8 617.8 1047.0 592.7 1047.2 602.2 1047.4 618.8 1047.6 588.3 1047.8 604.0 1048.0 613.2 1048.2 603.1 1048.4 607.8 1048.6 600.6 1048.8 594.8 1049.0 598.6 1049.2 601.7 1049.4 608.5 1049.6 604.4 1049.8 615.8 1050.0 606.4 1050.2 606.1 1050.4 619.1 1050.6 601.8 1050.8 596.2 1051.0 604.7 1051.2 562.9 1051.4 607.9 1051.6 612.9 1051.8 608.6 1052.0 598.2 1052.2 617.3 1052.4 608.0 1052.6 612.0 1052.8 601.3 1053.0 598.4 1053.2 594.8 1053.4 588.0 1053.6 606.5 1053.8 608.5 1054.0 595.7 1054.2 602.1 1054.4 612.1 1054.6 602.0 1054.8 600.2 1055.0 604.6 1055.2 607.4 1055.4 621.3 1055.6 595.3 1055.8 602.7 1056.0 619.8 1056.2 599.8 1056.4 604.8 1056.6 589.9 1056.8 608.4 1057.0 607.7 1057.2 607.0 1057.4 594.7 1057.6 600.5 1057.8 596.5 1058.0 603.8 1058.2 596.8 1058.4 606.2 1058.6 583.2 1058.8 595.3 1059.0 577.9 1059.2 595.6 1059.4 606.8 1059.6 597.4 1059.8 619.4 1060.0 589.4 1060.2 594.7 1060.4 590.7 1060.6 598.4 1060.8 609.9 1061.0 583.5 1061.2 596.9 1061.4 621.2 1061.6 602.2 1061.8 613.2 1062.0 598.4 1062.2 605.8 1062.4 594.2 1062.6 606.3 1062.8 603.3 1063.0 606.0 1063.2 610.3 1063.4 624.1 1063.6 611.4 1063.8 599.9 1064.0 592.2 1064.2 610.7 1064.4 613.0 1064.6 622.9 1064.8 624.5 1065.0 609.8 1065.2 627.2 1065.4 617.5 1065.6 595.6 1065.8 624.9 1066.0 618.7 1066.2 618.1 1066.4 605.9 1066.6 614.5 1066.8 618.5 1067.0 616.0 1067.2 603.5 1067.4 629.6 1067.6 657.0 1067.8 632.0 1068.0 635.2 1068.2 629.0 1068.4 619.7 1068.6 628.5 1068.8 615.5 1069.0 609.1 1069.2 597.8 1069.4 619.1 1069.6 612.1 1069.8 616.6 1070.0 628.0 1070.2 602.5 1070.4 595.0 1070.6 616.1 1070.8 616.8 1071.0 611.1 1071.2 602.3 1071.4 598.8 1071.6 610.5 1071.8 600.2 1072.0 595.0 1072.2 617.3 1072.4 605.1 1072.6 612.6 1072.8 609.9 1073.0 614.2 1073.2 622.6 1073.4 612.0 1073.6 614.0 1073.8 617.1 1074.0 603.3 1074.2 605.8 1074.4 610.7 1074.6 625.1 1074.8 619.6 1075.0 624.7 1075.2 578.8 1075.4 604.4 1075.6 584.7 1075.8 600.0 1076.0 584.6 1076.2 617.6 1076.4 608.9 1076.6 595.9 1076.8 609.0 1077.0 609.5 1077.2 614.5 1077.4 613.5 1077.6 605.1 1077.8 603.0 1078.0 610.3 1078.2 606.3 1078.4 599.1 1078.6 588.4 1078.8 610.5 1079.0 596.4 1079.2 601.2 1079.4 608.2 1079.6 602.1 1079.8 610.6 1080.0 593.8 1080.2 610.7 1080.4 587.9 1080.6 583.5 1080.8 571.2 1081.0 603.1 1081.2 571.1 1081.4 589.6 1081.6 609.4 1081.8 590.4 1082.0 600.4 1082.2 604.4 1082.4 596.5 1082.6 604.2 1082.8 608.7 1083.0 601.6 1083.2 609.2 1083.4 596.3 1083.6 591.4 1083.8 604.2 1084.0 594.0 1084.2 610.2 1084.4 601.9 1084.6 597.3 1084.8 609.8 1085.0 607.8 1085.2 581.9 1085.4 599.0 1085.6 603.0 1085.8 604.2 1086.0 597.0 1086.2 613.0 1086.4 601.9 1086.6 605.3 1086.8 580.3 1087.0 581.9 1087.2 616.1 1087.4 579.6 1087.6 609.0 1087.8 605.0 1088.0 584.3 1088.2 599.4 1088.4 588.1 1088.6 603.2 1088.8 605.7 1089.0 613.6 1089.2 599.2 1089.4 623.8 1089.6 614.4 1089.8 594.8 1090.0 593.8 1090.2 595.7 1090.4 602.1 1090.6 620.2 1090.8 613.4 1091.0 590.5 1091.2 604.7 1091.4 598.9 1091.6 602.0 1091.8 588.6 1092.0 606.8 1092.2 593.2 1092.4 609.0 1092.6 611.2 1092.8 616.3 1093.0 623.8 1093.2 597.1 1093.4 597.9 1093.6 598.2 1093.8 630.1 1094.0 633.5 1094.2 636.7 1094.4 640.0 1094.6 643.4 1094.8 647.0 1095.0 650.6 1095.2 654.0 1095.4 657.4 1095.6 660.7 1095.8 664.0 1096.0 667.5 1096.2 671.1 1096.4 674.9 1096.6 679.0 1096.8 683.3 1097.0 687.8 1097.2 692.1 1097.4 696.4 1097.6 700.5 1097.8 704.5 1098.0 708.3 1098.2 711.9 1098.4 714.5 1098.6 716.0 1098.8 717.6 1099.0 719.3 1099.2 721.3 1099.4 723.3 1099.6 725.4 1099.8 727.6 1100.0 729.8 1100.2 732.0 1100.4 734.1 1100.6 736.2 1100.8 738.9 1101.0 741.3 1101.2 743.5 1101.4 745.5 1101.6 747.3 1101.8 749.1 1102.0 751.0 1102.2 753.1 1102.4 755.4 1102.6 757.9 1102.8 760.5 1103.0 763.2 1103.2 766.8 1103.4 770.5 1103.6 774.0 1103.8 777.3 1104.0 780.5 1104.2 783.7 1104.4 787.2 1104.6 791.1 1104.8 795.4 1105.0 799.8 1105.2 804.0 1105.4 806.8 1105.6 808.2 1105.8 809.1 1106.0 809.8 1106.2 810.6 1106.4 811.4 1106.6 812.5 1106.8 813.9 1107.0 815.5 1107.2 817.2 1107.4 819.0 1107.6 820.8 1107.8 821.3 1108.0 820.4 1108.2 819.3 1108.4 818.2 1108.6 817.0 1108.8 816.0 1109.0 815.2 1109.2 814.4 1109.4 813.8 1109.6 813.1 1109.8 812.4 1110.0 811.4 1110.2 810.1 1110.4 808.8 1110.6 806.7 1110.8 803.9 1111.0 801.1 1111.2 798.2 1111.4 795.1 1111.6 791.9 1111.8 788.9 1112.0 786.2 1112.2 783.8 1112.4 781.7 1112.6 779.6 1112.8 777.2 1113.0 774.6 1113.2 771.6 1113.4 768.4 1113.6 765.1 1113.8 759.1 1114.0 753.3 1114.2 747.6 1114.4 742.0 1114.6 736.5 1114.8 730.8 1115.0 725.2 1115.2 719.6 1115.4 714.1 1115.6 708.6 1115.8 703.2 1116.0 693.8 1116.2 680.3 1116.4 666.8 1116.6 653.2 1116.8 639.7 1117.0 626.4 1117.2 618.5 1117.4 615.7 1117.6 612.9 1117.8 609.8 1118.0 606.4 1118.2 602.6 1118.4 598.6 1118.6 594.7 1118.8 590.9 1119.0 587.2 1119.2 583.5 1119.4 579.9 1119.6 590.0 1119.8 597.9 1120.0 592.3 1120.2 598.9 1120.4 598.3 1120.6 580.4 1120.8 599.3 1121.0 584.6 1121.2 593.7 1121.4 582.1 1121.6 592.2 1121.8 599.5 1122.0 597.8 1122.2 612.8 1122.4 608.7 1122.6 599.8 1122.8 576.0 1123.0 612.6 1123.2 600.2 1123.4 601.2 1123.6 611.3 1123.8 599.9 1124.0 603.9 1124.2 622.7 1124.4 612.3 1124.6 601.7 1124.8 615.0 1125.0 615.2 1125.2 620.2 1125.4 606.3 1125.6 608.8 1125.8 618.0 1126.0 612.1 1126.2 610.1 1126.4 608.0 1126.6 607.1 1126.8 599.7 1127.0 605.2 1127.2 613.5 1127.4 608.2 1127.6 600.8 1127.8 613.1 1128.0 623.3 1128.2 628.2 1128.4 600.5 1128.6 609.2 1128.8 628.7 1129.0 617.0 1129.2 616.3 1129.4 598.4 1129.6 615.7 1129.8 607.7 1130.0 634.3 1130.2 607.9 1130.4 612.9 1130.6 623.2 1130.8 626.4 1131.0 613.2 1131.2 601.5 1131.4 604.6 1131.6 607.8 1131.8 609.4 1132.0 622.2 1132.2 607.8 1132.4 598.2 1132.6 614.8 1132.8 616.7 1133.0 608.4 1133.2 619.6 1133.4 613.0 1133.6 611.4 1133.8 605.8 1134.0 596.1 1134.2 616.2 1134.4 619.4 1134.6 606.2 1134.8 608.4 1135.0 611.7 1135.2 601.7 1135.4 613.8 1135.6 615.1 1135.8 617.1 1136.0 615.8 1136.2 589.1 1136.4 611.8 1136.6 604.8 1136.8 618.7 1137.0 617.5 1137.2 615.2 1137.4 607.2 1137.6 627.4 1137.8 607.2 1138.0 598.6 1138.2 623.5 1138.4 591.7 1138.6 626.3 1138.8 618.4 1139.0 614.7 1139.2 615.2 1139.4 610.3 1139.6 592.9 1139.8 598.3 1140.0 616.4 1140.2 605.6 1140.4 611.1 1140.6 601.1 1140.8 603.3 1141.0 612.9 1141.2 615.5 1141.4 609.8 1141.6 597.7 1141.8 598.3 1142.0 631.2 1142.2 614.5 1142.4 603.7 1142.6 605.8 1142.8 620.8 1143.0 604.7 1143.2 622.8 1143.4 618.9 1143.6 607.7 1143.8 618.7 1144.0 606.8 1144.2 617.5 1144.4 624.2 1144.6 616.5 1144.8 612.2 1145.0 616.9 1145.2 617.0 1145.4 622.0 1145.6 599.6 1145.8 607.5 1146.0 624.8 1146.2 618.3 1146.4 619.3 1146.6 621.0 1146.8 616.7 1147.0 613.5 1147.2 635.8 1147.4 626.4 1147.6 622.8 1147.8 618.7 1148.0 610.7 1148.2 621.4 1148.4 603.5 1148.6 613.3 1148.8 619.6 1149.0 619.3 1149.2 625.5 1149.4 627.9 1149.6 624.4 1149.8 615.2 1150.0 617.8 1150.2 615.1 1150.4 633.6 1150.6 624.2 1150.8 609.1 1151.0 601.7 1151.2 625.5 1151.4 610.5 1151.6 623.0 1151.8 618.7 1152.0 624.9 1152.2 608.9 1152.4 621.3 1152.6 633.1 1152.8 625.4 1153.0 631.2 1153.2 617.1 1153.4 613.9 1153.6 622.0 1153.8 602.9 1154.0 616.6 1154.2 606.4 1154.4 603.3 1154.6 603.2 1154.8 604.9 1155.0 621.8 1155.2 625.4 1155.4 616.8 1155.6 631.4 1155.8 616.1 1156.0 608.9 1156.2 601.1 1156.4 622.8 1156.6 622.3 1156.8 626.8 1157.0 607.9 1157.2 613.1 1157.4 605.9 1157.6 631.4 1157.8 621.2 1158.0 622.9 1158.2 616.2 1158.4 615.3 1158.6 611.2 1158.8 625.9 1159.0 611.1 1159.2 621.1 1159.4 617.1 1159.6 607.0 1159.8 600.0 1160.0 608.9 1160.2 595.3 1160.4 595.2 1160.6 617.8 1160.8 625.3 1161.0 621.1 1161.2 593.2 1161.4 592.0 1161.6 617.4 1161.8 621.1 1162.0 605.7 1162.2 613.8 1162.4 606.8 1162.6 605.3 1162.8 618.8 1163.0 605.6 1163.2 621.0 1163.4 624.0 1163.6 607.9 1163.8 626.6 1164.0 599.3 1164.2 619.3 1164.4 608.4 1164.6 627.9 1164.8 608.4 1165.0 600.1 1165.2 621.0 1165.4 572.1 1165.6 611.0 1165.8 600.1 1166.0 619.6 1166.2 606.2 1166.4 615.9 1166.6 606.4 1166.8 597.8 1167.0 587.6 1167.2 626.4 1167.4 609.7 1167.6 591.6 1167.8 602.1 1168.0 623.0 1168.2 587.9 1168.4 627.9 1168.6 606.8 1168.8 606.4 1169.0 618.1 1169.2 614.1 1169.4 601.6 1169.6 619.2 1169.8 619.8 1170.0 623.0 1170.2 604.7 1170.4 599.9 1170.6 621.7 1170.8 611.8 1171.0 595.2 1171.2 611.6 1171.4 619.7 1171.6 604.2 1171.8 624.3 1172.0 606.2 1172.2 614.0 1172.4 594.7 1172.6 605.8 1172.8 611.4 1173.0 618.3 1173.2 614.8 1173.4 619.5 1173.6 592.5 1173.8 612.1 1174.0 609.4 1174.2 600.2 1174.4 610.6 1174.6 605.5 1174.8 614.7 1175.0 607.5 1175.2 615.0 1175.4 599.1 1175.6 629.4 1175.8 612.8 1176.0 626.6 1176.2 624.0 1176.4 626.8 1176.6 629.6 1176.8 632.3 1177.0 635.1 1177.2 637.9 1177.4 640.6 1177.6 643.2 1177.8 645.7 1178.0 648.1 1178.2 650.8 1178.4 653.9 1178.6 656.5 1178.8 659.2 1179.0 661.8 1179.2 664.0 1179.4 665.9 1179.6 667.7 1179.8 669.5 1180.0 671.5 1180.2 673.8 1180.4 676.2 1180.6 678.7 1180.8 681.0 1181.0 683.2 1181.2 685.1 1181.4 686.9 1181.6 688.5 1181.8 690.1 1182.0 691.3 1182.2 692.2 1182.4 693.5 1182.6 695.0 1182.8 696.6 1183.0 698.3 1183.2 700.0 1183.4 701.6 1183.6 703.3 1183.8 704.8 1184.0 706.2 1184.2 707.5 1184.4 708.5 1184.6 709.2 1184.8 709.5 1185.0 709.4 1185.2 709.1 1185.4 708.8 1185.6 708.9 1185.8 709.5 1186.0 710.6 1186.2 712.0 1186.4 713.5 1186.6 714.6 1186.8 715.8 1187.0 716.4 1187.2 716.6 1187.4 716.8 1187.6 717.3 1187.8 718.1 1188.0 719.4 1188.2 721.0 1188.4 722.7 1188.6 724.5 1188.8 726.4 1189.0 728.2 1189.2 729.9 1189.4 731.5 1189.6 732.8 1189.8 734.1 1190.0 735.2 1190.2 736.2 1190.4 736.9 1190.6 737.3 1190.8 737.4 1191.0 737.3 1191.2 737.5 1191.4 738.1 1191.6 739.2 1191.8 740.8 1192.0 742.6 1192.2 741.4 1192.4 739.9 1192.6 738.0 1192.8 735.9 1193.0 733.9 1193.2 732.3 1193.4 731.0 1193.6 729.9 1193.8 728.8 1194.0 727.7 1194.2 726.6 1194.4 725.6 1194.6 724.5 1194.8 723.2 1195.0 721.6 1195.2 719.8 1195.4 717.6 1195.6 715.3 1195.8 713.0 1196.0 710.9 1196.2 708.9 1196.4 707.2 1196.6 705.7 1196.8 704.3 1197.0 702.7 1197.2 700.7 1197.4 698.2 1197.6 695.6 1197.8 693.3 1198.0 691.6 1198.2 690.6 1198.4 689.8 1198.6 689.2 1198.8 688.2 1199.0 687.0 1199.2 685.7 1199.4 684.6 1199.6 683.4 1199.8 682.2 1200.0 681.0 1200.2 679.7 1200.4 678.3 1200.6 676.8 1200.8 675.2 1201.0 673.6 1201.2 671.9 1201.4 670.3 1201.6 668.7 1201.8 667.1 1202.0 665.6 1202.2 661.5 1202.4 657.6 1202.6 654.1 1202.8 650.8 1203.0 647.7 1203.2 644.5 1203.4 641.1 1203.6 637.4 1203.8 633.3 1204.0 628.8 1204.2 624.1 1204.4 619.7 1204.6 616.1 1204.8 612.5 1205.0 609.3 1205.2 606.2 1205.4 603.4 1205.6 613.3 1205.8 598.8 1206.0 614.6 1206.2 618.0 1206.4 633.7 1206.6 624.2 1206.8 619.1 1207.0 614.5 1207.2 606.3 1207.4 612.4 1207.6 605.3 1207.8 615.1 1208.0 628.1 1208.2 629.1 1208.4 626.7 1208.6 618.6 1208.8 630.4 1209.0 617.2 1209.2 606.3 1209.4 621.2 1209.6 621.3 1209.8 603.1 1210.0 618.3 1210.2 602.3 1210.4 619.2 1210.6 637.7 1210.8 618.5 1211.0 621.1 1211.2 626.9 1211.4 620.8 1211.6 606.2 1211.8 634.1 1212.0 633.6 1212.2 617.8 1212.4 625.5 1212.6 646.3 1212.8 621.3 1213.0 633.6 1213.2 611.1 1213.4 622.6 1213.6 637.0 1213.8 620.1 1214.0 613.7 1214.2 614.3 1214.4 631.7 1214.6 615.5 1214.8 635.1 1215.0 641.4 1215.2 656.3 1215.4 634.4 1215.6 649.7 1215.8 642.4 1216.0 636.2 1216.2 642.7 1216.4 675.8 1216.6 650.7 1216.8 646.9 1217.0 639.2 1217.2 647.5 1217.4 641.5 1217.6 642.0 1217.8 643.9 1218.0 659.7 1218.2 627.4 1218.4 639.1 1218.6 631.5 1218.8 646.8 1219.0 650.6 1219.2 646.7 1219.4 632.5 1219.6 635.0 1219.8 639.9 1220.0 634.7 1220.2 634.6 1220.4 633.1 1220.6 633.7 1220.8 629.1 1221.0 634.4 1221.2 612.4 1221.4 623.5 1221.6 618.0 1221.8 625.5 1222.0 618.6 1222.2 631.5 1222.4 637.0 1222.6 613.4 1222.8 615.3 1223.0 625.5 1223.2 651.4 1223.4 630.0 1223.6 625.4 1223.8 621.2 1224.0 617.2 1224.2 626.7 1224.4 626.5 1224.6 622.7 1224.8 614.7 1225.0 606.7 1225.2 608.9 1225.4 614.2 1225.6 607.4 1225.8 620.0 1226.0 607.5 1226.2 614.1 1226.4 619.2 1226.6 625.2 1226.8 620.2 1227.0 633.7 1227.2 609.8 1227.4 604.7 1227.6 624.0 1227.8 605.7 1228.0 611.6 1228.2 599.1 1228.4 621.5 1228.6 618.8 1228.8 583.4 1229.0 591.0 1229.2 613.3 1229.4 633.8 1229.6 623.7 1229.8 628.7 1230.0 610.5 1230.2 606.7 1230.4 604.6 1230.6 603.6 1230.8 592.4 1231.0 599.2 1231.2 604.6 1231.4 592.5 1231.6 595.1 1231.8 612.6 1232.0 598.0 1232.2 611.7 1232.4 614.3 1232.6 601.3 1232.8 608.6 1233.0 598.6 1233.2 593.0 1233.4 598.2 1233.6 599.0 1233.8 599.6 1234.0 597.8 1234.2 591.7 1234.4 604.6 1234.6 594.8 1234.8 575.0 1235.0 601.7 1235.2 561.4 1235.4 594.8 1235.6 604.7 1235.8 594.7 1236.0 613.6 1236.2 590.3 1236.4 586.0 1236.6 591.1 1236.8 586.7 1237.0 589.9 1237.2 584.4 1237.4 603.6 1237.6 618.8 1237.8 573.1 1238.0 586.2 1238.2 610.5 1238.4 589.4 1238.6 603.0 1238.8 577.7 1239.0 583.1 1239.2 600.3 1239.4 582.3 1239.6 579.9 1239.8 593.4 1240.0 584.7 1240.2 591.0 1240.4 596.3 1240.6 600.8 1240.8 598.4 1241.0 597.9 1241.2 604.7 1241.4 606.6 1241.6 594.7 1241.8 577.3 1242.0 588.8 1242.2 612.0 1242.4 592.8 1242.6 590.8 1242.8 596.5 1243.0 618.4 1243.2 600.8 1243.4 597.6 1243.6 592.4 1243.8 586.4 1244.0 621.6 1244.2 602.4 1244.4 605.0 1244.6 600.9 1244.8 614.6 1245.0 597.0 1245.2 586.1 1245.4 602.3 1245.6 610.2 1245.8 628.2 1246.0 608.8 1246.2 575.9 1246.4 608.9 1246.6 607.0 1246.8 606.8 1247.0 615.0 1247.2 617.2 1247.4 609.2 1247.6 650.9 1247.8 616.2 1248.0 618.7 1248.2 612.4 1248.4 625.5 1248.6 623.2 1248.8 627.4 1249.0 613.8 1249.2 630.6 1249.4 618.9 1249.6 623.9 1249.8 643.8 1250.0 633.8 1250.2 618.9 1250.4 612.3 1250.6 627.3 1250.8 637.8 1251.0 622.3 1251.2 644.2 1251.4 611.3 1251.6 646.3 1251.8 642.7 1252.0 634.6 1252.2 629.1 1252.4 638.8 1252.6 639.2 1252.8 639.3 1253.0 626.1 1253.2 625.5 1253.4 653.2 1253.6 631.4 1253.8 626.2 1254.0 621.7 1254.2 631.0 1254.4 614.4 1254.6 634.8 1254.8 632.8 1255.0 610.5 1255.2 640.9 1255.4 659.7 1255.6 634.3 1255.8 620.9 1256.0 626.3 1256.2 645.8 1256.4 614.2 1256.6 627.2 1256.8 641.6 1257.0 628.4 1257.2 621.3 1257.4 634.7 1257.6 644.9 1257.8 631.5 1258.0 617.2 1258.2 608.5 1258.4 623.7 1258.6 606.8 1258.8 625.9 1259.0 633.1 1259.2 606.0 1259.4 624.3 1259.6 629.2 1259.8 620.9 1260.0 628.6 1260.2 629.5 1260.4 640.6 1260.6 643.7 1260.8 626.3 1261.0 616.4 1261.2 616.3 1261.4 607.5 1261.6 631.7 1261.8 625.5 1262.0 624.8 1262.2 623.6 1262.4 634.8 1262.6 637.0 1262.8 631.3 1263.0 612.7 1263.2 614.7 1263.4 605.9 1263.6 610.3 1263.8 618.0 1264.0 606.4 1264.2 609.0 1264.4 633.8 1264.6 612.2 1264.8 597.9 1265.0 603.6 1265.2 609.7 1265.4 620.2 1265.6 607.7 1265.8 613.2 1266.0 608.4 1266.2 586.0 1266.4 613.7 1266.6 598.0 1266.8 621.1 1267.0 596.0 1267.2 597.7 1267.4 593.4 1267.6 577.0 1267.8 600.8 1268.0 592.0 1268.2 604.3 1268.4 597.3 1268.6 605.9 1268.8 595.1 1269.0 608.2 1269.2 602.8 1269.4 593.6 1269.6 612.9 1269.8 606.5 1270.0 599.1 1270.2 593.9 1270.4 595.0 1270.6 594.1 1270.8 599.8 1271.0 585.6 1271.2 598.7 1271.4 593.0 1271.6 597.7 1271.8 603.9 1272.0 612.6 1272.2 619.2 1272.4 604.4 1272.6 619.2 1272.8 604.4 1273.0 609.8 1273.2 590.5 1273.4 604.0 1273.6 615.0 1273.8 608.2 1274.0 601.2 1274.2 606.2 1274.4 597.7 1274.6 600.2 1274.8 590.9 1275.0 615.1 1275.2 614.8 1275.4 607.2 1275.6 600.3 1275.8 606.9 1276.0 613.6 1276.2 589.5 1276.4 605.8 1276.6 604.2 1276.8 620.2 1277.0 595.2 1277.2 612.3 1277.4 601.9 1277.6 606.3 1277.8 583.0 1278.0 614.0 1278.2 607.1 1278.4 605.2 1278.6 617.2 1278.8 613.6 1279.0 628.9 1279.2 613.3 1279.4 609.8 1279.6 610.2 1279.8 605.7 1280.0 618.2 1280.2 606.4 1280.4 612.2 1280.6 602.9 1280.8 614.6 1281.0 603.4 1281.2 604.2 1281.4 611.4 1281.6 627.5 1281.8 601.4 1282.0 615.4 1282.2 610.1 1282.4 589.2 1282.6 608.8 1282.8 607.6 1283.0 616.0 1283.2 623.8 1283.4 623.2 1283.6 593.1 1283.8 615.1 1284.0 613.3 1284.2 621.5 1284.4 616.3 1284.6 604.0 1284.8 608.7 1285.0 616.2 1285.2 601.3 1285.4 619.3 1285.6 616.8 1285.8 630.5 1286.0 620.4 1286.2 614.2 1286.4 620.6 1286.6 622.9 1286.8 634.6 1287.0 614.1 1287.2 603.7 1287.4 642.0 1287.6 629.8 1287.8 622.8 1288.0 637.7 1288.2 607.8 1288.4 615.3 1288.6 616.4 1288.8 626.9 1289.0 615.7 1289.2 626.4 1289.4 617.0 1289.6 630.5 1289.8 625.3 1290.0 604.2 1290.2 620.4 1290.4 608.2 1290.6 618.9 1290.8 620.6 1291.0 640.1 1291.2 618.7 1291.4 610.0 1291.6 622.6 1291.8 613.6 1292.0 640.8 1292.2 629.5 1292.4 635.9 1292.6 617.8 1292.8 611.2 1293.0 642.0 1293.2 605.1 1293.4 612.9 1293.6 614.5 1293.8 622.1 1294.0 604.5 1294.2 605.3 1294.4 608.4 1294.6 616.2 1294.8 619.3 1295.0 625.5 1295.2 623.5 1295.4 614.7 1295.6 613.6 1295.8 637.4 1296.0 632.7 1296.2 622.3 1296.4 628.4 1296.6 602.0 1296.8 615.6 1297.0 612.2 1297.2 597.9 1297.4 615.8 1297.6 620.9 1297.8 615.4 1298.0 590.6 1298.2 607.7 1298.4 611.1 1298.6 606.4 1298.8 610.8 1299.0 611.0 1299.2 619.3 1299.4 610.1 1299.6 621.7 1299.8 607.0 1300.0 605.6 1300.2 612.1 1300.4 602.0 1300.6 597.7 1300.8 614.7 1301.0 568.8 1301.2 567.6 1301.4 611.7 1301.6 604.8 1301.8 601.7 1302.0 601.5 1302.2 600.9 1302.4 603.1 1302.6 595.0 1302.8 588.5 1303.0 605.9 1303.2 603.8 1303.4 600.4 1303.6 600.6 1303.8 596.5 1304.0 579.6 1304.2 613.8 1304.4 602.7 1304.6 596.1 1304.8 606.4 1305.0 605.7 1305.2 608.4 1305.4 609.4 1305.6 605.1 1305.8 595.9 1306.0 612.9 1306.2 604.5 1306.4 607.2 1306.6 580.4 1306.8 607.1 1307.0 605.5 1307.2 612.2 1307.4 580.4 1307.6 589.6 1307.8 605.2 1308.0 596.5 1308.2 607.9 1308.4 603.1 1308.6 610.8 1308.8 597.1 1309.0 596.9 1309.2 610.2 1309.4 604.7 1309.6 599.5 1309.8 587.4 1310.0 627.4 1310.2 604.3 1310.4 607.2 1310.6 592.4 1310.8 593.1 1311.0 608.5 1311.2 612.8 1311.4 615.4 1311.6 601.7 1311.8 620.0 1312.0 639.7 1312.2 605.6 1312.4 611.3 1312.6 592.1 1312.8 604.8 1313.0 597.5 1313.2 644.7 1313.4 612.8 1313.6 627.7 1313.8 616.6 1314.0 626.4 1314.2 619.7 1314.4 618.9 1314.6 608.7 1314.8 637.7 1315.0 617.8 1315.2 604.5 1315.4 615.5 1315.6 612.6 1315.8 630.8 1316.0 605.3 1316.2 639.9 1316.4 640.0 1316.6 601.2 1316.8 603.4 1317.0 613.1 1317.2 623.6 1317.4 600.1 1317.6 612.7 1317.8 627.7 1318.0 611.9 1318.2 616.1 1318.4 609.0 1318.6 627.2 1318.8 628.9 1319.0 602.8 1319.2 605.7 1319.4 614.8 1319.6 621.3 1319.8 615.7 1320.0 618.5 1320.2 619.7 1320.4 618.4 1320.6 629.0 1320.8 611.9 1321.0 605.0 1321.2 608.2 1321.4 611.9 1321.6 618.3 1321.8 612.8 1322.0 615.9 1322.2 616.0 1322.4 625.0 1322.6 600.0 1322.8 608.0 1323.0 611.2 1323.2 610.3 1323.4 583.4 1323.6 590.0 1323.8 601.4 1324.0 598.2 1324.2 602.6 1324.4 613.2 1324.6 608.3 1324.8 593.0 1325.0 592.6 1325.2 605.2 1325.4 620.5 1325.6 601.0 1325.8 602.4 1326.0 590.3 1326.2 596.8 1326.4 593.0 1326.6 601.1 1326.8 597.4 1327.0 592.6 1327.2 591.3 1327.4 601.8 1327.6 602.6 1327.8 609.3 1328.0 600.9 1328.2 595.8 1328.4 607.5 1328.6 577.8 1328.8 607.4 1329.0 591.9 1329.2 606.9 1329.4 591.6 1329.6 589.9 1329.8 583.9 1330.0 597.8 1330.2 601.6 1330.4 587.7 1330.6 611.9 1330.8 596.9 1331.0 583.7 1331.2 612.0 1331.4 592.8 1331.6 616.1 1331.8 577.1 1332.0 616.1 1332.2 599.0 1332.4 597.8 1332.6 601.6 1332.8 590.0 1333.0 616.9 1333.2 603.3 1333.4 603.3 1333.6 594.8 1333.8 589.6 1334.0 604.1 1334.2 606.0 1334.4 602.5 1334.6 599.5 1334.8 595.8 1335.0 608.9 1335.2 614.4 1335.4 600.9 1335.6 596.3 1335.8 621.7 1336.0 589.2 1336.2 606.8 1336.4 614.7 1336.6 613.4 1336.8 603.8 1337.0 593.0 1337.2 595.5 1337.4 607.1 1337.6 605.3 1337.8 601.5 1338.0 595.5 1338.2 592.8 1338.4 588.4 1338.6 600.6 1338.8 600.5 1339.0 605.6 1339.2 596.9 1339.4 621.1 1339.6 591.7 1339.8 615.4 1340.0 611.8 1340.2 618.7 1340.4 626.9 1340.6 597.9 1340.8 611.7 1341.0 621.4 1341.2 616.3 1341.4 613.6 1341.6 603.8 1341.8 621.2 1342.0 609.1 1342.2 606.6 1342.4 612.1 1342.6 604.6 1342.8 599.5 1343.0 610.6 1343.2 626.8 1343.4 612.2 1343.6 610.4 1343.8 585.6 1344.0 611.4 1344.2 595.4 1344.4 612.2 1344.6 611.2 1344.8 608.2 1345.0 612.7 1345.2 605.7 1345.4 590.2 1345.6 614.1 1345.8 614.1 1346.0 607.0 1346.2 617.1 1346.4 605.7 1346.6 622.9 1346.8 606.2 1347.0 617.8 1347.2 610.3 1347.4 607.1 1347.6 589.9 1347.8 612.5 1348.0 610.2 1348.2 618.4 1348.4 610.7 1348.6 609.1 1348.8 598.5 1349.0 598.3 1349.2 617.7 1349.4 608.6 1349.6 619.7 1349.8 622.0 1350.0 620.0 1350.2 612.4 1350.4 617.2 1350.6 607.5 1350.8 599.9 1351.0 588.1 1351.2 612.5 1351.4 592.8 1351.6 605.6 1351.8 606.5 1352.0 626.4 1352.2 612.4 1352.4 605.6 1352.6 602.3 1352.8 610.0 1353.0 615.0 1353.2 622.8 1353.4 595.8 1353.6 611.7 1353.8 580.4 1354.0 600.0 1354.2 622.4 1354.4 599.1 1354.6 624.9 1354.8 597.4 1355.0 614.1 1355.2 600.5 1355.4 588.5 1355.6 605.7 1355.8 611.8 1356.0 604.3 1356.2 606.4 1356.4 598.6 1356.6 595.3 1356.8 605.6 1357.0 589.1 1357.2 600.2 1357.4 597.8 1357.6 602.5 1357.8 609.7 1358.0 604.0 1358.2 612.2 1358.4 607.8 1358.6 578.5 1358.8 591.8 1359.0 603.4 1359.2 588.2 1359.4 608.7 1359.6 589.4 1359.8 592.3 1360.0 595.6 1360.2 583.2 1360.4 601.6 1360.6 594.7 1360.8 595.5 1361.0 609.9 1361.2 580.1 1361.4 597.9 1361.6 606.1 1361.8 614.4 1362.0 601.4 1362.2 595.9 1362.4 612.2 1362.6 615.9 1362.8 615.5 1363.0 619.1 1363.2 599.0 1363.4 618.1 1363.6 604.1 1363.8 588.7 1364.0 607.2 1364.2 619.8 1364.4 581.4 1364.6 615.6 1364.8 595.8 1365.0 619.6 1365.2 604.3 1365.4 603.3 1365.6 615.9 1365.8 597.8 1366.0 619.6 1366.2 610.9 1366.4 597.5 1366.6 595.7 1366.8 609.1 1367.0 602.9 1367.2 609.5 1367.4 622.3 1367.6 614.2 1367.8 623.5 1368.0 618.7 1368.2 603.5 1368.4 596.4 1368.6 597.1 1368.8 614.4 1369.0 596.9 1369.2 596.8 1369.4 593.5 1369.6 604.0 1369.8 607.2 1370.0 603.8 1370.2 592.2 1370.4 610.0 1370.6 587.0 1370.8 603.7 1371.0 624.8 1371.2 609.7 1371.4 615.9 1371.6 608.9 1371.8 612.7 1372.0 609.0 1372.2 605.9 1372.4 614.0 1372.6 607.6 1372.8 591.4 1373.0 601.4 1373.2 590.7 1373.4 601.5 1373.6 597.7 1373.8 607.4 1374.0 592.6 1374.2 621.5 1374.4 619.8 1374.6 603.1 1374.8 609.5 1375.0 618.3 1375.2 606.0 1375.4 609.6 1375.6 597.4 1375.8 619.9 1376.0 617.7 1376.2 602.3 1376.4 603.3 1376.6 604.4 1376.8 618.9 1377.0 610.9 1377.2 602.5 1377.4 610.4 1377.6 607.6 1377.8 626.2 1378.0 627.8 1378.2 617.3 1378.4 618.6 1378.6 618.1 1378.8 621.6 1379.0 622.4 1379.2 606.4 1379.4 609.8 1379.6 611.5 1379.8 619.6 1380.0 607.2 1380.2 605.9 1380.4 619.9 1380.6 644.6 1380.8 605.0 1381.0 610.8 1381.2 621.3 1381.4 609.0 1381.6 624.3 1381.8 600.4 1382.0 609.8 1382.2 617.0 1382.4 623.4 1382.6 618.7 1382.8 595.9 1383.0 598.1 1383.2 605.3 1383.4 623.6 1383.6 617.4 1383.8 628.1 1384.0 617.2 1384.2 605.6 1384.4 609.8 1384.6 604.7 1384.8 617.6 1385.0 594.9 1385.2 611.5 1385.4 613.7 1385.6 622.1 1385.8 602.6 1386.0 612.4 1386.2 597.0 1386.4 626.6 1386.6 600.3 1386.8 600.4 1387.0 595.1 1387.2 597.0 1387.4 593.0 1387.6 594.9 1387.8 610.2 1388.0 592.1 1388.2 600.1 1388.4 602.5 1388.6 583.1 1388.8 579.2 1389.0 597.2 1389.2 581.9 1389.4 586.7 1389.6 591.4 1389.8 594.0 1390.0 589.5 1390.2 577.5 1390.4 600.7 1390.6 592.0 1390.8 610.4 1391.0 582.5 1391.2 590.6 1391.4 592.1 1391.6 599.5 1391.8 596.4 1392.0 595.5 1392.2 609.6 1392.4 573.1 1392.6 601.5 1392.8 600.8 1393.0 595.2 1393.2 584.6 1393.4 589.6 1393.6 620.0 1393.8 584.9 1394.0 599.5 1394.2 616.2 1394.4 600.7 1394.6 597.7 1394.8 620.2 1395.0 626.0 1395.2 618.1 1395.4 609.0 1395.6 599.1 1395.8 596.3 1396.0 617.8 1396.2 618.6 1396.4 625.6 1396.6 623.0 1396.8 623.7 1397.0 607.7 1397.2 606.1 1397.4 601.5 1397.6 616.0 1397.8 616.1 1398.0 619.5 1398.2 609.3 1398.4 611.5 1398.6 629.9 1398.8 622.2 1399.0 602.3 1399.2 622.2 1399.4 619.9 1399.6 629.7 1399.8 623.2 1400.0 619.3 1400.2 622.0 1400.4 630.4 1400.6 632.8 1400.8 622.9 1401.0 629.8 1401.2 627.9 1401.4 631.5 1401.6 624.6 1401.8 630.3 1402.0 612.6 1402.2 623.2 1402.4 630.3 1402.6 628.4 1402.8 618.1 1403.0 616.1 1403.2 615.8 1403.4 627.1 1403.6 626.2 1403.8 622.6 1404.0 622.6 1404.2 637.3 1404.4 614.3 1404.6 606.3 1404.8 629.2 1405.0 609.6 1405.2 627.2 1405.4 610.6 1405.6 607.3 1405.8 628.2 1406.0 615.4 1406.2 604.5 1406.4 612.5 1406.6 612.6 1406.8 610.1 1407.0 614.4 1407.2 603.0 1407.4 610.2 1407.6 626.0 1407.8 615.9 1408.0 611.2 1408.2 599.5 1408.4 603.9 1408.6 621.7 1408.8 595.5 1409.0 605.5 1409.2 608.6 1409.4 611.3 1409.6 607.6 1409.8 595.9 1410.0 606.7 1410.2 626.8 1410.4 626.3 1410.6 603.7 1410.8 610.4 1411.0 590.1 1411.2 605.7 1411.4 612.1 1411.6 600.5 1411.8 618.1 1412.0 615.9 1412.2 609.6 1412.4 581.2 1412.6 596.4 1412.8 605.2 1413.0 585.0 1413.2 583.1 1413.4 588.7 1413.6 619.5 1413.8 604.5 1414.0 588.5 1414.2 601.3 1414.4 609.9 1414.6 580.5 1414.8 591.2 1415.0 620.5 1415.2 612.5 1415.4 603.0 1415.6 597.8 1415.8 584.3 1416.0 596.6 1416.2 599.8 1416.4 591.0 1416.6 617.0 1416.8 608.7 1417.0 600.5 1417.2 612.2 1417.4 602.0 1417.6 605.6 1417.8 599.1 1418.0 622.4 1418.2 592.4 1418.4 601.5 1418.6 613.9 1418.8 610.5 1419.0 583.0 1419.2 589.9 1419.4 600.9 1419.6 588.7 1419.8 593.3 1420.0 617.1 1420.2 601.9 1420.4 615.2 1420.6 584.2 1420.8 611.1 1421.0 602.6 1421.2 608.3 1421.4 599.9 1421.6 620.2 1421.8 589.0 1422.0 614.2 1422.2 599.6 1422.4 600.5 1422.6 620.5 1422.8 602.8 1423.0 612.3 1423.2 616.8 1423.4 599.1 1423.6 621.6 1423.8 612.4 1424.0 599.8 1424.2 605.3 1424.4 597.2 1424.6 606.6 1424.8 609.2 1425.0 611.7 1425.2 604.9 1425.4 598.2 1425.6 597.2 1425.8 593.5 1426.0 599.1 1426.2 607.4 1426.4 594.5 1426.6 596.2 1426.8 584.5 1427.0 605.7 1427.2 597.4 1427.4 581.0 1427.6 608.7 1427.8 610.0 1428.0 580.5 1428.2 596.2 1428.4 599.4 1428.6 592.1 1428.8 606.4 1429.0 617.7 1429.2 608.3 1429.4 600.4 1429.6 600.1 1429.8 603.7 1430.0 615.1 1430.2 589.6 1430.4 596.9 1430.6 590.1 1430.8 586.1 1431.0 598.7 1431.2 605.6 1431.4 597.9 1431.6 601.4 1431.8 602.5 1432.0 597.7 1432.2 604.5 1432.4 588.5 1432.6 605.1 1432.8 586.8 1433.0 595.0 1433.2 573.4 1433.4 604.5 1433.6 590.0 1433.8 586.0 1434.0 580.5 1434.2 590.3 1434.4 599.3 1434.6 597.6 1434.8 585.6 1435.0 581.3 1435.2 580.5 1435.4 586.5 1435.6 573.7 1435.8 586.8 1436.0 600.0 1436.2 589.3 1436.4 589.5 1436.6 587.3 1436.8 597.3 1437.0 599.0 1437.2 611.9 1437.4 588.3 1437.6 580.3 1437.8 590.4 1438.0 579.4 1438.2 594.2 1438.4 590.6 1438.6 586.3 1438.8 615.7 1439.0 604.5 1439.2 604.1 1439.4 593.1 1439.6 597.4 1439.8 601.5 1440.0 602.0 1440.2 593.0 1440.4 587.5 1440.6 599.3 1440.8 588.7 1441.0 591.3 1441.2 592.8 1441.4 607.1 1441.6 590.8 1441.8 594.9 1442.0 591.5 1442.2 589.1 1442.4 606.4 1442.6 588.9 1442.8 596.0 1443.0 592.9 1443.2 571.3 1443.4 576.7 1443.6 571.1 1443.8 592.8 1444.0 593.5 1444.2 586.6 1444.4 583.1 1444.6 586.3 1444.8 586.7 1445.0 590.5 1445.2 590.8 1445.4 582.5 1445.6 602.0 1445.8 599.8 1446.0 587.3 1446.2 612.0 1446.4 612.6 1446.6 605.7 1446.8 603.7 1447.0 585.3 1447.2 590.6 1447.4 577.2 1447.6 590.2 1447.8 602.1 1448.0 590.6 1448.2 582.6 1448.4 607.5 1448.6 615.5 1448.8 605.0 1449.0 578.5 1449.2 601.3 1449.4 588.4 1449.6 609.5 1449.8 601.1 1450.0 621.8 1450.2 592.1 1450.4 589.5 1450.6 586.9 1450.8 595.7 1451.0 589.7 1451.2 591.9 1451.4 601.0 1451.6 595.1 1451.8 596.4 1452.0 597.3 1452.2 607.6 1452.4 609.2 1452.6 586.9 1452.8 576.0 1453.0 604.6 1453.2 602.9 1453.4 616.4 1453.6 601.6 1453.8 610.2 1454.0 602.6 1454.2 587.5 1454.4 607.8 1454.6 586.0 1454.8 593.4 1455.0 603.3 1455.2 597.8 1455.4 608.3 1455.6 598.7 1455.8 619.1 1456.0 593.4 1456.2 609.7 1456.4 599.6 1456.6 617.0 1456.8 598.1 1457.0 612.0 1457.2 586.1 1457.4 596.3 1457.6 617.9 1457.8 609.6 1458.0 609.2 1458.2 618.6 1458.4 629.7 1458.6 596.3 1458.8 609.9 1459.0 606.3 1459.2 623.3 1459.4 605.2 1459.6 594.9 1459.8 601.5 1460.0 620.4 1460.2 615.5 1460.4 622.6 1460.6 598.8 1460.8 604.1 1461.0 607.7 1461.2 625.8 1461.4 615.1 1461.6 610.0 1461.8 597.7 1462.0 613.1 1462.2 606.8 1462.4 617.2 1462.6 628.9 1462.8 610.0 1463.0 593.8 1463.2 627.5 1463.4 611.2 1463.6 612.5 1463.8 607.5 1464.0 609.2 1464.2 607.9 1464.4 608.6 1464.6 574.8 1464.8 601.0 1465.0 616.1 1465.2 607.0 1465.4 608.1 1465.6 609.1 1465.8 593.1 1466.0 594.9 1466.2 598.5 1466.4 605.2 1466.6 601.3 1466.8 618.8 1467.0 600.5 1467.2 600.6 1467.4 584.7 1467.6 619.7 1467.8 602.0 1468.0 599.4 1468.2 601.6 1468.4 600.8 1468.6 596.3 1468.8 607.6 1469.0 592.6 1469.2 595.1 1469.4 590.0 1469.6 602.2 1469.8 599.5 1470.0 607.1 1470.2 600.8 1470.4 601.5 1470.6 598.0 1470.8 607.4 1471.0 603.6 1471.2 601.1 1471.4 581.6 1471.6 590.1 1471.8 591.0 1472.0 584.9 1472.2 619.0 1472.4 609.5 1472.6 608.1 1472.8 603.9 1473.0 618.9 1473.2 587.6 1473.4 618.8 1473.6 588.0 1473.8 603.3 1474.0 603.0 1474.2 607.7 1474.4 608.3 1474.6 608.7 1474.8 599.3 1475.0 598.8 1475.2 597.4 1475.4 606.6 1475.6 601.3 1475.8 571.9 1476.0 614.1 1476.2 598.6 1476.4 602.7 1476.6 600.8 1476.8 598.8 1477.0 611.3 1477.2 603.5 1477.4 592.8 1477.6 604.2 1477.8 596.8 1478.0 588.6 1478.2 617.9 1478.4 618.8 1478.6 596.6 1478.8 619.4 1479.0 625.7 1479.2 598.7 1479.4 611.4 1479.6 604.1 1479.8 617.7 1480.0 587.7 1480.2 612.2 1480.4 603.2 1480.6 612.7 1480.8 615.5 1481.0 590.7 1481.2 606.8 1481.4 592.7 1481.6 615.0 1481.8 621.2 1482.0 621.5 1482.2 599.3 1482.4 617.5 1482.6 604.7 1482.8 616.7 1483.0 609.3 1483.2 609.5 1483.4 613.2 1483.6 616.1 1483.8 610.7 1484.0 599.7 1484.2 619.6 1484.4 633.9 1484.6 601.0 1484.8 597.0 1485.0 617.0 1485.2 609.4 1485.4 606.9 1485.6 634.7 1485.8 610.1 1486.0 607.0 1486.2 611.4 1486.4 614.9 1486.6 629.4 1486.8 615.5 1487.0 592.6 1487.2 607.0 1487.4 630.2 1487.6 599.3 1487.8 608.9 1488.0 620.2 1488.2 611.1 1488.4 606.6 1488.6 596.1 1488.8 608.4 1489.0 612.3 1489.2 608.5 1489.4 615.3 1489.6 607.9 1489.8 617.8 1490.0 606.5 1490.2 613.0 1490.4 601.1 1490.6 616.0 1490.8 612.9 1491.0 611.5 1491.2 595.3 1491.4 605.5 1491.6 583.1 1491.8 599.3 1492.0 603.3 1492.2 594.3 1492.4 589.4 1492.6 609.0 1492.8 614.2 1493.0 600.8 1493.2 582.1 1493.4 584.8 1493.6 597.9 1493.8 609.3 1494.0 606.0 1494.2 599.8 1494.4 594.0 1494.6 590.2 1494.8 596.7 1495.0 598.9 1495.2 602.7 1495.4 598.8 1495.6 617.6 1495.8 599.5 1496.0 605.3 1496.2 608.7 1496.4 609.9 1496.6 590.8 1496.8 580.7 1497.0 586.8 1497.2 602.5 1497.4 603.7 1497.6 603.4 1497.8 606.5 1498.0 611.3 1498.2 594.4 1498.4 619.7 1498.6 617.7 1498.8 605.2 1499.0 615.1 1499.2 602.6 1499.4 580.8 1499.6 601.2 1499.8 592.0 1500.0 600.1 1500.2 616.4 1500.4 621.0 1500.6 595.5 1500.8 604.4 1501.0 599.1 1501.2 613.5 1501.4 609.7 1501.6 583.5 1501.8 594.7 1502.0 583.2 1502.2 595.8 1502.4 604.8 1502.6 626.1 1502.8 593.1 1503.0 596.7 1503.2 604.5 1503.4 600.0 1503.6 602.2 1503.8 602.3 1504.0 598.8 1504.2 632.5 1504.4 591.1 1504.6 602.0 1504.8 593.4 1505.0 602.0 1505.2 607.4 1505.4 605.3 1505.6 603.9 1505.8 605.5 1506.0 603.9 1506.2 594.9 1506.4 610.2 1506.6 606.9 1506.8 603.9 1507.0 600.3 1507.2 600.2 1507.4 577.6 1507.6 590.4 1507.8 613.0 1508.0 605.2 1508.2 611.1 1508.4 599.5 1508.6 590.3 1508.8 608.1 1509.0 605.3 1509.2 606.6 1509.4 592.4 1509.6 582.7 1509.8 591.6 1510.0 587.7 1510.2 606.1 1510.4 602.3 1510.6 618.1 1510.8 614.8 1511.0 608.2 1511.2 592.8 1511.4 605.6 1511.6 605.2 1511.8 584.6 1512.0 581.5 1512.2 591.9 1512.4 609.7 1512.6 597.4 1512.8 586.2 1513.0 579.9 1513.2 607.8 1513.4 594.1 1513.6 622.8 1513.8 598.7 1514.0 612.9 1514.2 614.1 1514.4 597.9 1514.6 604.0 1514.8 605.2 1515.0 601.6 1515.2 598.2 1515.4 606.5 1515.6 586.1 1515.8 607.3 1516.0 598.3 1516.2 603.6 1516.4 609.7 1516.6 605.8 1516.8 617.6 1517.0 605.8 1517.2 602.0 1517.4 617.7 1517.6 613.7 1517.8 619.2 1518.0 605.9 1518.2 600.3 1518.4 606.0 1518.6 598.2 1518.8 617.2 1519.0 618.2 1519.2 585.0 1519.4 596.4 1519.6 604.3 1519.8 600.3 1520.0 590.3 1520.2 610.4 1520.4 593.1 1520.6 614.5 1520.8 608.6 1521.0 614.3 1521.2 593.6 1521.4 621.5 1521.6 597.7 1521.8 622.4 1522.0 616.0 1522.2 610.4 1522.4 597.7 1522.6 617.9 1522.8 611.6 1523.0 593.7 1523.2 586.5 1523.4 600.0 1523.6 589.5 1523.8 615.0 1524.0 608.4 1524.2 610.0 1524.4 599.3 1524.6 616.3 1524.8 602.0 1525.0 599.4 1525.2 593.8 1525.4 615.3 1525.6 604.8 1525.8 594.1 1526.0 605.2 1526.2 607.7 1526.4 617.7 1526.6 592.5 1526.8 608.4 1527.0 618.8 1527.2 622.4 1527.4 619.1 1527.6 633.6 1527.8 606.1 1528.0 607.7 1528.2 622.7 1528.4 628.7 1528.6 617.9 1528.8 612.1 1529.0 602.1 1529.2 622.1 1529.4 617.2 1529.6 606.7 1529.8 610.4 1530.0 601.8 1530.2 620.8 1530.4 610.5 1530.6 626.0 1530.8 626.6 1531.0 629.7 1531.2 617.9 1531.4 620.8 1531.6 618.3 1531.8 627.1 1532.0 592.2 1532.2 626.1 1532.4 611.2 1532.6 602.5 1532.8 606.5 1533.0 623.5 1533.2 599.3 1533.4 598.5 1533.6 613.9 1533.8 598.8 1534.0 589.5 1534.2 585.5 1534.4 602.1 1534.6 613.4 1534.8 620.2 1535.0 597.1 1535.2 596.6 1535.4 572.0 1535.6 590.4 1535.8 608.2 1536.0 592.1 1536.2 613.1 1536.4 606.9 1536.6 615.8 1536.8 600.2 1537.0 606.9 1537.2 585.8 1537.4 595.8 1537.6 593.8 1537.8 613.8 1538.0 600.0 1538.2 616.5 1538.4 595.4 1538.6 586.6 1538.8 600.5 1539.0 612.3 1539.2 601.3 1539.4 631.3 1539.6 599.3 1539.8 599.2 1540.0 600.2 1540.2 601.2 1540.4 612.0 1540.6 601.6 1540.8 598.7 1541.0 594.0 1541.2 642.6 1541.4 617.5 1541.6 602.2 1541.8 599.8 1542.0 593.7 1542.2 609.3 1542.4 597.7 1542.6 623.8 1542.8 593.4 1543.0 609.2 1543.2 614.6 1543.4 597.2 1543.6 623.3 1543.8 613.5 1544.0 614.8 1544.2 597.0 1544.4 618.6 1544.6 610.7 1544.8 604.4 1545.0 619.4 1545.2 605.8 1545.4 582.0 1545.6 604.7 1545.8 621.2 1546.0 597.9 1546.2 608.5 1546.4 596.6 1546.6 601.7 1546.8 580.4 1547.0 588.4 1547.2 598.6 1547.4 593.7 1547.6 585.8 1547.8 607.2 1548.0 604.0 1548.2 591.5 1548.4 585.1 1548.6 609.9 1548.8 593.9 1549.0 606.5 1549.2 608.3 1549.4 596.7 1549.6 598.1 1549.8 606.8 1550.0 597.9 1550.2 584.4 1550.4 604.7 1550.6 602.0 1550.8 594.3 1551.0 607.3 1551.2 595.8 1551.4 593.5 1551.6 607.9 1551.8 586.1 1552.0 578.8 1552.2 596.8 1552.4 584.0 1552.6 605.7 1552.8 593.7 1553.0 582.6 1553.2 593.1 1553.4 578.4 1553.6 611.4 1553.8 598.1 1554.0 605.3 1554.2 584.5 1554.4 601.0 1554.6 591.2 1554.8 587.4 1555.0 596.3 1555.2 589.4 1555.4 584.2 1555.6 613.4 1555.8 580.9 1556.0 594.8 1556.2 579.6 1556.4 608.6 1556.6 598.1 1556.8 606.5 1557.0 599.3 1557.2 591.9 1557.4 603.7 1557.6 579.8 1557.8 588.9 1558.0 599.0 1558.2 607.8 1558.4 609.6 1558.6 598.6 1558.8 599.1 1559.0 603.1 1559.2 577.6 1559.4 596.5 1559.6 605.1 1559.8 597.0 1560.0 599.9 1560.2 611.3 1560.4 603.6 1560.6 595.7 1560.8 607.3 1561.0 601.9 1561.2 609.3 1561.4 594.3 1561.6 584.3 1561.8 614.8 1562.0 617.9 1562.2 618.4 1562.4 618.0 1562.6 608.5 1562.8 606.8 1563.0 603.9 1563.2 616.0 1563.4 604.8 1563.6 597.7 1563.8 614.7 1564.0 613.4 1564.2 614.1 1564.4 606.7 1564.6 601.2 1564.8 608.1 1565.0 610.3 1565.2 598.9 1565.4 602.6 1565.6 597.4 1565.8 617.5 1566.0 592.1 1566.2 594.0 1566.4 593.2 1566.6 609.1 1566.8 600.9 1567.0 627.1 1567.2 612.1 1567.4 590.8 1567.6 609.7 1567.8 611.6 1568.0 597.7 1568.2 606.7 1568.4 608.3 1568.6 598.7 1568.8 628.7 1569.0 613.0 1569.2 601.2 1569.4 607.2 1569.6 596.4 1569.8 620.5 1570.0 597.7 1570.2 617.6 1570.4 627.8 1570.6 624.3 1570.8 601.1 1571.0 627.4 1571.2 606.1 1571.4 614.3 1571.6 602.0 1571.8 619.7 1572.0 607.1 1572.2 599.0 1572.4 605.0 1572.6 612.2 1572.8 610.3 1573.0 606.3 1573.2 606.3 1573.4 617.8 1573.6 608.1 1573.8 607.4 1574.0 627.1 1574.2 628.2 1574.4 603.7 1574.6 604.1 1574.8 622.6 1575.0 602.4 1575.2 592.3 1575.4 618.1 1575.6 618.8 1575.8 622.9 1576.0 599.3 1576.2 612.0 1576.4 604.7 1576.6 611.8 1576.8 595.5 1577.0 605.9 1577.2 621.1 1577.4 611.8 1577.6 590.9 1577.8 619.8 1578.0 614.8 1578.2 609.9 1578.4 612.3 1578.6 610.4 1578.8 626.7 1579.0 612.6 1579.2 598.1 1579.4 607.4 1579.6 624.2 1579.8 620.9 1580.0 617.5 1580.2 603.7 1580.4 615.8 1580.6 622.1 1580.8 613.4 1581.0 618.0 1581.2 620.3 1581.4 622.4 1581.6 614.7 1581.8 615.1 1582.0 602.5 1582.2 607.9 1582.4 618.4 1582.6 628.1 1582.8 611.3 1583.0 626.2 1583.2 609.0 1583.4 596.0 1583.6 613.1 1583.8 613.7 1584.0 602.2 1584.2 595.9 1584.4 608.1 1584.6 601.2 1584.8 611.5 1585.0 591.7 1585.2 613.3 1585.4 601.1 1585.6 610.7 1585.8 593.0 1586.0 617.0 1586.2 610.5 1586.4 628.5 1586.6 592.8 1586.8 597.1 1587.0 615.4 1587.2 617.8 1587.4 595.4 1587.6 613.5 1587.8 617.2 1588.0 624.1 1588.2 608.9 1588.4 597.2 1588.6 591.6 1588.8 626.3 1589.0 608.7 1589.2 611.9 1589.4 602.5 1589.6 603.2 1589.8 602.2 1590.0 593.0 1590.2 601.5 1590.4 593.4 1590.6 600.5 1590.8 611.0 1591.0 603.3 1591.2 594.3 1591.4 614.5 1591.6 612.8 1591.8 604.0 1592.0 583.7 1592.2 614.6 1592.4 612.1 1592.6 598.3 1592.8 626.2 1593.0 592.9 1593.2 601.8 1593.4 599.6 1593.6 606.9 1593.8 603.0 1594.0 617.8 1594.2 598.8 1594.4 609.2 1594.6 604.0 1594.8 606.2 1595.0 592.5 1595.2 601.9 1595.4 612.0 1595.6 607.1 1595.8 587.4 1596.0 597.4 1596.2 593.6 1596.4 594.0 1596.6 592.5 1596.8 590.0 1597.0 603.5 1597.2 610.7 1597.4 599.3 1597.6 592.9 1597.8 599.9 1598.0 585.9 1598.2 613.7 1598.4 611.6 1598.6 577.6 1598.8 600.9 1599.0 598.7 1599.2 600.2 1599.4 595.6 1599.6 583.4 1599.8 598.2 1600.0 597.1 1600.2 598.9 1600.4 599.7 1600.6 594.9 1600.8 641.8 1601.0 580.7 1601.2 597.3 1601.4 588.3 1601.6 599.8 1601.8 605.4 1602.0 600.7 1602.2 595.1 1602.4 590.0 1602.6 605.7 1602.8 596.5 1603.0 626.4 1603.2 590.5 1603.4 579.8 1603.6 577.7 1603.8 581.0 1604.0 613.5 1604.2 590.6 1604.4 602.4 1604.6 605.4 1604.8 620.5 1605.0 605.0 1605.2 614.5 1605.4 590.1 1605.6 599.6 1605.8 600.9 1606.0 617.8 1606.2 591.7 1606.4 606.5 1606.6 620.9 1606.8 592.1 1607.0 581.5 1607.2 596.6 1607.4 600.7 1607.6 621.5 1607.8 606.8 1608.0 609.4 1608.2 594.8 1608.4 602.4 1608.6 605.3 1608.8 597.7 1609.0 607.1 1609.2 578.7 1609.4 606.7 1609.6 589.3 1609.8 589.3 1610.0 617.6 1610.2 605.9 1610.4 604.6 1610.6 625.3 1610.8 614.2 1611.0 611.4 1611.2 595.9 1611.4 611.8 1611.6 585.8 1611.8 603.3 1612.0 619.0 1612.2 612.1 1612.4 609.7 1612.6 596.1 1612.8 586.7 1613.0 621.3 1613.2 605.3 1613.4 599.7 1613.6 607.0 1613.8 603.3 1614.0 599.3 1614.2 600.4 1614.4 607.5 1614.6 618.1 1614.8 594.7 1615.0 591.5 1615.2 605.8 1615.4 600.7 1615.6 601.5 1615.8 599.4 1616.0 591.7 1616.2 580.0 1616.4 573.3 1616.6 600.5 1616.8 600.9 1617.0 608.5 1617.2 601.6 1617.4 615.6 1617.6 604.9 1617.8 598.7 1618.0 613.5 1618.2 597.5 1618.4 597.1 1618.6 598.6 1618.8 611.6 1619.0 598.2 1619.2 595.9 1619.4 609.8 1619.6 613.7 1619.8 598.0 1620.0 609.6 1620.2 593.2 1620.4 611.7 1620.6 593.3 1620.8 597.0 1621.0 597.3 1621.2 593.0 1621.4 599.3 1621.6 607.7 1621.8 609.0 1622.0 617.4 1622.2 601.9 1622.4 604.1 1622.6 591.7 1622.8 598.1 1623.0 618.1 1623.2 591.8 1623.4 592.0 1623.6 586.2 1623.8 577.7 1624.0 601.6 1624.2 589.7 1624.4 616.6 1624.6 588.4 1624.8 592.5 1625.0 596.5 1625.2 584.6 1625.4 576.0 1625.6 586.5 1625.8 595.4 1626.0 586.5 1626.2 618.0 1626.4 575.8 1626.6 597.8 1626.8 615.6 1627.0 602.3 1627.2 606.7 1627.4 594.0 1627.6 592.6 1627.8 605.1 1628.0 593.8 1628.2 605.5 1628.4 581.3 1628.6 600.6 1628.8 599.5 1629.0 582.2 1629.2 596.9 1629.4 603.7 1629.6 602.3 1629.8 600.0 1630.0 605.1 1630.2 596.7 1630.4 590.9 1630.6 604.3 1630.8 613.6 1631.0 591.2 1631.2 609.0 1631.4 594.4 1631.6 575.6 1631.8 589.6 1632.0 587.0 1632.2 602.6 1632.4 596.0 1632.6 589.2 1632.8 595.7 1633.0 609.7 1633.2 593.8 1633.4 588.3 1633.6 597.6 1633.8 584.5 1634.0 597.6 1634.2 624.3 1634.4 597.4 1634.6 591.5 1634.8 597.2 1635.0 577.3 1635.2 610.9 1635.4 617.9 1635.6 598.8 1635.8 582.6 1636.0 591.9 1636.2 591.0 1636.4 588.3 1636.6 600.2 1636.8 599.6 1637.0 597.7 1637.2 610.0 1637.4 602.7 1637.6 611.5 1637.8 607.8 1638.0 595.1 1638.2 598.7 1638.4 597.9 1638.6 606.1 1638.8 602.1 1639.0 597.3 1639.2 606.0 1639.4 610.0 1639.6 607.4 1639.8 619.1 1640.0 597.4 1640.2 609.1 1640.4 624.4 1640.6 606.2 1640.8 586.6 1641.0 595.6 1641.2 605.6 1641.4 616.8 1641.6 610.7 1641.8 619.0 1642.0 616.7 1642.2 611.0 1642.4 616.2 1642.6 591.4 1642.8 601.7 1643.0 610.4 1643.2 631.4 1643.4 629.9 1643.6 608.7 1643.8 622.6 1644.0 607.4 1644.2 599.9 1644.4 600.4 1644.6 621.7 1644.8 599.8 1645.0 619.1 1645.2 617.8 1645.4 603.1 1645.6 615.9 1645.8 600.2 1646.0 611.8 1646.2 605.1 1646.4 615.5 1646.6 614.7 1646.8 614.6 1647.0 617.2 1647.2 605.9 1647.4 602.3 1647.6 600.6 1647.8 620.1 1648.0 585.0 1648.2 611.5 1648.4 617.8 1648.6 612.8 1648.8 603.5 1649.0 594.1 1649.2 627.7 1649.4 608.6 1649.6 594.1 1649.8 608.9 1650.0 614.5 1650.2 597.9 1650.4 615.2 1650.6 613.8 1650.8 616.5 1651.0 613.6 1651.2 607.1 1651.4 593.4 1651.6 610.7 1651.8 608.0 1652.0 632.3 1652.2 609.5 1652.4 616.6 1652.6 611.9 1652.8 591.4 1653.0 619.8 1653.2 607.3 1653.4 593.5 1653.6 599.0 1653.8 617.4 1654.0 608.2 1654.2 607.2 1654.4 604.4 1654.6 605.8 1654.8 619.4 1655.0 609.6 1655.2 613.0 1655.4 613.5 1655.6 589.2 1655.8 609.9 1656.0 614.4 1656.2 610.9 1656.4 592.1 1656.6 598.7 1656.8 613.1 1657.0 611.9 1657.2 610.4 1657.4 593.0 1657.6 610.1 1657.8 618.2 1658.0 605.8 1658.2 613.3 1658.4 610.1 1658.6 610.6 1658.8 596.2 1659.0 592.6 1659.2 594.3 1659.4 610.3 1659.6 609.7 1659.8 589.8 1660.0 580.2 1660.2 600.6 1660.4 618.9 1660.6 601.5 1660.8 607.4 1661.0 600.8 1661.2 601.8 1661.4 595.6 1661.6 600.1 1661.8 601.6 1662.0 574.6 1662.2 609.2 1662.4 587.5 1662.6 592.7 1662.8 588.6 1663.0 601.0 1663.2 601.1 1663.4 568.1 1663.6 593.5 1663.8 586.4 1664.0 572.0 1664.2 585.0 1664.4 593.0 1664.6 593.9 1664.8 581.1 1665.0 587.6 1665.2 595.9 1665.4 601.3 1665.6 588.2 1665.8 579.8 1666.0 574.1 1666.2 584.3 1666.4 580.8 1666.6 575.0 1666.8 574.8 1667.0 577.2 1667.2 583.6 1667.4 590.6 1667.6 565.5 1667.8 597.9 1668.0 597.8 1668.2 581.7 1668.4 587.8 1668.6 603.1 1668.8 579.9 1669.0 583.3 1669.2 584.0 1669.4 582.4 1669.6 601.0 1669.8 575.1 1670.0 585.2 1670.2 596.7 1670.4 595.6 1670.6 610.3 1670.8 596.7 1671.0 590.7 1671.2 580.5 1671.4 593.3 1671.6 602.4 1671.8 604.1 1672.0 606.4 1672.2 596.8 1672.4 605.7 1672.6 608.9 1672.8 596.1 1673.0 608.2 1673.2 607.5 1673.4 602.5 1673.6 619.5 1673.8 622.5 1674.0 598.5 1674.2 613.8 1674.4 622.7 1674.6 591.3 1674.8 607.5 1675.0 615.8 1675.2 612.8 1675.4 629.3 1675.6 629.6 1675.8 599.6 1676.0 620.5 1676.2 600.1 1676.4 585.7 1676.6 602.3 1676.8 616.6 1677.0 594.7 1677.2 613.0 1677.4 603.0 1677.6 630.7 1677.8 607.5 1678.0 612.0 1678.2 603.0 1678.4 605.3 1678.6 618.3 1678.8 612.0 1679.0 601.5 1679.2 603.9 1679.4 606.0 1679.6 627.1 1679.8 605.8 1680.0 611.0 1680.2 627.5 1680.4 622.5 1680.6 615.3 1680.8 591.6 1681.0 597.9 1681.2 617.4 1681.4 610.1 1681.6 587.6 1681.8 601.5 1682.0 600.4 1682.2 601.0 1682.4 609.1 1682.6 609.1 1682.8 616.2 1683.0 585.4 1683.2 607.8 1683.4 613.4 1683.6 593.4 1683.8 612.7 1684.0 593.4 1684.2 597.1 1684.4 619.3 1684.6 608.7 1684.8 615.3 1685.0 614.7 1685.2 595.9 1685.4 621.6 1685.6 605.9 1685.8 610.8 1686.0 612.7 1686.2 609.4 1686.4 601.0 1686.6 604.5 1686.8 606.4 1687.0 611.0 1687.2 584.4 1687.4 615.3 1687.6 595.0 1687.8 621.0 1688.0 607.6 1688.2 623.1 1688.4 601.0 1688.6 621.8 1688.8 605.5 1689.0 624.5 1689.2 604.8 1689.4 581.8 1689.6 587.1 1689.8 590.0 1690.0 601.4 1690.2 595.4 1690.4 606.5 1690.6 601.7 1690.8 610.9 1691.0 590.2 1691.2 600.9 1691.4 589.5 1691.6 583.8 1691.8 575.1 1692.0 593.0 1692.2 559.4 1692.4 580.9 1692.6 577.0 1692.8 581.9 1693.0 610.3 1693.2 592.7 1693.4 581.7 1693.6 589.6 1693.8 591.3 1694.0 573.0 1694.2 601.6 1694.4 567.5 1694.6 598.0 1694.8 582.0 1695.0 582.2 1695.2 609.7 1695.4 584.4 1695.6 570.0 1695.8 551.0 1696.0 580.8 1696.2 599.4 1696.4 593.8 1696.6 578.8 1696.8 610.4 1697.0 588.8 1697.2 588.8 1697.4 602.6 1697.6 599.5 1697.8 584.1 1698.0 583.0 1698.2 575.9 1698.4 586.2 1698.6 599.7 1698.8 596.2 1699.0 575.5 1699.2 586.8 1699.4 592.9 1699.6 612.5 1699.8 586.7 1700.0 600.0 1700.2 591.4 1700.4 600.8 1700.6 591.9 1700.8 599.9 1701.0 590.5 1701.2 592.4 1701.4 611.6 1701.6 605.2 1701.8 589.3 1702.0 606.0 1702.2 594.6 1702.4 608.8 1702.6 583.8 1702.8 596.9 1703.0 593.7 1703.2 586.7 1703.4 588.3 1703.6 614.8 1703.8 597.8 1704.0 595.1 1704.2 581.9 1704.4 611.8 1704.6 606.3 1704.8 597.5 1705.0 591.2 1705.2 604.4 1705.4 599.9 1705.6 581.2 1705.8 621.1 1706.0 607.9 1706.2 592.6 1706.4 593.1 1706.6 608.5 1706.8 612.5 1707.0 609.2 1707.2 610.4 1707.4 614.7 1707.6 616.4 1707.8 600.2 1708.0 604.8 1708.2 605.9 1708.4 600.4 1708.6 609.3 1708.8 616.9 1709.0 583.8 1709.2 600.4 1709.4 616.2 1709.6 617.0 1709.8 599.0 1710.0 616.5 1710.2 607.1 1710.4 607.4 1710.6 620.1 1710.8 615.0 1711.0 615.6 1711.2 628.5 1711.4 613.6 1711.6 611.7 1711.8 618.2 1712.0 631.5 1712.2 609.8 1712.4 612.6 1712.6 633.6 1712.8 594.6 1713.0 595.1 1713.2 627.1 1713.4 627.3 1713.6 631.5 1713.8 633.5 1714.0 629.0 1714.2 605.5 1714.4 628.2 1714.6 608.5 1714.8 606.1 1715.0 614.9 1715.2 609.0 1715.4 609.4 1715.6 612.5 1715.8 612.5 1716.0 618.8 1716.2 605.5 1716.4 611.7 1716.6 615.6 1716.8 618.4 1717.0 619.8 1717.2 627.9 1717.4 619.6 1717.6 620.7 1717.8 623.8 1718.0 615.9 1718.2 618.0 1718.4 602.2 1718.6 617.1 1718.8 629.1 1719.0 610.0 1719.2 625.3 1719.4 608.7 1719.6 629.0 1719.8 628.9 1720.0 616.0 1720.2 608.1 1720.4 616.5 1720.6 606.6 1720.8 600.9 1721.0 618.0 1721.2 592.5 1721.4 616.3 1721.6 598.6 1721.8 617.7 1722.0 603.3 1722.2 628.2 1722.4 626.3 1722.6 588.3 1722.8 627.7 1723.0 608.6 1723.2 606.5 1723.4 607.8 1723.6 605.5 1723.8 610.5 1724.0 596.8 1724.2 628.1 1724.4 601.3 1724.6 614.9 1724.8 619.3 1725.0 606.9 1725.2 619.7 1725.4 604.1 1725.6 604.8 1725.8 598.2 1726.0 626.2 1726.2 623.0 1726.4 617.0 1726.6 624.3 1726.8 603.9 1727.0 614.8 1727.2 621.2 1727.4 598.4 1727.6 619.4 1727.8 610.5 1728.0 599.5 1728.2 617.8 1728.4 615.5 1728.6 615.0 1728.8 609.2 1729.0 592.2 1729.2 600.3 1729.4 609.4 1729.6 602.1 1729.8 606.3 1730.0 613.6 1730.2 622.2 1730.4 615.6 1730.6 611.9 1730.8 588.6 1731.0 615.9 1731.2 624.1 1731.4 602.6 1731.6 604.0 1731.8 599.2 1732.0 605.4 1732.2 604.0 1732.4 627.2 1732.6 627.0 1732.8 590.2 1733.0 617.7 1733.2 606.1 1733.4 588.2 1733.6 610.7 1733.8 601.2 1734.0 611.5 1734.2 612.5 1734.4 603.8 1734.6 629.6 1734.8 596.1 1735.0 604.5 1735.2 600.4 1735.4 629.1 1735.6 605.4 1735.8 611.0 1736.0 612.6 1736.2 620.3 1736.4 596.7 1736.6 590.2 1736.8 591.7 1737.0 590.6 1737.2 606.3 1737.4 621.8 1737.6 600.3 1737.8 613.1 1738.0 597.7 1738.2 611.2 1738.4 605.0 1738.6 611.7 1738.8 582.3 1739.0 598.9 1739.2 620.5 1739.4 602.3 1739.6 595.2 1739.8 601.0 1740.0 601.4 1740.2 606.9 1740.4 606.9 1740.6 600.2 1740.8 619.5 1741.0 626.0 1741.2 603.3 1741.4 617.4 1741.6 599.9 1741.8 608.0 1742.0 596.8 1742.2 586.0 1742.4 587.8 1742.6 617.3 1742.8 625.0 1743.0 614.8 1743.2 598.4 1743.4 602.6 1743.6 596.0 1743.8 608.0 1744.0 612.6 1744.2 607.7 1744.4 595.0 1744.6 610.9 1744.8 607.4 1745.0 611.8 1745.2 604.7 1745.4 609.2 1745.6 599.9 1745.8 601.2 1746.0 591.3 1746.2 610.9 1746.4 610.6 1746.6 602.3 1746.8 626.2 1747.0 635.5 1747.2 621.3 1747.4 609.2 1747.6 608.9 1747.8 614.5 1748.0 619.5 1748.2 620.9 1748.4 603.9 1748.6 609.0 1748.8 591.4 1749.0 608.4 1749.2 618.0 1749.4 616.6 1749.6 627.4 1749.8 614.5 1750.0 605.1 1750.2 602.1 1750.4 612.5 1750.6 620.3 1750.8 599.9 1751.0 601.5 1751.2 609.3 1751.4 603.4 1751.6 616.8 1751.8 601.3 1752.0 608.4 1752.2 622.9 1752.4 587.5 1752.6 617.0 1752.8 595.6 1753.0 588.6 1753.2 593.1 1753.4 603.9 1753.6 609.4 1753.8 626.7 1754.0 611.3 1754.2 609.8 1754.4 598.0 1754.6 604.9 1754.8 617.3 1755.0 592.2 1755.2 605.3 1755.4 607.3 1755.6 617.6 1755.8 598.4 1756.0 573.7 1756.2 607.1 1756.4 606.6 1756.6 619.2 1756.8 603.3 1757.0 610.2 1757.2 609.7 1757.4 608.2 1757.6 631.0 1757.8 594.1 1758.0 609.6 1758.2 604.8 1758.4 614.2 1758.6 602.4 1758.8 616.2 1759.0 608.0 1759.2 619.7 1759.4 646.7 1759.6 603.2 1759.8 599.3 1760.0 621.5 1760.2 647.4 1760.4 612.0 1760.6 592.7 1760.8 601.8 1761.0 622.6 1761.2 638.9 1761.4 609.6 1761.6 602.3 1761.8 622.0 1762.0 581.2 1762.2 599.1 1762.4 601.8 1762.6 604.9 1762.8 613.6 1763.0 599.3 1763.2 611.1 1763.4 615.8 1763.6 615.7 1763.8 621.8 1764.0 605.4 1764.2 574.1 1764.4 608.5 1764.6 609.6 1764.8 608.4 1765.0 600.0 1765.2 611.5 1765.4 598.2 1765.6 625.0 1765.8 620.4 1766.0 606.0 1766.2 604.4 1766.4 612.1 1766.6 607.5 1766.8 607.6 1767.0 605.3 1767.2 599.3 1767.4 621.9 1767.6 588.2 1767.8 611.4 1768.0 582.0 1768.2 607.4 1768.4 594.8 1768.6 588.2 1768.8 587.6 1769.0 593.1 1769.2 616.4 1769.4 596.5 1769.6 602.1 1769.8 598.5 1770.0 607.0 1770.2 607.5 1770.4 612.5 1770.6 603.5 1770.8 600.7 1771.0 606.8 1771.2 615.1 1771.4 616.4 1771.6 598.5 1771.8 598.2 1772.0 611.9 1772.2 603.2 1772.4 590.8 1772.6 609.8 1772.8 601.6 1773.0 609.1 1773.2 618.7 1773.4 601.8 1773.6 597.2 1773.8 600.3 1774.0 613.4 1774.2 606.1 1774.4 611.2 1774.6 598.9 1774.8 612.2 1775.0 600.3 1775.2 599.1 1775.4 603.9 1775.6 602.9 1775.8 598.9 1776.0 603.8 1776.2 610.0 1776.4 596.0 1776.6 583.7 1776.8 607.9 1777.0 623.2 1777.2 618.5 1777.4 592.6 1777.6 606.9 1777.8 612.6 1778.0 609.6 1778.2 616.5 1778.4 611.2 1778.6 583.0 1778.8 607.6 1779.0 592.1 1779.2 594.4 1779.4 585.7 1779.6 591.7 1779.8 597.8 1780.0 612.1 1780.2 621.5 1780.4 608.6 1780.6 613.9 1780.8 600.7 1781.0 595.0 1781.2 616.3 1781.4 608.8 1781.6 602.5 1781.8 610.0 1782.0 600.1 1782.2 624.2 1782.4 597.9 1782.6 598.2 1782.8 604.9 1783.0 605.7 1783.2 598.1 1783.4 612.9 1783.6 613.1 1783.8 607.8 1784.0 631.5 1784.2 602.4 1784.4 620.7 1784.6 601.6 1784.8 589.5 1785.0 603.6 1785.2 604.0 1785.4 608.5 1785.6 614.6 1785.8 625.8 1786.0 596.8 1786.2 588.3 1786.4 608.5 1786.6 625.6 1786.8 614.0 1787.0 604.8 1787.2 603.9 1787.4 603.2 1787.6 619.5 1787.8 605.0 1788.0 608.6 1788.2 594.9 1788.4 614.0 1788.6 605.0 1788.8 603.4 1789.0 603.9 1789.2 582.1 1789.4 625.3 1789.6 610.4 1789.8 611.8 1790.0 596.3 1790.2 587.3 1790.4 583.3 1790.6 598.5 1790.8 603.5 1791.0 604.2 1791.2 586.6 1791.4 606.6 1791.6 595.2 1791.8 607.2 1792.0 595.8 1792.2 598.8 1792.4 590.1 1792.6 592.5 1792.8 597.6 1793.0 602.2 1793.2 602.9 1793.4 590.5 1793.6 588.2 1793.8 601.0 1794.0 605.9 1794.2 575.8 1794.4 591.8 1794.6 593.0 1794.8 602.4 1795.0 610.2 1795.2 603.3 1795.4 605.9 1795.6 618.0 1795.8 604.2 1796.0 592.6 1796.2 585.9 1796.4 601.1 1796.6 617.6 1796.8 606.4 1797.0 620.3 1797.2 599.8 1797.4 603.4 1797.6 594.1 1797.8 609.1 1798.0 603.3 1798.2 599.2 1798.4 602.2 1798.6 609.4 1798.8 615.4 1799.0 612.1 1799.2 624.4 1799.4 615.3 1799.6 600.7 1799.8 618.7 1800.0 601.1 1800.2 598.6 1800.4 612.9 1800.6 603.0 1800.8 607.5 1801.0 601.1 1801.2 604.6 1801.4 594.1 1801.6 595.5 1801.8 619.2 1802.0 603.5 1802.2 614.1 1802.4 612.6 1802.6 620.3 1802.8 619.9 1803.0 588.4 1803.2 613.6 1803.4 601.3 1803.6 612.5 1803.8 599.5 1804.0 620.1 1804.2 612.3 1804.4 601.4 1804.6 618.7 1804.8 603.0 1805.0 603.3 1805.2 617.1 1805.4 592.6 1805.6 592.7 1805.8 609.2 1806.0 604.8 1806.2 593.4 1806.4 597.5 1806.6 590.7 1806.8 600.4 1807.0 590.5 1807.2 604.7 1807.4 605.8 1807.6 598.8 1807.8 610.9 1808.0 609.3 1808.2 606.3 1808.4 598.3 1808.6 599.9 1808.8 593.4 1809.0 585.8 1809.2 606.7 1809.4 613.0 1809.6 596.4 1809.8 596.6 1810.0 606.7 1810.2 609.9 1810.4 617.3 1810.6 617.2 1810.8 605.3 1811.0 615.0 1811.2 604.4 1811.4 590.3 1811.6 625.4 1811.8 610.9 1812.0 607.0 1812.2 621.8 1812.4 614.8 1812.6 602.9 1812.8 612.3 1813.0 612.6 1813.2 606.4 1813.4 589.5 1813.6 611.1 1813.8 601.6 1814.0 596.4 1814.2 609.2 1814.4 622.4 1814.6 593.8 1814.8 610.7 1815.0 594.6 1815.2 593.9 1815.4 601.8 1815.6 615.4 1815.8 609.0 1816.0 609.2 1816.2 614.1 1816.4 609.5 1816.6 599.4 1816.8 592.4 1817.0 601.9 1817.2 606.7 1817.4 601.1 1817.6 600.0 1817.8 598.8 1818.0 591.6 1818.2 608.3 1818.4 592.1 1818.6 613.3 1818.8 612.9 1819.0 611.6 1819.2 602.4 1819.4 600.3 1819.6 608.2 1819.8 598.9 1820.0 609.4 1820.2 602.3 1820.4 607.2 1820.6 596.6 1820.8 613.3 1821.0 604.3 1821.2 608.8 1821.4 593.0 1821.6 597.6 1821.8 608.2 1822.0 585.0 1822.2 622.1 1822.4 592.2 1822.6 608.8 1822.8 598.1 1823.0 603.0 1823.2 604.7 1823.4 614.6 1823.6 597.6 1823.8 612.0 1824.0 608.3 1824.2 611.4 1824.4 595.3 1824.6 606.7 1824.8 602.5 1825.0 604.1 1825.2 614.4 1825.4 620.1 1825.6 599.3 1825.8 607.7 1826.0 608.4 1826.2 596.3 1826.4 606.7 1826.6 602.4 1826.8 619.5 1827.0 601.0 1827.2 621.9 1827.4 593.8 1827.6 615.5 1827.8 615.9 1828.0 599.2 1828.2 600.4 1828.4 613.0 1828.6 603.4 1828.8 642.2 1829.0 613.1 1829.2 612.5 1829.4 614.1 1829.6 619.7 1829.8 613.6 1830.0 620.9 1830.2 617.7 1830.4 607.9 1830.6 622.4 1830.8 629.0 1831.0 631.1 1831.2 617.0 1831.4 622.1 1831.6 606.8 1831.8 609.3 1832.0 606.5 1832.2 609.5 1832.4 622.0 1832.6 600.3 1832.8 609.3 1833.0 594.6 1833.2 609.3 1833.4 598.6 1833.6 599.8 1833.8 610.3 1834.0 619.8 1834.2 625.9 1834.4 615.0 1834.6 616.4 1834.8 613.0 1835.0 608.8 1835.2 597.4 1835.4 598.0 1835.6 604.8 1835.8 592.3 1836.0 607.8 1836.2 612.0 1836.4 619.6 1836.6 598.3 1836.8 601.4 1837.0 624.6 1837.2 621.4 1837.4 620.2 1837.6 610.9 1837.8 601.7 1838.0 631.9 1838.2 626.5 1838.4 611.9 1838.6 621.4 1838.8 631.3 1839.0 635.6 1839.2 625.2 1839.4 621.9 1839.6 613.4 1839.8 607.2 1840.0 613.9 1840.2 608.5 1840.4 619.7 1840.6 615.6 1840.8 610.9 1841.0 607.4 1841.2 614.5 1841.4 611.3 1841.6 616.5 1841.8 605.0 1842.0 624.5 1842.2 611.6 1842.4 630.8 1842.6 605.8 1842.8 627.6 1843.0 632.9 1843.2 613.2 1843.4 629.3 1843.6 623.0 1843.8 604.9 1844.0 609.3 1844.2 632.1 1844.4 618.8 1844.6 620.6 1844.8 616.7 1845.0 628.4 1845.2 612.2 1845.4 607.3 1845.6 609.6 1845.8 614.4 1846.0 606.2 1846.2 614.8 1846.4 613.2 1846.6 612.6 1846.8 603.5 1847.0 611.8 1847.2 624.0 1847.4 616.3 1847.6 623.0 1847.8 606.3 1848.0 615.3 1848.2 609.4 1848.4 612.5 1848.6 630.9 1848.8 606.1 1849.0 622.8 1849.2 647.2 1849.4 627.8 1849.6 608.5 1849.8 591.9 1850.0 616.6 1850.2 610.7 1850.4 615.5 1850.6 610.1 1850.8 625.6 1851.0 614.6 1851.2 607.5 1851.4 630.1 1851.6 606.0 1851.8 592.0 1852.0 612.2 1852.2 619.5 1852.4 616.6 1852.6 607.6 1852.8 612.6 1853.0 606.7 1853.2 607.9 1853.4 618.8 1853.6 607.3 1853.8 619.0 1854.0 612.6 1854.2 615.8 1854.4 613.6 1854.6 626.3 1854.8 618.5 1855.0 607.6 1855.2 619.4 1855.4 637.4 1855.6 620.9 1855.8 606.2 1856.0 612.5 1856.2 588.5 1856.4 637.6 1856.6 631.7 1856.8 626.1 1857.0 625.4 1857.2 617.2 1857.4 626.5 1857.6 618.7 1857.8 621.6 1858.0 602.1 1858.2 617.7 1858.4 614.8 1858.6 611.6 1858.8 618.3 1859.0 602.3 1859.2 613.4 1859.4 639.5 1859.6 667.3 1859.8 695.3 1860.0 723.5 1860.2 759.4 1860.4 795.5 1860.6 831.6 1860.8 839.6 1861.0 847.3 1861.2 855.0 1861.4 862.5 1861.6 870.0 1861.8 877.3 1862.0 876.7 1862.2 868.2 1862.4 859.7 1862.6 851.1 1862.8 842.2 1863.0 833.3 1863.2 824.4 1863.4 821.5 1863.6 824.8 1863.8 828.2 1864.0 831.7 1864.2 835.1 1864.4 838.4 1864.6 841.7 1864.8 842.0 1865.0 839.7 1865.2 837.9 1865.4 836.4 1865.6 834.9 1865.8 833.2 1866.0 831.1 1866.2 828.4 1866.4 825.3 1866.6 822.1 1866.8 818.8 1867.0 815.7 1867.2 812.5 1867.4 809.1 1867.6 806.0 1867.8 803.3 1868.0 800.9 1868.2 798.9 1868.4 797.1 1868.6 795.4 1868.8 793.7 1869.0 791.9 1869.2 790.4 1869.4 789.1 1869.6 788.0 1869.8 786.9 1870.0 785.8 1870.2 784.3 1870.4 783.2 1870.6 782.7 1870.8 782.2 1871.0 781.6 1871.2 780.9 1871.4 780.0 1871.6 778.9 1871.8 777.9 1872.0 777.1 1872.2 776.8 1872.4 776.9 1872.6 777.3 1872.8 777.6 1873.0 777.5 1873.2 772.8 1873.4 767.4 1873.6 761.6 1873.8 755.7 1874.0 749.8 1874.2 744.2 1874.4 739.0 1874.6 731.1 1874.8 723.5 1875.0 716.2 1875.2 709.1 1875.4 702.0 1875.6 694.9 1875.8 687.6 1876.0 678.9 1876.2 669.8 1876.4 660.5 1876.6 651.0 1876.8 648.3 1877.0 652.5 1877.2 656.8 1877.4 661.0 1877.6 665.3 1877.8 669.4 1878.0 673.6 1878.2 677.8 1878.4 682.1 1878.6 686.5 1878.8 687.2 1879.0 687.9 1879.2 688.4 1879.4 688.9 1879.6 689.7 1879.8 690.6 1880.0 691.6 1880.2 692.7 1880.4 693.7 1880.6 694.8 1880.8 696.0 1881.0 697.3 1881.2 698.7 1881.4 700.3 1881.6 701.6 1881.8 702.8 1882.0 703.8 1882.2 704.5 1882.4 704.6 1882.6 704.2 1882.8 703.7 1883.0 703.4 1883.2 703.5 1883.4 704.1 1883.6 704.8 1883.8 705.4 1884.0 706.0 1884.2 706.6 1884.4 707.6 1884.6 709.0 1884.8 710.5 1885.0 711.9 1885.2 712.7 1885.4 712.9 1885.6 712.5 1885.8 711.8 1886.0 711.1 1886.2 710.9 1886.4 711.2 1886.6 711.9 1886.8 712.5 1887.0 713.0 1887.2 713.4 1887.4 713.5 1887.6 713.4 1887.8 713.3 1888.0 713.4 1888.2 713.8 1888.4 714.7 1888.6 715.9 1888.8 717.2 1889.0 718.5 1889.2 719.6 1889.4 720.5 1889.6 721.3 1889.8 721.8 1890.0 722.0 1890.2 721.7 1890.4 721.0 1890.6 720.4 1890.8 720.3 1891.0 720.8 1891.2 721.2 1891.4 721.3 1891.6 721.4 1891.8 721.1 1892.0 720.6 1892.2 719.8 1892.4 719.0 1892.6 718.2 1892.8 717.7 1893.0 717.4 1893.2 717.1 1893.4 716.8 1893.6 716.2 1893.8 715.4 1894.0 714.4 1894.2 713.3 1894.4 712.1 1894.6 707.9 1894.8 703.8 1895.0 699.6 1895.2 695.5 1895.4 691.4 1895.6 687.4 1895.8 683.4 1896.0 679.5 1896.2 675.4 1896.4 671.0 1896.6 666.6 1896.8 662.1 1897.0 657.3 1897.2 652.3 1897.4 647.2 1897.6 642.2 1897.8 637.2 1898.0 632.2 1898.2 628.0 1898.4 624.4 1898.6 620.4 1898.8 616.2 1899.0 611.8 1899.2 607.7 1899.4 604.2 1899.6 601.4 1899.8 599.1 1900.0 597.3 1900.2 595.7 1900.4 594.3 1900.6 592.6 1900.8 590.3 1901.0 595.0 1901.2 590.0 1901.4 598.4 1901.6 609.0 1901.8 613.0 1902.0 579.1 1902.2 610.9 1902.4 599.2 1902.6 599.7 1902.8 615.1 1903.0 593.2 1903.2 591.0 1903.4 581.3 1903.6 586.4 1903.8 607.6 1904.0 591.6 1904.2 593.2 1904.4 604.0 1904.6 593.0 1904.8 588.8 1905.0 595.1 1905.2 604.2 1905.4 590.5 1905.6 597.2 1905.8 599.0 1906.0 586.4 1906.2 598.9 1906.4 585.1 1906.6 583.6 1906.8 597.6 1907.0 602.2 1907.2 594.9 1907.4 612.6 1907.6 602.0 1907.8 606.4 1908.0 596.4 1908.2 595.7 1908.4 610.7 1908.6 590.2 1908.8 609.6 1909.0 592.6 1909.2 605.3 1909.4 589.7 1909.6 605.3 1909.8 601.3 1910.0 579.0 1910.2 592.1 1910.4 602.4 1910.6 606.1 1910.8 600.8 1911.0 594.4 1911.2 597.0 1911.4 589.0 1911.6 591.6 1911.8 600.7 1912.0 599.0 1912.2 603.8 1912.4 601.4 1912.6 605.0 1912.8 599.1 1913.0 604.8 1913.2 605.5 1913.4 591.4 1913.6 603.2 1913.8 596.3 1914.0 608.0 1914.2 610.4 1914.4 596.5 1914.6 606.0 1914.8 608.3 1915.0 604.4 1915.2 607.9 1915.4 614.5 1915.6 611.9 1915.8 603.1 1916.0 608.6 1916.2 626.4 1916.4 598.5 1916.6 614.6 1916.8 597.9 1917.0 597.6 1917.2 597.8 1917.4 610.6 1917.6 605.0 1917.8 601.3 1918.0 601.1 1918.2 601.6 1918.4 595.9 1918.6 603.8 1918.8 587.7 1919.0 611.4 1919.2 609.3 1919.4 608.4 1919.6 617.1 1919.8 600.4 1920.0 607.9 1920.2 588.5 1920.4 609.9 1920.6 605.9 1920.8 593.0 1921.0 617.9 1921.2 608.3 1921.4 598.5 1921.6 614.3 1921.8 616.5 1922.0 617.1 1922.2 607.2 1922.4 605.3 1922.6 609.7 1922.8 598.3 1923.0 595.8 1923.2 627.0 1923.4 615.7 1923.6 617.1 1923.8 605.8 1924.0 612.4 1924.2 602.5 1924.4 594.9 1924.6 617.1 1924.8 593.4 1925.0 610.6 1925.2 632.8 1925.4 623.1 1925.6 616.9 1925.8 617.0 1926.0 609.0 1926.2 607.3 1926.4 631.3 1926.6 631.3 1926.8 601.9 1927.0 619.1 1927.2 609.4 1927.4 626.1 1927.6 600.1 1927.8 599.9 1928.0 602.3 1928.2 618.7 1928.4 614.9 1928.6 610.0 1928.8 608.1 1929.0 608.9 1929.2 595.1 1929.4 613.8 1929.6 600.6 1929.8 607.4 1930.0 605.8 1930.2 608.0 1930.4 579.9 1930.6 611.7 1930.8 608.2 1931.0 595.5 1931.2 609.0 1931.4 625.1 1931.6 609.4 1931.8 617.0 1932.0 602.6 1932.2 606.4 1932.4 607.5 1932.6 607.7 1932.8 620.2 1933.0 601.2 1933.2 602.3 1933.4 610.4 1933.6 601.8 1933.8 630.5 1934.0 604.9 1934.2 601.3 1934.4 616.9 1934.6 609.2 1934.8 610.6 1935.0 612.1 1935.2 609.1 1935.4 611.3 1935.6 594.7 1935.8 613.3 1936.0 619.9 1936.2 631.7 1936.4 615.0 1936.6 631.7 1936.8 608.5 1937.0 633.7 1937.2 633.4 1937.4 617.7 1937.6 610.9 1937.8 613.2 1938.0 624.3 1938.2 600.0 1938.4 624.9 1938.6 597.3 1938.8 604.6 1939.0 612.7 1939.2 625.4 1939.4 617.7 1939.6 623.6 1939.8 598.9 1940.0 598.5 1940.2 615.6 1940.4 610.8 1940.6 617.7 1940.8 610.0 1941.0 606.5 1941.2 594.5 1941.4 597.0 1941.6 617.8 1941.8 600.5 1942.0 615.7 1942.2 615.0 1942.4 610.7 1942.6 619.5 1942.8 608.1 1943.0 620.8 1943.2 611.8 1943.4 578.1 1943.6 593.2 1943.8 612.3 1944.0 630.0 1944.2 629.8 1944.4 616.7 1944.6 625.4 1944.8 623.3 1945.0 612.4 1945.2 630.0 1945.4 617.9 1945.6 610.0 1945.8 633.3 1946.0 623.4 1946.2 612.2 1946.4 618.4 1946.6 604.6 1946.8 604.3 1947.0 626.7 1947.2 619.8 1947.4 600.6 1947.6 601.5 1947.8 588.3 1948.0 600.1 1948.2 620.9 1948.4 591.8 1948.6 626.6 1948.8 600.4 1949.0 600.8 1949.2 610.8 1949.4 600.3 1949.6 605.1 1949.8 602.9 1950.0 575.3 1950.2 594.1 1950.4 610.0 1950.6 587.3 1950.8 595.2 1951.0 598.7 1951.2 613.9 1951.4 611.9 1951.6 621.0 1951.8 597.6 1952.0 612.1 1952.2 608.8 1952.4 588.8 1952.6 611.0 1952.8 606.6 1953.0 601.5 1953.2 591.3 1953.4 597.1 1953.6 611.3 1953.8 611.3 1954.0 605.1 1954.2 605.4 1954.4 602.3 1954.6 615.5 1954.8 610.5 1955.0 589.4 1955.2 610.1 1955.4 613.3 1955.6 605.0 1955.8 605.6 1956.0 604.0 1956.2 613.2 1956.4 603.6 1956.6 587.4 1956.8 609.2 1957.0 627.9 1957.2 592.2 1957.4 627.0 1957.6 597.9 1957.8 604.1 1958.0 595.5 1958.2 606.0 1958.4 607.9 1958.6 623.7 1958.8 616.8 1959.0 589.1 1959.2 604.0 1959.4 602.8 1959.6 596.8 1959.8 605.6 1960.0 626.9 1960.2 595.7 1960.4 612.7 1960.6 608.2 1960.8 597.6 1961.0 609.8 1961.2 588.6 1961.4 590.0 1961.6 584.1 1961.8 599.4 1962.0 591.7 1962.2 593.2 1962.4 594.2 1962.6 617.0 1962.8 598.7 1963.0 619.1 1963.2 606.7 1963.4 588.3 1963.6 605.3 1963.8 616.5 1964.0 586.0 1964.2 590.2 1964.4 603.0 1964.6 601.1 1964.8 625.2 1965.0 591.9 1965.2 623.0 1965.4 596.5 1965.6 599.8 1965.8 611.3 1966.0 613.4 1966.2 609.7 1966.4 621.1 1966.6 620.8 1966.8 620.8 1967.0 607.9 1967.2 638.9 1967.4 606.0 1967.6 618.5 1967.8 593.9 1968.0 602.2 1968.2 605.1 1968.4 601.9 1968.6 618.5 1968.8 568.6 1969.0 599.9 1969.2 585.9 1969.4 603.9 1969.6 583.2 1969.8 611.8 1970.0 609.4 1970.2 589.1 1970.4 586.7 1970.6 607.6 1970.8 606.1 1971.0 588.5 1971.2 601.2 1971.4 588.3 1971.6 607.1 1971.8 589.9 1972.0 597.4 1972.2 607.3 1972.4 604.2 1972.6 616.7 1972.8 610.5 1973.0 592.3 1973.2 608.7 1973.4 598.6 1973.6 649.3 1973.8 624.6 1974.0 620.2 1974.2 627.5 1974.4 617.4 1974.6 623.9 1974.8 623.2 1975.0 619.7 1975.2 624.4 1975.4 620.1 1975.6 635.1 1975.8 595.9 1976.0 599.8 1976.2 610.2 1976.4 633.8 1976.6 612.6 1976.8 608.0 1977.0 605.1 1977.2 617.1 1977.4 611.3 1977.6 619.2 1977.8 584.4 1978.0 616.1 1978.2 600.5 1978.4 611.7 1978.6 626.7 1978.8 604.9 1979.0 605.1 1979.2 614.6 1979.4 597.3 1979.6 601.5 1979.8 601.6 1980.0 607.4 1980.2 596.4 1980.4 625.1 1980.6 606.7 1980.8 607.7 1981.0 604.5 1981.2 606.2 1981.4 604.8 1981.6 614.9 1981.8 600.1 1982.0 614.1 1982.2 605.8 1982.4 606.0 1982.6 612.3 1982.8 626.8 1983.0 606.4 1983.2 602.7 1983.4 609.7 1983.6 591.4 1983.8 596.9 1984.0 598.3 1984.2 603.0 1984.4 589.6 1984.6 612.5 1984.8 602.1 1985.0 604.8 1985.2 603.9 1985.4 599.7 1985.6 597.1 1985.8 618.0 1986.0 587.0 1986.2 613.4 1986.4 600.2 1986.6 605.0 1986.8 604.3 1987.0 598.5 1987.2 601.1 1987.4 591.4 1987.6 588.7 1987.8 591.2 1988.0 593.8 1988.2 622.0 1988.4 604.9 1988.6 603.9 1988.8 597.3 1989.0 611.2 1989.2 611.2 1989.4 606.9 1989.6 598.1 1989.8 619.8 1990.0 590.8 1990.2 582.3 1990.4 590.4 1990.6 611.5 1990.8 602.7 1991.0 596.9 1991.2 582.9 1991.4 600.4 1991.6 592.3 1991.8 584.5 1992.0 611.0 1992.2 602.2 1992.4 613.5 1992.6 601.8 1992.8 606.5 1993.0 595.7 1993.2 607.7 1993.4 596.6 1993.6 606.7 1993.8 604.5 1994.0 595.2 1994.2 602.6 1994.4 605.2 1994.6 593.6 1994.8 587.3 1995.0 610.6 1995.2 613.9 1995.4 603.7 1995.6 585.2 1995.8 610.6 1996.0 619.8 1996.2 601.4 1996.4 593.3 1996.6 605.2 1996.8 604.4 1997.0 609.6 1997.2 610.7 1997.4 616.8 1997.6 611.2 1997.8 590.1 1998.0 611.6 1998.2 602.7 1998.4 609.5 1998.6 607.9 1998.8 604.8 1999.0 607.2 1999.2 597.4 1999.4 600.1 1999.6 603.9 1999.8 602.1 2000.0 609.7 2000.2 608.1 2000.4 587.0 2000.6 629.7 2000.8 606.8 2001.0 613.4 2001.2 612.4 2001.4 611.2 2001.6 615.6 2001.8 589.8 2002.0 620.4 2002.2 627.6 2002.4 621.8 2002.6 607.1 2002.8 617.2 2003.0 610.6 2003.2 633.8 2003.4 611.7 2003.6 606.9 2003.8 606.9 2004.0 610.4 2004.2 624.1 2004.4 617.0 2004.6 620.7 2004.8 614.7"/>
<path fill="#77ac30" stroke="#77ac30" stroke-width="2.6" d="M218.6 624.3 219.6 617.5 220.6 610.2 221.6 603.7 222.6 595.0 223.6 595.0 224.6 602.2 225.6 614.8 226.6 616.9 227.6 600.9 228.6 580.4 229.6 576.2 230.6 583.7 231.6 594.1 232.6 603.6 233.6 591.1 234.6 576.3 235.6 572.7 236.6 576.7 237.6 590.2 238.6 593.3 239.6 587.0 240.6 565.1 241.6 546.8 242.6 546.8 243.6 559.4 244.6 566.7 245.6 562.5 246.6 549.1 247.6 537.1 248.6 537.1 249.6 548.4 250.6 557.5 251.6 558.6 252.6 541.8 253.6 529.2 254.6 527.2 255.6 529.4 256.6 541.1 257.6 550.8 258.6 545.5 259.6 534.4 260.6 523.2 261.6 525.0 262.6 533.7 263.6 540.1 264.6 538.0 265.6 527.4 266.6 518.6 267.6 521.3 268.6 530.1 269.6 538.5 270.6 537.7 271.6 534.7 272.6 526.2 273.6 526.2 274.6 534.3 275.6 535.7 276.6 537.9 277.6 535.6 278.6 522.0 279.6 516.7 280.6 512.3 281.6 518.4 282.6 525.9 283.6 516.5 284.6 511.9 285.6 507.8 286.6 512.1 287.6 522.8 288.6 530.2 289.6 529.0 290.6 521.5 291.6 516.1 292.6 510.3 293.6 519.0 294.6 537.6 295.6 534.6 296.6 529.2 297.6 522.9 298.6 517.3 299.6 520.8 300.6 534.1 301.6 540.6 302.6 532.7 303.6 521.8 304.6 520.6 305.6 520.0 306.6 527.5 307.6 518.5 308.6 508.9 309.6 496.1 310.6 489.2 311.6 489.2 312.6 499.1 313.6 501.3 314.6 491.1 315.6 487.1 316.6 475.8 317.6 475.3 318.6 480.9 319.6 492.3 320.6 500.3 321.6 499.2 322.6 494.3 323.6 485.7 324.6 485.7 325.6 496.1 326.6 500.2 327.6 499.1 328.6 493.8 329.6 488.1 330.6 488.1 331.6 496.6 332.6 503.0 333.6 497.5 334.6 487.7 335.6 478.7 336.6 478.0 337.6 484.1 338.6 492.7 339.6 489.0 340.6 478.1 341.6 466.9 342.6 466.9 343.6 469.2 344.6 479.4 345.6 475.8 346.6 466.1 347.6 460.6 348.6 457.3 349.6 463.8 350.6 470.0 351.6 468.4 352.6 463.8 353.6 454.7 354.6 455.7 355.6 457.8 356.6 464.9 357.6 470.7 358.6 476.7 359.6 467.0 360.6 463.3 361.6 463.3 362.6 465.7 363.6 467.1 364.6 462.3 365.6 453.7 366.6 445.1 367.6 443.8 368.6 441.8 369.6 445.6 370.6 439.4 371.6 424.6 372.6 409.3 373.6 406.6 374.6 406.6 375.6 409.3 376.6 401.9 377.6 392.3 378.6 390.6 379.6 392.1 380.6 401.5 381.6 418.4 382.6 420.7 383.6 414.4 384.6 405.5 385.6 399.3 386.6 401.1 387.6 412.5 388.6 420.6 389.6 414.4 390.6 401.9 391.6 396.1 392.6 399.7 393.6 405.7 394.6 412.0 395.6 408.0 396.6 392.5 397.6 384.6 398.6 391.5 399.6 396.9 400.6 403.0 401.6 405.1 402.6 399.2 403.6 390.4 404.6 390.4 405.6 399.8 406.6 410.1 407.6 418.4 408.6 425.1 409.6 419.3 410.6 415.5 411.6 415.9 412.6 425.7 413.6 430.2 414.6 428.9 415.6 421.9 416.6 417.0 417.6 417.7 418.6 420.9 419.6 428.9 420.6 425.2 421.6 419.2 422.6 407.1 423.6 402.3 424.6 404.1 425.6 409.0 426.6 410.7 427.6 399.3 428.6 398.7 429.6 390.4 430.6 397.9 431.6 408.1 432.6 415.9 433.6 405.6 434.6 401.3 435.6 395.5 436.6 392.5 437.6 400.0 438.6 406.3 439.6 395.9 440.6 384.8 441.6 376.7 442.6 373.2 443.6 381.2 444.6 388.6 445.6 388.6 446.6 380.8 447.6 374.4 448.6 371.2 449.6 370.0 450.6 379.7 451.6 381.4 452.6 373.4 453.6 362.1 454.6 358.9 455.6 358.1 456.6 364.1 457.6 366.2 458.6 366.9 459.6 358.3 460.6 351.9 461.6 344.7 462.6 344.7 463.6 347.7 464.6 351.1 465.6 354.6 466.6 347.0 467.6 347.0 468.6 352.0 469.6 358.4 470.6 365.1 471.6 374.3 472.6 372.0 473.6 365.0 474.6 359.3 475.6 356.3 476.6 358.5 477.6 360.2 478.6 348.6 479.6 338.0 480.6 329.4 481.6 322.8 482.6 320.2 483.6 315.4 484.6 312.9 485.6 310.9 486.6 309.5 487.6 312.6 488.6 317.1 489.6 329.1 490.6 330.5 491.6 328.0 492.6 325.1 493.6 323.9 494.6 326.8 495.6 333.5 496.6 338.2 497.6 331.8 498.6 323.4 499.6 319.9 500.6 315.1 501.6 311.8 502.6 311.8 503.6 313.6 504.6 306.1 505.6 299.1 506.6 288.7 507.6 281.4 508.6 280.5 509.6 276.7 510.6 273.2 511.6 267.3 512.6 263.8 513.6 268.8 514.6 277.4 515.6 287.3 516.6 287.3 517.6 285.2 518.6 280.4 519.6 281.0 520.6 288.9 521.6 291.5 522.6 296.8 523.6 296.8 524.6 297.2 525.6 299.2 526.6 304.9 527.6 312.9 528.6 319.3 529.6 314.9 530.6 310.8 531.6 310.8 532.6 314.5 533.6 319.0 534.6 319.4 535.6 312.2 536.6 304.6 537.6 299.4 538.6 294.2 539.6 294.2 540.6 285.8 541.6 285.8 542.6 286.8 543.6 287.5 544.6 292.4 545.6 292.3 546.6 284.5 547.6 281.3 548.6 280.9 549.6 285.8 550.6 286.2 551.6 290.6 552.6 289.5 553.6 285.8 554.6 283.5 555.6 282.0 556.6 278.6 557.6 276.3 558.6 273.3 559.6 271.1 560.6 267.8 561.6 266.5 562.6 269.2 563.6 261.2 564.6 257.4 565.6 255.0 566.6 255.2 567.6 255.0 568.6 254.4 569.6 254.4 570.6 253.0 571.6 245.5 572.6 237.8 573.6 230.2 574.6 223.2 575.6 217.1 576.6 212.7 577.6 204.3 578.6 204.3 579.6 210.4 580.6 212.2 581.6 220.1 582.6 225.1 583.6 232.0 584.6 232.1 585.6 237.7 586.6 242.7 587.6 246.0 588.6 242.3 589.6 240.9 590.6 238.7 591.6 236.3 592.6 236.3 593.6 232.4 594.6 226.2 595.6 223.8 596.6 218.9 597.6 218.1 598.6 220.1 599.6 226.7 600.6 223.8 601.6 213.3 602.6 213.3 603.6 219.1 604.6 226.6 605.6 229.7 606.6 227.2 607.6 220.3 608.6 213.9 609.6 212.9 610.6 215.7 611.6 222.5 612.6 215.2 613.6 208.6 614.6 203.8 615.6 196.4 616.6 195.5 617.6 197.8 618.6 205.8 619.6 201.4 620.6 193.6 621.6 187.7 622.6 189.5 623.6 190.4 624.6 192.2 625.6 184.8 626.6 182.7 627.6 169.5 628.6 165.7 629.6 170.6 630.6 181.3 631.6 184.0 632.6 182.7 633.6 182.9 634.6 180.3 635.6 188.9 636.6 198.0 637.6 199.3 638.6 200.7 639.6 195.9 640.6 193.7 641.6 187.1 642.6 187.1 643.6 189.9 644.6 187.7 645.6 183.5 646.6 179.0 647.6 176.5 648.6 175.7 649.6 178.2 650.6 172.7 651.6 172.6 652.6 171.9 653.6 174.4 654.6 176.2 655.6 180.3 656.6 186.7 657.6 186.5 658.6 182.4 659.6 180.9 660.6 183.6 661.6 185.9 662.6 190.6 663.6 192.2 664.6 192.7 665.6 179.4 666.6 162.3 667.6 161.6 668.6 168.7 669.6 171.8 670.6 165.1 671.6 160.9 672.6 155.4 673.6 156.9 674.6 164.9 675.6 170.5 676.6 177.0 677.6 176.1 678.6 169.8 679.6 166.3 680.6 169.9 681.6 174.7 682.6 180.7 683.6 178.2 684.6 172.7 685.6 175.3 686.6 172.6 687.6 171.2 688.6 172.2 689.6 173.0 690.6 163.4 691.6 148.1 692.6 146.4 693.6 145.3 694.6 142.5 695.6 139.3 696.6 130.4 697.6 130.0 698.6 127.9 699.6 127.9 700.6 139.6 701.6 142.4 702.6 148.2 703.6 143.0 704.6 135.4 705.6 134.2 706.6 126.0 707.6 118.2 708.6 110.0 709.6 104.7 710.6 101.3 711.6 101.3 712.6 99.0 713.6 93.9 714.6 93.9 715.6 86.7 716.6 84.8 717.6 78.8 718.6 82.9 719.6 88.3 720.6 98.8 721.6 101.9 722.6 98.8 723.6 94.6 724.6 95.8 725.6 108.2 726.6 114.1 727.6 109.3 728.6 103.0 729.6 96.4 730.6 94.9 731.6 99.9 732.6 106.2 733.6 94.5 734.6 83.5 735.6 72.9 736.6 79.4 737.6 81.4 738.6 82.7 739.6 90.6 740.6 84.2 741.6 79.7 742.6 76.0 743.6 76.0 744.6 77.2 745.6 79.4 746.6 72.0 747.6 61.8 748.6 56.6 749.6 54.9 750.6 59.5 751.6 59.5 752.6 63.7 753.6 64.9 754.6 67.9 755.6 75.0 756.6 71.8 757.6 69.5 758.6 62.0 759.6 62.0 760.6 58.1 761.6 52.0 762.6 57.3 763.6 56.8 764.6 62.3 765.6 61.2 766.6 54.2 767.6 45.7 768.6 46.9 769.6 49.1 770.6 51.5 771.6 41.8 772.6 35.5 773.6 35.9 774.6 41.5 775.6 40.2 776.6 42.8 777.6 34.0 778.6 34.0 779.6 35.0 780.6 37.3 781.6 40.6 782.6 41.0 783.6 38.3 784.6 34.7 785.6 34.0 786.6 35.6 787.6 42.6 788.6 41.2 789.6 35.4 789.6 41.2 788.6 47.7 787.6 46.5 786.6 42.6 785.6 36.0 784.6 41.3 783.6 41.4 782.6 44.4 781.6 43.3 780.6 41.0 779.6 39.1 778.6 36.7 777.6 42.8 776.6 46.7 775.6 46.7 774.6 45.3 773.6 44.2 772.6 41.8 771.6 55.8 770.6 59.1 769.6 53.5 768.6 49.4 767.6 54.2 766.6 69.6 765.6 69.2 764.6 65.1 763.6 63.9 762.6 60.4 761.6 59.0 760.6 63.0 759.6 64.7 758.6 69.5 757.6 73.5 756.6 82.2 755.6 82.6 754.6 75.4 753.6 68.6 752.6 66.0 751.6 63.7 750.6 63.4 749.6 61.0 748.6 61.8 747.6 72.7 746.6 79.4 745.6 90.0 744.6 89.4 743.6 80.2 742.6 79.7 741.6 84.2 740.6 91.7 739.6 96.5 738.6 90.8 737.6 86.0 736.6 86.0 735.6 83.5 734.6 95.4 733.6 109.7 732.6 112.1 731.6 106.2 730.6 99.9 729.6 103.0 728.6 109.3 727.6 114.8 726.6 122.1 725.6 120.0 724.6 108.2 723.6 98.8 722.6 102.6 721.6 107.9 720.6 107.9 719.6 98.8 718.6 88.3 717.6 85.9 716.6 90.1 715.6 94.5 714.6 96.9 713.6 106.0 712.6 104.7 711.6 105.6 710.6 110.4 709.6 110.0 708.6 118.2 707.6 128.4 706.6 134.8 705.6 136.5 704.6 143.0 703.6 149.1 702.6 153.2 701.6 151.6 700.6 142.4 699.6 139.7 698.6 131.8 697.6 138.5 696.6 141.7 695.6 142.5 694.6 145.3 693.6 148.0 692.6 150.3 691.6 163.4 690.6 174.6 689.6 177.6 688.6 174.4 687.6 176.7 686.6 176.7 685.6 178.9 684.6 178.6 683.6 183.0 682.6 185.2 681.6 185.2 680.6 177.4 679.6 169.9 678.6 179.6 677.6 180.3 676.6 182.0 675.6 178.2 674.6 171.5 673.6 164.9 672.6 161.8 671.6 165.1 670.6 172.5 669.6 175.7 668.6 172.8 667.6 170.3 666.6 179.4 665.6 192.7 664.6 199.5 663.6 197.5 662.6 196.3 661.6 191.8 660.6 189.2 659.6 184.0 658.6 189.2 657.6 191.8 656.6 191.8 655.6 186.7 654.6 180.3 653.6 176.5 652.6 174.9 651.6 174.9 650.6 185.0 649.6 184.2 648.6 181.2 647.6 185.3 646.6 183.5 645.6 187.7 644.6 192.8 643.6 193.4 642.6 191.6 641.6 194.6 640.6 200.6 639.6 200.9 638.6 204.7 637.6 204.7 636.6 200.5 635.6 198.0 634.6 188.9 633.6 186.0 632.6 185.0 631.6 187.5 630.6 187.5 629.6 181.3 628.6 170.6 627.6 183.6 626.6 187.4 625.6 194.4 624.6 202.7 623.6 196.1 622.6 194.7 621.6 193.6 620.6 201.4 619.6 208.0 618.6 210.8 617.6 205.8 616.6 199.5 615.6 203.8 614.6 210.6 613.6 216.6 612.6 222.7 611.6 226.9 610.6 222.5 609.6 215.7 608.6 220.3 607.6 227.2 606.6 232.9 605.6 233.4 604.6 230.1 603.6 228.5 602.6 219.1 601.6 223.8 600.6 228.2 599.6 232.5 598.6 226.7 597.6 225.0 596.6 224.4 595.6 229.7 594.6 234.5 593.6 236.7 592.6 236.9 591.6 238.8 590.6 245.3 589.6 242.6 588.6 246.8 587.6 250.0 586.6 250.0 585.6 246.6 584.6 240.0 583.6 234.6 582.6 233.9 581.6 228.6 580.6 220.2 579.6 214.6 578.6 210.4 577.6 212.7 576.6 217.1 575.6 223.6 574.6 231.2 573.6 237.8 572.6 246.2 571.6 254.0 570.6 258.0 569.6 256.5 568.6 257.3 567.6 257.2 566.6 258.5 565.6 257.4 564.6 261.3 563.6 269.2 562.6 273.2 561.6 273.2 560.6 272.8 559.6 273.3 558.6 276.3 557.6 278.6 556.6 282.8 555.6 284.7 554.6 285.8 553.6 289.5 552.6 294.5 551.6 294.4 550.6 291.6 549.6 288.6 548.6 286.4 547.6 285.7 546.6 294.2 545.6 295.6 544.6 297.1 543.6 293.3 542.6 291.6 541.6 287.7 540.6 294.7 539.6 295.8 538.6 300.4 537.6 305.2 536.6 315.4 535.6 319.4 534.6 323.0 533.6 323.8 532.6 322.8 531.6 316.7 530.6 315.9 529.6 320.5 528.6 320.5 527.6 319.3 526.6 314.0 525.6 304.9 524.6 300.1 523.6 300.6 522.6 299.0 521.6 298.3 520.6 295.1 519.6 288.9 518.6 285.2 517.6 293.6 516.6 293.6 515.6 290.4 514.6 287.7 513.6 278.7 512.6 270.0 511.6 273.4 510.6 278.1 509.6 282.7 508.6 283.3 507.6 289.0 506.6 299.1 505.6 306.1 504.6 313.6 503.6 318.0 502.6 316.4 501.6 320.1 500.6 319.9 499.6 326.2 498.6 332.3 497.6 339.1 496.6 341.3 495.6 338.4 494.6 333.5 493.6 327.9 492.6 328.0 491.6 330.5 490.6 336.0 489.6 333.5 488.6 331.5 487.6 317.6 486.6 313.0 485.6 315.0 484.6 317.9 483.6 321.4 482.6 324.9 481.6 329.4 480.6 338.0 479.6 348.6 478.6 363.6 477.6 364.9 476.6 361.9 475.6 361.8 474.6 365.0 473.6 374.6 472.6 379.5 471.6 380.5 470.6 374.3 469.6 367.2 468.6 358.4 467.6 352.0 466.6 354.7 465.6 359.0 464.6 358.3 463.6 353.5 462.6 348.0 461.6 351.9 460.6 359.0 459.6 367.6 458.6 373.2 457.6 373.2 456.6 367.4 455.6 364.1 454.6 363.7 453.6 373.4 452.6 381.4 451.6 385.6 450.6 384.9 449.6 379.7 448.6 378.5 447.6 382.0 446.6 388.6 445.6 396.3 444.6 396.3 443.6 388.6 442.6 381.4 441.6 386.1 440.6 395.9 439.6 406.3 438.6 411.5 437.6 409.2 436.6 400.0 435.6 401.9 434.6 406.1 433.6 415.9 432.6 420.9 431.6 420.9 430.6 409.3 429.6 399.6 428.6 401.5 427.6 412.2 426.6 415.9 425.6 413.0 424.6 413.0 423.6 407.1 422.6 419.2 421.6 425.2 420.6 435.0 419.6 435.0 418.6 431.7 417.6 420.9 416.6 421.9 415.6 430.1 414.6 431.2 413.6 433.6 412.6 430.9 411.6 425.7 410.6 419.3 409.6 427.3 408.6 432.9 407.6 432.9 406.6 418.4 405.6 410.1 404.6 400.3 403.6 399.2 402.6 405.1 401.6 415.5 400.6 415.3 399.6 403.7 398.6 396.9 397.6 392.5 396.6 408.0 395.6 414.5 394.6 414.5 393.6 414.5 392.6 405.7 391.6 401.9 390.6 415.6 389.6 424.6 388.6 426.8 387.6 420.6 386.6 412.5 385.6 406.1 384.6 415.6 383.6 420.7 382.6 429.7 381.6 425.6 380.6 418.4 379.6 401.9 378.6 393.4 377.6 401.9 376.6 409.3 375.6 413.0 374.6 412.2 373.6 409.3 372.6 424.6 371.6 439.4 370.6 454.0 369.6 454.0 368.6 447.7 367.6 448.5 366.6 457.6 365.6 465.4 364.6 467.1 363.6 469.4 362.6 469.3 361.6 467.8 360.6 467.5 359.6 476.7 358.6 485.0 357.6 485.0 356.6 474.1 355.6 467.1 354.6 459.2 353.6 466.1 352.6 468.4 351.6 479.3 350.6 481.1 349.6 470.6 348.6 465.7 347.6 466.1 346.6 475.8 345.6 479.4 344.6 485.2 343.6 483.0 342.6 471.1 341.6 478.1 340.6 489.0 339.6 496.9 338.6 496.2 337.6 495.6 336.6 484.1 335.6 488.5 334.6 498.2 333.6 503.0 332.6 506.3 331.6 503.8 330.6 497.2 329.6 493.8 328.6 501.3 327.6 501.5 326.6 508.4 325.6 500.7 324.6 496.1 323.6 494.9 322.6 499.2 321.6 506.0 320.6 506.0 319.6 500.3 318.6 492.3 317.6 480.9 316.6 487.1 315.6 493.7 314.6 506.2 313.6 506.2 312.6 503.3 311.6 499.7 310.6 496.1 309.6 508.9 308.6 518.5 307.6 534.7 306.6 534.6 305.6 527.5 304.6 522.3 303.6 532.7 302.6 542.1 301.6 548.3 300.6 547.2 299.6 534.1 298.6 522.9 297.6 529.2 296.6 535.8 295.6 543.7 294.6 549.0 293.6 537.6 292.6 519.0 291.6 521.5 290.6 529.0 289.6 535.2 288.6 533.8 287.6 530.2 286.6 522.8 285.6 513.1 284.6 519.3 283.6 526.1 282.6 530.9 281.6 525.9 280.6 520.3 279.6 522.0 278.6 535.6 277.6 539.5 276.6 545.8 275.6 546.4 274.6 537.5 273.6 534.3 272.6 534.7 271.6 538.7 270.6 544.9 269.6 544.4 268.6 538.5 267.6 530.1 266.6 527.4 265.6 539.4 264.6 546.2 263.6 546.2 262.6 541.3 261.6 535.7 260.6 534.4 259.6 545.5 258.6 557.2 257.6 557.2 256.6 550.8 255.6 541.1 254.6 529.4 253.6 541.8 252.6 558.6 251.6 570.6 250.6 570.6 249.6 557.5 248.6 548.4 247.6 551.3 246.6 562.5 245.6 581.2 244.6 582.4 243.6 566.7 242.6 559.4 241.6 565.1 240.6 587.0 239.6 607.4 238.6 607.4 237.6 593.3 236.6 590.2 235.6 576.7 234.6 591.1 233.6 607.9 232.6 611.7 231.6 603.6 230.6 594.1 229.6 583.7 228.6 600.9 227.6 616.9 226.6 626.9 225.6 621.6 224.6 614.8 223.6 602.2 222.6 603.7 221.6 610.9 220.6 617.5 219.6 624.3 218.6 631.9Z"/>
</g>
<g fill="#2e2e2e"><text x="218.00" y="1088.2" text-anchor="middle">200</text><text x="416.59" y="1088.2" text-anchor="middle">250</text><text x="615.18" y="1088.2" text-anchor="middle">300</text><text x="813.77" y="1088.2" text-anchor="middle">350</text><text x="1012.36" y="1088.2" text-anchor="middle">400</text><text x="1210.94" y="1088.2" text-anchor="middle">450</text><text x="1409.53" y="1088.2" text-anchor="middle">500</text><text x="1608.12" y="1088.2" text-anchor="middle">550</text><text x="1806.71" y="1088.2" text-anchor="middle">600</text><text x="2005.30" y="1088.2" text-anchor="middle">650</text><text x="203" y="1038.50" text-anchor="end">-0.02</text><text x="203" y="842.04" text-anchor="end">-0.01</text><text x="203" y="645.58" text-anchor="end">0</text><text x="203" y="449.12" text-anchor="end">0.01</text><text x="203" y="252.66" text-anchor="end">0.02</text><text x="203" y="56.20" text-anchor="end">0.03</text><text x="1110" y="1159.5" text-anchor="middle">Time (s)</text><text transform="translate(57.2 527.3) rotate(-90)" text-anchor="middle">Torsional displacement, <tspan font-family="Liberation Serif" font-style="italic">&#952;</tspan> (rad)</text></g>
<rect x="1333" y="51.3" width="654.8" height="217" fill="#fff" stroke="#000" stroke-width="2.4"/>
<path d="M1339.2 89.1H1404.4" stroke="#f00" stroke-width="2.5"/>
<path d="M1339.2 159.7H1404.4" stroke="#00f" stroke-width="2.5"/>
<path d="M1339.2 230.2H1404.4" stroke="#77ac30" stroke-width="2.5"/>
<g fill="#000"><text x="1409.3" y="111.6">Actual</text><text x="1409.3" y="182">Tikhonov regularisation</text><text x="1409.3" y="252.9">Numerical integration</text></g>
</svg></body></html>
